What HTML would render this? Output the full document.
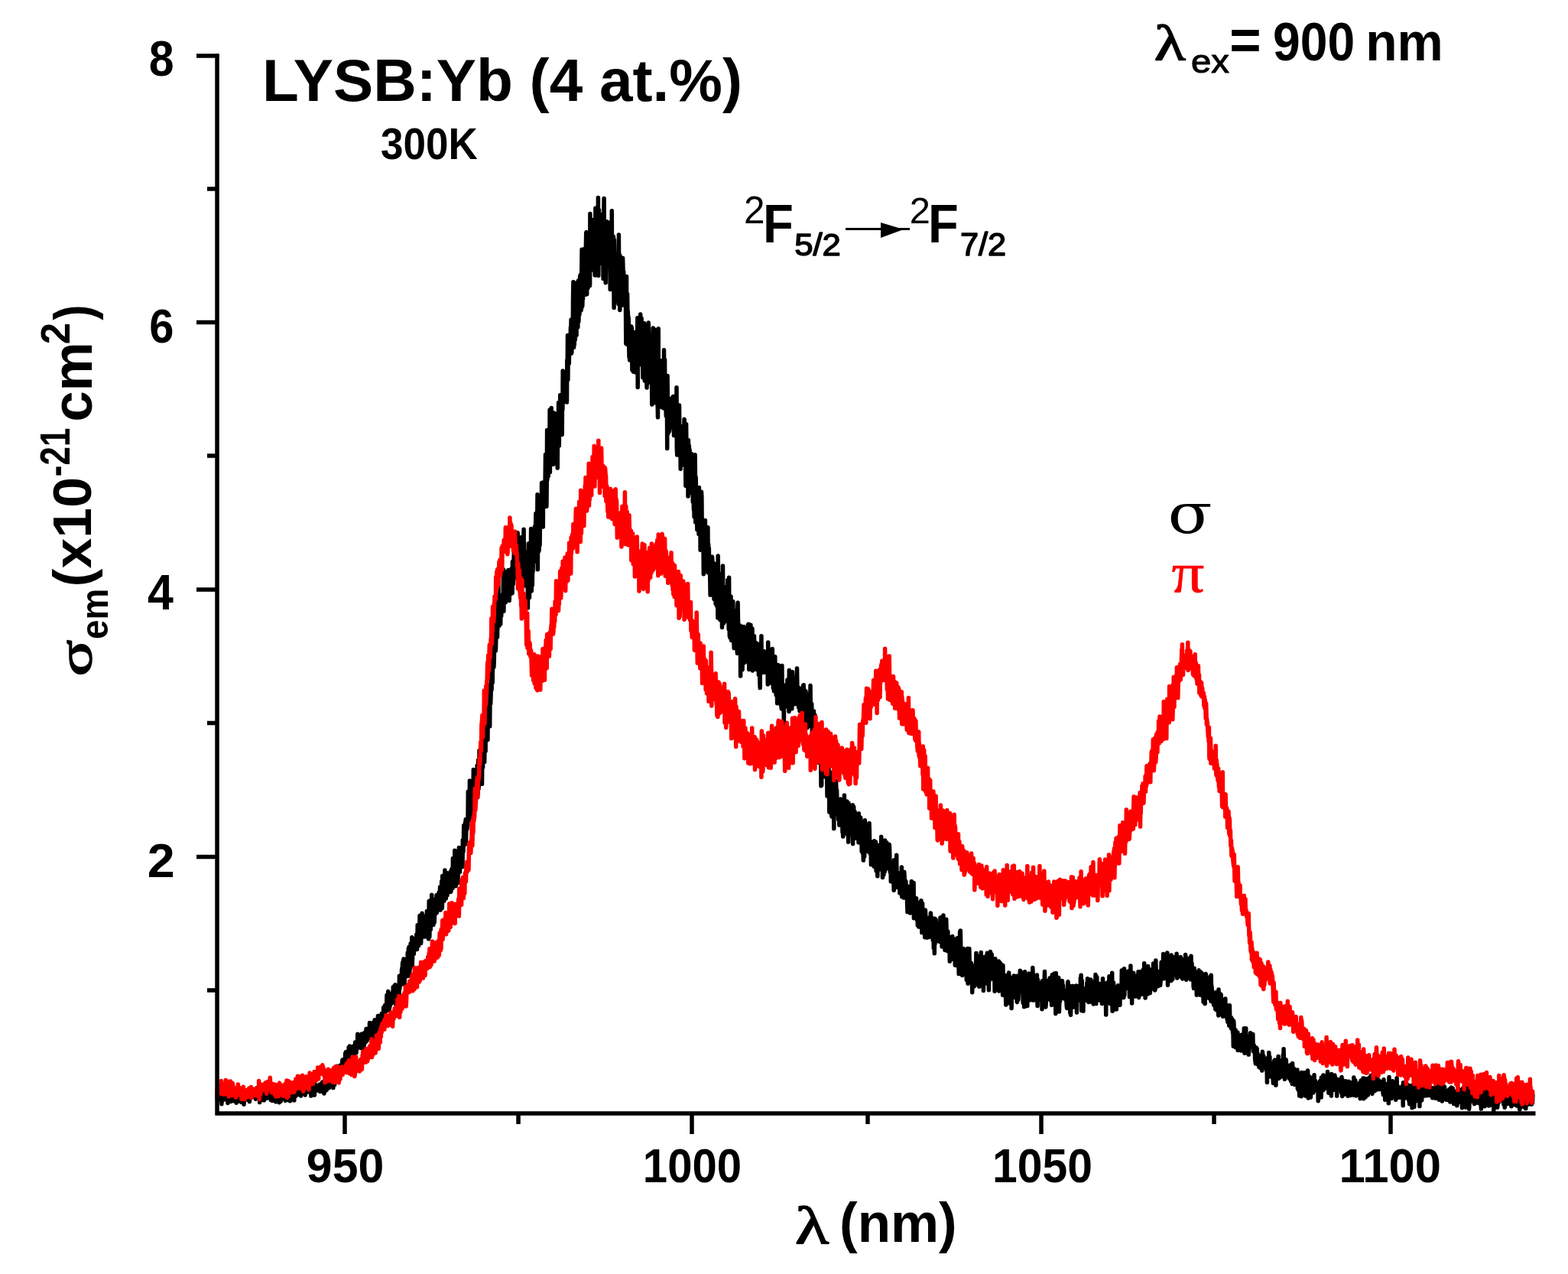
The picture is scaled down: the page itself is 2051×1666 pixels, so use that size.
<!DOCTYPE html>
<html><head><meta charset="utf-8"><title>LYSB:Yb emission cross-section</title>
<style>
html,body{margin:0;padding:0;background:#fff;}
svg{display:block;}
text{font-family:"Liberation Sans", Arial, sans-serif;font-weight:bold;fill:#000;}
.sym{font-family:"Liberation Serif", "DejaVu Serif", serif;font-weight:normal;}
</style></head>
<body>
<svg width="2051" height="1666" viewBox="0 0 2051 1666">
<rect width="2051" height="1666" fill="#fff"/>
<g>
<g fill="none" stroke-linejoin="round">
<polyline points="284.0,1438.3 284.4,1439.0 284.7,1432.8 285.1,1429.1 285.4,1427.7 285.8,1432.8 286.1,1428.0 286.5,1426.2 286.8,1433.6 287.2,1433.3 287.5,1435.2 287.9,1428.6 288.2,1432.8 288.6,1432.5 288.9,1426.0 289.3,1435.3 289.6,1434.3 290.0,1443.7 290.3,1433.8 290.7,1432.3 291.0,1438.5 291.4,1433.9 291.7,1437.1 292.1,1431.3 292.4,1434.0 292.8,1437.7 293.1,1436.2 293.5,1433.7 293.8,1428.2 294.2,1435.2 294.5,1433.5 294.9,1436.4 295.2,1434.2 295.6,1438.2 295.9,1433.0 296.3,1434.2 296.6,1436.3 297.0,1428.4 297.3,1431.5 297.7,1431.1 298.0,1442.4 298.4,1433.0 298.7,1436.4 299.1,1436.3 299.4,1432.2 299.8,1426.4 300.1,1437.9 300.5,1431.7 300.8,1436.9 301.2,1427.8 301.5,1431.8 301.9,1439.6 302.2,1440.5 302.6,1428.1 302.9,1428.0 303.3,1433.9 303.6,1437.5 304.0,1435.0 304.3,1435.7 304.7,1429.9 305.0,1437.2 305.4,1439.7 305.7,1432.7 306.1,1428.2 306.4,1431.3 306.8,1438.3 307.1,1427.0 307.5,1434.6 307.8,1430.5 308.2,1434.5 308.5,1434.1 308.9,1435.3 309.2,1442.2 309.6,1437.3 309.9,1441.6 310.3,1434.9 310.6,1433.3 311.0,1437.2 311.3,1423.6 311.7,1435.3 312.0,1436.2 312.4,1429.8 312.7,1437.6 313.1,1432.9 313.4,1424.2 313.8,1434.5 314.1,1431.0 314.5,1433.1 314.8,1434.8 315.2,1441.2 315.5,1436.0 315.9,1435.4 316.2,1437.3 316.6,1427.2 316.9,1441.2 317.3,1430.5 317.6,1437.5 318.0,1430.3 318.3,1431.0 318.7,1433.7 319.0,1444.2 319.4,1438.7 319.7,1432.7 320.1,1434.2 320.4,1430.0 320.8,1434.9 321.1,1432.2 321.5,1438.0 321.8,1428.2 322.2,1432.7 322.5,1430.1 322.9,1430.5 323.2,1436.9 323.6,1434.0 323.9,1435.9 324.3,1438.4 324.6,1438.1 325.0,1426.2 325.3,1434.8 325.7,1424.0 326.0,1431.6 326.4,1440.6 326.7,1430.6 327.1,1429.6 327.4,1431.8 327.8,1430.9 328.1,1430.8 328.5,1426.9 328.8,1435.2 329.2,1434.1 329.5,1428.8 329.9,1431.0 330.2,1432.6 330.6,1434.3 330.9,1431.3 331.3,1432.7 331.6,1428.3 332.0,1424.5 332.3,1427.2 332.7,1434.2 333.0,1434.0 333.4,1430.2 333.7,1426.9 334.1,1430.9 334.4,1437.2 334.8,1435.8 335.1,1426.3 335.5,1429.3 335.8,1422.7 336.2,1424.2 336.5,1430.4 336.9,1429.6 337.2,1434.0 337.6,1435.4 337.9,1433.4 338.3,1435.7 338.6,1426.9 339.0,1424.2 339.3,1431.8 339.7,1441.6 340.0,1431.2 340.4,1424.1 340.7,1430.5 341.1,1436.0 341.4,1424.4 341.8,1432.9 342.1,1426.2 342.5,1435.0 342.8,1432.6 343.2,1430.3 343.5,1438.2 343.9,1426.8 344.2,1425.4 344.6,1437.3 344.9,1424.4 345.3,1438.8 345.6,1428.2 346.0,1423.5 346.3,1428.2 346.7,1428.8 347.0,1429.0 347.4,1427.1 347.7,1433.0 348.1,1417.0 348.4,1425.2 348.8,1426.5 349.1,1436.2 349.5,1418.2 349.8,1425.9 350.2,1422.2 350.5,1424.7 350.9,1431.0 351.2,1430.2 351.6,1435.2 351.9,1425.8 352.3,1430.1 352.6,1434.6 353.0,1433.5 353.3,1427.9 353.7,1435.0 354.0,1425.5 354.4,1438.6 354.7,1431.0 355.1,1430.0 355.4,1432.0 355.8,1435.0 356.1,1439.4 356.5,1430.7 356.8,1429.8 357.2,1434.6 357.5,1427.9 357.9,1424.2 358.2,1436.4 358.6,1430.8 358.9,1438.2 359.3,1428.2 359.6,1421.0 360.0,1434.8 360.3,1434.2 360.7,1440.9 361.0,1435.7 361.4,1434.6 361.7,1435.9 362.1,1431.2 362.4,1433.3 362.8,1426.4 363.1,1435.2 363.5,1428.8 363.8,1430.4 364.2,1435.8 364.5,1436.7 364.9,1427.5 365.2,1441.7 365.6,1429.3 365.9,1436.0 366.3,1436.5 366.6,1432.9 367.0,1432.6 367.3,1440.2 367.7,1435.8 368.0,1433.6 368.4,1422.7 368.7,1427.8 369.1,1436.8 369.4,1432.1 369.8,1426.5 370.1,1427.9 370.5,1429.5 370.8,1434.3 371.2,1432.8 371.5,1435.8 371.9,1427.1 372.2,1435.7 372.6,1428.6 372.9,1429.6 373.3,1439.3 373.6,1431.4 374.0,1430.3 374.3,1430.0 374.7,1429.2 375.0,1438.4 375.4,1437.6 375.7,1434.4 376.1,1431.9 376.4,1436.0 376.8,1430.6 377.1,1433.2 377.5,1432.9 377.8,1431.4 378.2,1438.9 378.5,1439.4 378.9,1437.3 379.2,1421.8 379.6,1439.8 379.9,1434.4 380.3,1428.7 380.6,1430.5 381.0,1435.9 381.3,1435.9 381.7,1434.1 382.0,1430.5 382.4,1429.8 382.7,1433.4 383.1,1428.7 383.4,1424.6 383.8,1425.8 384.1,1427.9 384.5,1429.9 384.8,1439.0 385.2,1421.3 385.5,1430.0 385.9,1427.0 386.2,1428.7 386.6,1433.6 386.9,1432.8 387.3,1425.9 387.6,1423.8 388.0,1419.7 388.3,1425.7 388.7,1431.8 389.0,1424.3 389.4,1428.8 389.7,1428.6 390.1,1426.9 390.4,1430.2 390.8,1424.3 391.1,1420.8 391.5,1419.1 391.8,1429.2 392.2,1422.9 392.5,1423.1 392.9,1428.6 393.2,1420.7 393.6,1433.0 393.9,1427.6 394.3,1421.8 394.6,1421.2 395.0,1429.5 395.3,1418.5 395.7,1421.1 396.0,1424.1 396.4,1425.0 396.7,1424.1 397.1,1425.8 397.4,1422.1 397.8,1423.3 398.1,1429.9 398.5,1426.9 398.8,1421.5 399.2,1431.9 399.5,1413.9 399.9,1423.9 400.2,1426.7 400.6,1428.2 400.9,1424.0 401.3,1421.6 401.6,1426.3 402.0,1422.6 402.3,1425.8 402.7,1410.9 403.0,1425.4 403.4,1419.7 403.7,1428.1 404.1,1427.1 404.4,1427.0 404.8,1421.5 405.1,1425.6 405.5,1421.8 405.8,1424.5 406.2,1422.8 406.5,1419.3 406.9,1433.1 407.2,1427.0 407.6,1413.5 407.9,1427.9 408.3,1416.7 408.6,1422.4 409.0,1420.7 409.3,1420.9 409.7,1424.7 410.0,1421.9 410.4,1416.4 410.7,1423.5 411.1,1425.3 411.4,1432.1 411.8,1421.5 412.1,1417.7 412.5,1421.6 412.8,1426.7 413.2,1419.2 413.5,1420.0 413.9,1426.2 414.2,1423.4 414.6,1424.6 414.9,1420.4 415.3,1419.5 415.6,1421.9 416.0,1422.7 416.3,1421.9 416.7,1425.6 417.0,1426.2 417.4,1426.2 417.7,1425.8 418.1,1419.2 418.4,1418.0 418.8,1427.4 419.1,1423.6 419.5,1424.1 419.8,1417.8 420.2,1422.4 420.5,1420.0 420.9,1418.7 421.2,1419.6 421.6,1415.1 421.9,1422.6 422.3,1427.7 422.6,1418.2 423.0,1421.9 423.3,1415.8 423.7,1424.2 424.0,1429.9 424.4,1414.4 424.7,1419.1 425.1,1427.0 425.4,1421.5 425.8,1420.0 426.1,1409.2 426.5,1418.2 426.8,1423.3 427.2,1425.6 427.5,1421.4 427.9,1415.1 428.2,1414.4 428.6,1408.5 428.9,1412.0 429.3,1422.6 429.6,1416.2 430.0,1409.9 430.3,1422.7 430.7,1407.5 431.0,1421.6 431.4,1413.4 431.7,1416.2 432.1,1417.5 432.4,1415.0 432.8,1419.6 433.1,1413.0 433.5,1410.9 433.8,1408.9 434.2,1404.6 434.5,1407.9 434.9,1415.8 435.2,1414.6 435.6,1417.0 435.9,1422.6 436.3,1412.8 436.6,1411.4 437.0,1402.0 437.3,1406.9 437.7,1418.6 438.0,1409.9 438.4,1406.2 438.7,1408.0 439.1,1396.7 439.4,1401.5 439.8,1398.8 440.1,1394.2 440.5,1408.0 440.8,1408.4 441.2,1402.1 441.5,1404.1 441.9,1396.8 442.2,1403.4 442.6,1404.3 442.9,1407.6 443.3,1407.1 443.6,1401.1 444.0,1397.5 444.3,1393.4 444.7,1393.8 445.0,1399.3 445.4,1398.5 445.7,1395.1 446.1,1402.7 446.4,1397.0 446.8,1393.3 447.1,1391.6 447.5,1392.3 447.8,1386.6 448.2,1385.8 448.5,1391.9 448.9,1386.6 449.2,1387.5 449.6,1394.4 449.9,1386.7 450.3,1393.9 450.6,1387.0 451.0,1394.4 451.3,1388.9 451.7,1377.3 452.0,1392.3 452.4,1384.7 452.7,1375.4 453.1,1385.8 453.4,1385.8 453.8,1378.0 454.1,1381.3 454.5,1387.0 454.8,1391.3 455.2,1389.6 455.5,1389.8 455.9,1389.0 456.2,1369.7 456.6,1378.7 456.9,1383.3 457.3,1368.1 457.6,1385.9 458.0,1386.3 458.3,1377.1 458.7,1378.9 459.0,1375.6 459.4,1380.4 459.7,1380.0 460.1,1379.9 460.4,1373.7 460.8,1380.9 461.1,1376.3 461.5,1383.0 461.8,1378.9 462.2,1368.2 462.5,1367.9 462.9,1375.8 463.2,1372.1 463.6,1377.0 463.9,1378.4 464.3,1373.3 464.6,1363.0 465.0,1365.2 465.3,1374.8 465.7,1364.9 466.0,1376.8 466.4,1369.3 466.7,1372.3 467.1,1363.5 467.4,1367.6 467.8,1352.3 468.1,1365.8 468.5,1369.9 468.8,1360.6 469.2,1360.3 469.5,1364.5 469.9,1364.6 470.2,1359.0 470.6,1367.7 470.9,1353.5 471.3,1369.9 471.6,1354.4 472.0,1357.7 472.3,1370.6 472.7,1356.2 473.0,1351.9 473.4,1362.3 473.7,1355.9 474.1,1354.4 474.4,1356.8 474.8,1356.3 475.1,1354.6 475.5,1354.0 475.8,1370.4 476.2,1355.8 476.5,1365.9 476.9,1350.6 477.2,1362.8 477.6,1351.1 477.9,1355.9 478.3,1362.7 478.6,1355.0 479.0,1345.5 479.3,1354.4 479.7,1356.7 480.0,1361.2 480.4,1350.6 480.7,1354.8 481.1,1356.8 481.4,1345.1 481.8,1354.9 482.1,1349.7 482.5,1357.7 482.8,1353.7 483.2,1352.9 483.5,1337.5 483.9,1352.5 484.2,1350.4 484.6,1346.1 484.9,1348.7 485.3,1343.2 485.6,1352.5 486.0,1355.4 486.3,1354.6 486.7,1346.6 487.0,1361.3 487.4,1355.3 487.7,1342.5 488.1,1347.7 488.4,1337.0 488.8,1347.1 489.1,1352.4 489.5,1356.0 489.8,1343.8 490.2,1333.8 490.5,1344.8 490.9,1355.2 491.2,1346.2 491.6,1353.8 491.9,1350.3 492.3,1355.2 492.6,1348.0 493.0,1338.6 493.3,1346.1 493.7,1360.8 494.0,1338.4 494.4,1328.4 494.7,1356.6 495.1,1344.0 495.4,1336.1 495.8,1335.8 496.1,1328.5 496.5,1344.0 496.8,1339.0 497.2,1332.4 497.5,1333.1 497.9,1332.1 498.2,1342.3 498.6,1332.2 498.9,1342.9 499.3,1325.5 499.6,1326.3 500.0,1326.3 500.3,1325.0 500.7,1327.5 501.0,1335.0 501.4,1335.6 501.7,1317.4 502.1,1334.3 502.4,1324.5 502.8,1335.0 503.1,1320.7 503.5,1314.6 503.8,1326.2 504.2,1324.1 504.5,1314.9 504.9,1317.7 505.2,1317.6 505.6,1318.1 505.9,1301.5 506.3,1304.5 506.6,1313.5 507.0,1314.2 507.3,1307.2 507.7,1296.5 508.0,1320.1 508.4,1306.9 508.7,1300.8 509.1,1321.6 509.4,1317.7 509.8,1316.8 510.1,1315.0 510.5,1312.6 510.8,1300.0 511.2,1307.9 511.5,1310.3 511.9,1312.4 512.2,1310.9 512.6,1298.7 512.9,1301.7 513.3,1303.7 513.6,1304.6 514.0,1298.9 514.3,1290.8 514.7,1295.6 515.0,1308.0 515.4,1305.1 515.7,1309.8 516.1,1289.1 516.4,1301.1 516.8,1311.8 517.1,1287.8 517.5,1294.9 517.8,1289.8 518.2,1313.8 518.5,1303.6 518.9,1298.3 519.2,1304.2 519.6,1302.0 519.9,1310.2 520.3,1311.3 520.6,1307.6 521.0,1301.2 521.3,1303.3 521.7,1302.2 522.0,1303.7 522.4,1276.3 522.7,1293.6 523.1,1289.7 523.4,1288.9 523.8,1283.8 524.1,1283.8 524.5,1287.1 524.8,1283.0 525.2,1280.9 525.5,1268.8 525.9,1265.7 526.2,1268.9 526.6,1259.0 526.9,1269.2 527.3,1265.4 527.6,1256.1 528.0,1254.0 528.3,1266.1 528.7,1264.2 529.0,1287.8 529.4,1275.3 529.7,1259.8 530.1,1261.4 530.4,1255.9 530.8,1257.1 531.1,1260.1 531.5,1261.9 531.8,1255.9 532.2,1268.1 532.5,1265.6 532.9,1276.6 533.2,1246.1 533.6,1263.3 533.9,1252.8 534.3,1240.7 534.6,1251.7 535.0,1238.6 535.3,1252.5 535.7,1275.8 536.0,1263.0 536.4,1266.9 536.7,1260.3 537.1,1234.1 537.4,1251.3 537.8,1247.9 538.1,1249.8 538.5,1235.3 538.8,1225.7 539.2,1263.0 539.5,1253.7 539.9,1244.6 540.2,1236.3 540.6,1241.8 540.9,1227.6 541.3,1247.5 541.6,1239.2 542.0,1235.4 542.3,1231.9 542.7,1234.5 543.0,1235.6 543.4,1229.7 543.7,1241.9 544.1,1233.9 544.4,1230.2 544.8,1222.1 545.1,1241.4 545.5,1241.4 545.8,1234.8 546.2,1209.7 546.5,1223.3 546.9,1235.5 547.2,1225.6 547.6,1236.8 547.9,1219.4 548.3,1230.7 548.6,1227.3 549.0,1197.6 549.3,1216.8 549.7,1217.7 550.0,1213.1 550.4,1209.7 550.7,1233.4 551.1,1215.8 551.4,1224.1 551.8,1202.3 552.1,1194.2 552.5,1209.4 552.8,1217.3 553.2,1205.4 553.5,1217.1 553.9,1219.1 554.2,1205.8 554.6,1209.0 554.9,1201.4 555.3,1218.9 555.6,1225.1 556.0,1211.6 556.3,1201.1 556.7,1198.7 557.0,1202.6 557.4,1214.1 557.7,1197.0 558.1,1219.4 558.4,1191.6 558.8,1203.6 559.1,1216.7 559.5,1221.1 559.8,1198.4 560.2,1210.3 560.5,1227.8 560.9,1213.5 561.2,1178.5 561.6,1203.6 561.9,1224.9 562.3,1188.0 562.6,1209.1 563.0,1177.6 563.3,1215.4 563.7,1189.8 564.0,1206.6 564.4,1207.3 564.7,1170.3 565.1,1182.1 565.4,1200.2 565.8,1180.4 566.1,1195.8 566.5,1185.6 566.8,1209.4 567.2,1189.5 567.5,1184.8 567.9,1201.0 568.2,1206.4 568.6,1190.8 568.9,1194.4 569.3,1195.7 569.6,1184.2 570.0,1175.8 570.3,1193.2 570.7,1182.7 571.0,1170.8 571.4,1193.7 571.7,1188.2 572.1,1184.1 572.4,1173.4 572.8,1178.1 573.1,1186.1 573.5,1183.8 573.8,1168.6 574.2,1166.8 574.5,1179.3 574.9,1176.6 575.2,1182.9 575.6,1159.9 575.9,1181.7 576.3,1190.0 576.6,1180.1 577.0,1170.1 577.3,1177.6 577.7,1152.5 578.0,1160.8 578.4,1187.4 578.7,1145.6 579.1,1149.9 579.4,1170.8 579.8,1153.4 580.1,1153.6 580.5,1147.1 580.8,1178.1 581.2,1152.2 581.5,1155.6 581.9,1138.1 582.2,1166.7 582.6,1157.7 582.9,1163.1 583.3,1175.0 583.6,1158.6 584.0,1143.1 584.3,1144.8 584.7,1156.9 585.0,1170.6 585.4,1141.7 585.7,1152.2 586.1,1153.1 586.4,1161.9 586.8,1143.9 587.1,1157.4 587.5,1162.5 587.8,1152.7 588.2,1151.7 588.5,1159.7 588.9,1158.9 589.2,1166.5 589.6,1139.2 589.9,1165.6 590.3,1148.4 590.6,1137.5 591.0,1144.0 591.3,1135.8 591.7,1147.5 592.0,1161.5 592.4,1122.4 592.7,1134.0 593.1,1156.0 593.4,1142.6 593.8,1154.6 594.1,1128.9 594.5,1143.0 594.8,1112.2 595.2,1132.0 595.5,1149.9 595.9,1154.7 596.2,1158.8 596.6,1138.0 596.9,1127.4 597.3,1132.4 597.6,1113.3 598.0,1151.4 598.3,1148.5 598.7,1122.7 599.0,1154.7 599.4,1115.7 599.7,1137.8 600.1,1120.6 600.4,1108.5 600.8,1133.4 601.1,1113.5 601.5,1140.3 601.8,1113.2 602.2,1123.8 602.5,1115.0 602.9,1120.8 603.2,1109.7 603.6,1125.8 603.9,1121.6 604.3,1113.3 604.6,1109.2 605.0,1133.4 605.3,1098.7 605.7,1100.2 606.0,1113.6 606.4,1101.8 606.7,1079.5 607.1,1096.2 607.4,1091.1 607.8,1081.4 608.1,1094.4 608.5,1075.6 608.8,1084.7 609.2,1071.5 609.5,1103.7 609.9,1078.3 610.2,1085.4 610.6,1081.3 610.9,1084.5 611.3,1071.4 611.6,1080.9 612.0,1070.7 612.3,1035.3 612.7,1068.8 613.0,1045.9 613.4,1072.8 613.7,1061.2 614.1,1051.3 614.4,1021.0 614.8,1023.9 615.1,1034.3 615.5,1042.6 615.8,1027.3 616.2,1069.5 616.5,1047.3 616.9,1037.9 617.2,1023.8 617.6,1030.2 617.9,1029.4 618.3,1025.7 618.6,1030.1 619.0,1041.5 619.3,1006.6 619.7,1032.8 620.0,1044.2 620.4,1010.3 620.7,1025.8 621.1,1022.7 621.4,1011.8 621.8,1039.9 622.1,1022.0 622.5,1041.6 622.8,1031.1 623.2,1021.2 623.5,1028.5 623.9,1018.9 624.2,1000.9 624.6,1042.8 624.9,1027.7 625.3,1037.2 625.6,993.9 626.0,1031.8 626.3,1026.7 626.7,1012.7 627.0,981.5 627.4,1010.7 627.7,997.9 628.1,1002.7 628.4,1004.2 628.8,988.6 629.1,997.6 629.5,997.7 629.8,1016.3 630.2,992.2 630.5,1025.2 630.9,972.7 631.2,985.7 631.6,1003.6 631.9,961.2 632.3,990.7 632.6,985.6 633.0,969.2 633.3,972.4 633.7,996.4 634.0,965.5 634.4,973.6 634.7,973.4 635.1,982.3 635.4,931.9 635.8,938.1 636.1,937.6 636.5,950.7 636.8,961.5 637.2,962.2 637.5,943.2 637.9,967.5 638.2,941.5 638.6,950.4 638.9,926.4 639.3,947.7 639.6,922.0 640.0,947.7 640.3,939.1 640.7,949.7 641.0,910.6 641.4,894.9 641.7,920.5 642.1,908.2 642.4,890.7 642.8,873.8 643.1,901.9 643.5,855.2 643.8,873.4 644.2,892.5 644.5,867.6 644.9,874.0 645.2,870.6 645.6,868.7 645.9,872.5 646.3,862.7 646.6,843.1 647.0,826.2 647.3,837.5 647.7,828.1 648.0,841.4 648.4,851.0 648.7,840.4 649.1,813.4 649.4,824.2 649.8,817.6 650.1,806.9 650.5,833.2 650.8,820.2 651.2,814.1 651.5,786.5 651.9,762.1 652.2,790.3 652.6,818.7 652.9,794.6 653.3,795.6 653.6,789.7 654.0,799.8 654.3,789.8 654.7,816.1 655.0,783.8 655.4,779.4 655.7,805.3 656.1,792.4 656.4,791.0 656.8,787.7 657.1,777.8 657.5,783.3 657.8,786.5 658.2,778.8 658.5,744.8 658.9,799.3 659.2,767.4 659.6,765.4 659.9,768.7 660.3,761.7 660.6,758.6 661.0,771.6 661.3,787.7 661.7,767.0 662.0,779.7 662.4,747.8 662.7,783.7 663.1,750.5 663.4,781.8 663.8,756.3 664.1,758.2 664.5,746.3 664.8,745.5 665.2,763.3 665.5,749.6 665.9,762.3 666.2,785.4 666.6,749.4 666.9,757.6 667.3,760.4 667.6,750.1 668.0,759.4 668.3,763.1 668.7,776.4 669.0,743.7 669.4,751.8 669.7,751.7 670.1,775.5 670.4,734.4 670.8,754.4 671.1,764.2 671.5,759.8 671.8,735.2 672.2,728.1 672.5,711.7 672.9,734.3 673.2,738.0 673.6,713.8 673.9,755.4 674.3,741.5 674.6,732.7 675.0,725.9 675.3,743.1 675.7,727.6 676.0,740.9 676.4,721.1 676.7,748.4 677.1,696.8 677.4,705.8 677.8,758.3 678.1,743.3 678.5,755.0 678.8,709.5 679.2,738.7 679.5,744.3 679.9,743.2 680.2,722.8 680.6,754.7 680.9,735.1 681.3,702.8 681.6,775.2 682.0,730.9 682.3,753.0 682.7,715.9 683.0,711.7 683.4,747.2 683.7,746.5 684.1,716.6 684.4,736.3 684.8,706.1 685.1,692.3 685.5,754.2 685.8,710.8 686.2,748.4 686.5,755.5 686.9,742.6 687.2,766.0 687.6,744.0 687.9,743.4 688.3,738.4 688.6,747.5 689.0,746.9 689.3,722.0 689.7,740.5 690.0,734.7 690.4,795.0 690.7,768.3 691.1,728.6 691.4,757.2 691.8,710.6 692.1,747.2 692.5,781.5 692.8,745.0 693.2,768.1 693.5,733.1 693.9,748.6 694.2,745.5 694.6,691.6 694.9,718.7 695.3,772.7 695.6,715.3 696.0,755.8 696.3,765.1 696.7,727.3 697.0,747.7 697.4,733.1 697.7,711.8 698.1,735.0 698.4,730.3 698.8,699.2 699.1,708.9 699.5,688.5 699.8,708.1 700.2,712.8 700.5,691.6 700.9,671.4 701.2,723.3 701.6,734.3 701.9,686.9 702.3,706.1 702.6,689.0 703.0,646.7 703.3,744.7 703.7,704.6 704.0,667.3 704.4,721.4 704.7,707.4 705.1,719.6 705.4,702.7 705.8,696.0 706.1,712.7 706.5,674.0 706.8,682.5 707.2,651.9 707.5,648.2 707.9,674.5 708.2,672.5 708.6,631.4 708.9,670.6 709.3,681.8 709.6,631.0 710.0,648.1 710.3,689.1 710.7,631.4 711.0,658.9 711.4,660.5 711.7,644.7 712.1,641.0 712.4,647.1 712.8,638.2 713.1,632.4 713.5,594.6 713.8,628.6 714.2,603.5 714.5,649.7 714.9,662.3 715.2,635.6 715.6,562.5 715.9,627.3 716.3,606.5 716.6,579.0 717.0,574.8 717.3,622.5 717.7,584.1 718.0,594.9 718.4,596.6 718.7,614.1 719.1,536.0 719.4,617.5 719.8,571.8 720.1,579.1 720.5,599.9 720.8,593.0 721.2,533.4 721.5,595.2 721.9,577.3 722.2,557.0 722.6,564.9 722.9,542.4 723.3,593.1 723.6,607.2 724.0,560.2 724.3,562.5 724.7,539.9 725.0,555.2 725.4,547.3 725.7,568.9 726.1,605.4 726.4,589.3 726.8,586.6 727.1,542.8 727.5,581.3 727.8,546.1 728.2,541.3 728.5,575.8 728.9,556.4 729.2,612.1 729.6,560.6 729.9,548.6 730.3,570.2 730.6,526.5 731.0,565.2 731.3,582.9 731.7,543.7 732.0,533.6 732.4,568.1 732.7,516.8 733.1,548.0 733.4,526.4 733.8,542.9 734.1,517.1 734.5,546.2 734.8,543.4 735.2,568.2 735.5,519.4 735.9,535.6 736.2,484.9 736.6,504.8 736.9,526.4 737.3,488.3 737.6,514.6 738.0,495.2 738.3,523.3 738.7,523.3 739.0,496.6 739.4,519.0 739.7,489.2 740.1,501.4 740.4,507.8 740.8,505.9 741.1,503.9 741.5,525.9 741.8,470.7 742.2,478.9 742.5,438.6 742.9,496.5 743.2,449.0 743.6,458.0 743.9,457.1 744.3,475.3 744.6,456.8 745.0,454.0 745.3,459.6 745.7,447.8 746.0,452.3 746.4,428.2 746.7,435.4 747.1,417.9 747.4,462.2 747.8,460.7 748.1,452.9 748.5,442.9 748.8,419.2 749.2,442.9 749.5,392.8 749.9,368.7 750.2,395.9 750.6,454.3 750.9,423.4 751.3,450.6 751.6,396.7 752.0,433.4 752.3,444.4 752.7,428.7 753.0,410.7 753.4,426.7 753.7,389.7 754.1,438.3 754.4,369.7 754.8,376.6 755.1,392.4 755.5,372.4 755.8,427.9 756.2,401.2 756.5,367.0 756.9,420.1 757.2,410.7 757.6,368.9 757.9,411.4 758.3,401.6 758.6,362.0 759.0,359.8 759.3,378.9 759.7,397.3 760.0,406.1 760.4,403.7 760.7,357.1 761.1,326.3 761.4,327.7 761.8,400.4 762.1,389.1 762.5,391.1 762.8,362.9 763.2,364.1 763.5,372.4 763.9,371.0 764.2,361.1 764.6,335.6 764.9,325.1 765.3,358.9 765.6,350.4 766.0,385.3 766.3,326.8 766.7,304.4 767.0,303.5 767.4,346.6 767.7,384.7 768.1,336.9 768.4,327.4 768.8,350.9 769.1,376.3 769.5,364.6 769.8,358.5 770.2,358.4 770.5,328.9 770.9,336.3 771.2,342.5 771.6,373.4 771.9,279.6 772.3,316.8 772.6,337.0 773.0,321.9 773.3,323.6 773.7,319.5 774.0,302.7 774.4,335.3 774.7,352.6 775.1,313.6 775.4,331.0 775.8,345.5 776.1,304.0 776.5,316.0 776.8,287.2 777.2,352.6 777.5,354.9 777.9,309.8 778.2,360.1 778.6,334.0 778.9,272.3 779.3,325.9 779.6,320.6 780.0,326.6 780.3,330.9 780.7,304.9 781.0,341.6 781.4,322.9 781.7,359.5 782.1,313.4 782.4,258.5 782.8,360.4 783.1,329.3 783.5,274.4 783.8,302.9 784.2,298.8 784.5,338.7 784.9,302.9 785.2,344.2 785.6,306.0 785.9,339.9 786.3,303.8 786.6,290.6 787.0,331.8 787.3,312.9 787.7,330.4 788.0,280.6 788.4,294.9 788.7,310.9 789.1,364.4 789.4,328.4 789.8,280.6 790.1,259.6 790.5,362.3 790.8,327.4 791.2,290.7 791.5,342.7 791.9,339.8 792.2,369.7 792.6,324.9 792.9,309.1 793.3,339.6 793.6,289.7 794.0,310.7 794.3,298.7 794.7,309.4 795.0,293.7 795.4,290.8 795.7,299.4 796.1,334.8 796.4,327.3 796.8,325.7 797.1,339.1 797.5,346.3 797.8,340.9 798.2,378.4 798.5,338.1 798.9,341.1 799.2,321.9 799.6,359.0 799.9,367.7 800.3,275.7 800.6,355.3 801.0,311.9 801.3,346.2 801.7,340.8 802.0,310.5 802.4,309.1 802.7,335.3 803.1,402.5 803.4,313.8 803.8,333.8 804.1,337.2 804.5,338.3 804.8,371.5 805.2,394.0 805.5,345.3 805.9,356.7 806.2,339.9 806.6,385.3 806.9,347.5 807.3,365.6 807.6,345.5 808.0,377.3 808.3,349.7 808.7,331.9 809.0,397.8 809.4,306.9 809.7,357.8 810.1,345.9 810.4,333.2 810.8,405.4 811.1,364.3 811.5,346.9 811.8,336.1 812.2,366.1 812.5,358.5 812.9,353.4 813.2,344.5 813.6,399.2 813.9,369.5 814.3,361.6 814.6,337.6 815.0,351.0 815.3,389.4 815.7,355.2 816.0,391.2 816.4,374.5 816.7,388.7 817.1,389.4 817.4,372.1 817.8,378.1 818.1,384.8 818.5,404.4 818.8,449.2 819.2,413.4 819.5,361.6 819.9,450.3 820.2,395.5 820.6,384.6 820.9,408.1 821.3,406.9 821.6,417.9 822.0,414.2 822.3,417.5 822.7,452.9 823.0,467.0 823.4,430.5 823.7,470.9 824.1,458.0 824.4,467.8 824.8,448.0 825.1,449.8 825.5,467.9 825.8,427.1 826.2,455.9 826.5,429.3 826.9,484.1 827.2,467.8 827.6,477.3 827.9,453.7 828.3,442.6 828.6,486.3 829.0,450.9 829.3,456.3 829.7,462.5 830.0,473.3 830.4,462.9 830.7,434.7 831.1,434.3 831.4,486.9 831.8,452.8 832.1,454.5 832.5,437.9 832.8,484.4 833.2,472.4 833.5,446.3 833.9,415.8 834.2,506.4 834.6,445.4 834.9,429.7 835.3,446.9 835.6,430.0 836.0,459.2 836.3,444.9 836.7,428.4 837.0,476.7 837.4,436.9 837.7,410.9 838.1,468.3 838.4,445.2 838.8,431.3 839.1,416.2 839.5,441.6 839.8,444.3 840.2,447.5 840.5,447.2 840.9,493.7 841.2,488.5 841.6,469.0 841.9,475.8 842.3,449.0 842.6,422.7 843.0,475.4 843.3,497.9 843.7,443.1 844.0,443.4 844.4,443.3 844.7,426.8 845.1,476.8 845.4,433.3 845.8,499.1 846.1,506.9 846.5,464.7 846.8,461.2 847.2,439.3 847.5,486.4 847.9,464.3 848.2,421.9 848.6,436.7 848.9,474.4 849.3,448.3 849.6,473.5 850.0,468.2 850.3,500.2 850.7,458.7 851.0,489.8 851.4,490.9 851.7,496.7 852.1,451.7 852.4,468.4 852.8,529.1 853.1,455.5 853.5,444.4 853.8,463.8 854.2,428.9 854.5,437.6 854.9,448.9 855.2,452.6 855.6,486.9 855.9,430.8 856.3,456.3 856.6,469.8 857.0,456.6 857.3,485.7 857.7,527.0 858.0,440.6 858.4,447.9 858.7,459.0 859.1,459.8 859.4,461.5 859.8,488.6 860.1,525.1 860.5,545.7 860.8,480.2 861.2,429.8 861.5,526.6 861.9,487.5 862.2,477.9 862.6,519.2 862.9,489.0 863.3,487.4 863.6,471.5 864.0,519.7 864.3,518.8 864.7,475.5 865.0,484.3 865.4,532.4 865.7,482.4 866.1,491.4 866.4,483.4 866.8,498.3 867.1,528.0 867.5,508.4 867.8,533.7 868.2,524.6 868.5,457.8 868.9,510.9 869.2,511.8 869.6,470.6 869.9,534.8 870.3,514.4 870.6,503.9 871.0,531.4 871.3,543.9 871.7,538.8 872.0,507.9 872.4,521.5 872.7,586.4 873.1,491.5 873.4,527.7 873.8,527.8 874.1,566.5 874.5,544.9 874.8,536.0 875.2,523.8 875.5,563.8 875.9,534.9 876.2,531.5 876.6,539.2 876.9,553.2 877.3,537.6 877.6,544.0 878.0,558.5 878.3,521.0 878.7,534.1 879.0,542.8 879.4,559.1 879.7,556.9 880.1,531.5 880.4,518.5 880.8,536.0 881.1,533.7 881.5,569.5 881.8,564.0 882.2,550.5 882.5,522.7 882.9,517.9 883.2,554.6 883.6,567.6 883.9,562.6 884.3,547.8 884.6,569.2 885.0,506.8 885.3,585.3 885.7,595.0 886.0,562.8 886.4,565.3 886.7,555.1 887.1,583.3 887.4,539.5 887.8,548.9 888.1,574.1 888.5,530.1 888.8,578.4 889.2,578.6 889.5,568.0 889.9,557.1 890.2,613.3 890.6,558.2 890.9,576.2 891.3,593.2 891.6,574.1 892.0,601.1 892.3,576.5 892.7,583.7 893.0,578.3 893.4,595.6 893.7,564.8 894.1,603.3 894.4,607.7 894.8,558.3 895.1,548.3 895.5,553.4 895.8,567.3 896.2,604.4 896.5,590.3 896.9,635.3 897.2,628.9 897.6,554.8 897.9,583.4 898.3,586.6 898.6,633.5 899.0,614.7 899.3,619.6 899.7,579.3 900.0,649.1 900.4,575.5 900.7,604.2 901.1,582.0 901.4,585.2 901.8,614.1 902.1,588.3 902.5,627.5 902.8,625.0 903.2,615.6 903.5,630.9 903.9,643.9 904.2,644.6 904.6,593.6 904.9,637.3 905.3,644.5 905.6,616.2 906.0,617.5 906.3,656.3 906.7,645.1 907.0,634.3 907.4,666.1 907.7,655.9 908.1,676.0 908.4,628.4 908.8,661.7 909.1,594.8 909.5,627.7 909.8,682.9 910.2,624.2 910.5,644.9 910.9,642.4 911.2,663.2 911.6,680.3 911.9,692.7 912.3,654.7 912.6,667.7 913.0,681.9 913.3,690.2 913.7,659.6 914.0,698.5 914.4,637.4 914.7,678.0 915.1,642.7 915.4,665.3 915.8,659.9 916.1,719.2 916.5,718.7 916.8,700.4 917.2,688.5 917.5,643.2 917.9,650.7 918.2,694.3 918.6,708.1 918.9,705.1 919.3,679.5 919.6,680.2 920.0,711.0 920.3,750.7 920.7,718.6 921.0,703.6 921.4,703.8 921.7,717.6 922.1,716.5 922.4,680.4 922.8,746.8 923.1,725.0 923.5,728.9 923.8,708.9 924.2,744.3 924.5,744.0 924.9,708.4 925.2,747.8 925.6,712.3 925.9,689.8 926.3,749.0 926.6,711.7 927.0,722.9 927.3,716.6 927.7,736.7 928.0,732.4 928.4,744.6 928.7,752.4 929.1,778.1 929.4,754.5 929.8,756.8 930.1,757.6 930.5,765.6 930.8,768.6 931.2,757.0 931.5,728.0 931.9,733.5 932.2,760.7 932.6,749.4 932.9,748.7 933.3,747.6 933.6,744.8 934.0,783.4 934.3,778.1 934.7,737.2 935.0,768.4 935.4,765.4 935.7,757.5 936.1,789.5 936.4,775.9 936.8,772.1 937.1,754.5 937.5,792.3 937.8,779.3 938.2,781.2 938.5,762.9 938.9,808.0 939.2,727.0 939.6,752.6 939.9,748.4 940.3,756.5 940.6,762.1 941.0,772.9 941.3,776.7 941.7,787.5 942.0,810.8 942.4,795.5 942.7,787.2 943.1,782.1 943.4,792.8 943.8,801.6 944.1,771.8 944.5,820.6 944.8,786.5 945.2,803.8 945.5,739.9 945.9,791.6 946.2,780.6 946.6,814.9 946.9,808.5 947.3,795.4 947.6,801.7 948.0,784.0 948.3,773.0 948.7,812.5 949.0,768.1 949.4,781.4 949.7,769.5 950.1,774.1 950.4,784.6 950.8,808.6 951.1,774.7 951.5,807.3 951.8,758.6 952.2,778.7 952.5,779.2 952.9,809.2 953.2,822.6 953.6,755.2 953.9,801.2 954.3,831.4 954.6,802.5 955.0,834.0 955.3,825.9 955.7,810.6 956.0,780.0 956.4,795.0 956.7,837.4 957.1,793.0 957.4,790.4 957.8,803.3 958.1,836.4 958.5,815.9 958.8,786.6 959.2,804.4 959.5,829.7 959.9,839.6 960.2,847.6 960.6,829.9 960.9,830.1 961.3,804.6 961.6,813.2 962.0,799.5 962.3,823.1 962.7,834.3 963.0,828.8 963.4,811.7 963.7,840.6 964.1,848.0 964.4,854.3 964.8,792.3 965.1,787.9 965.5,812.8 965.8,843.0 966.2,852.5 966.5,847.4 966.9,835.1 967.2,839.4 967.6,830.8 967.9,823.4 968.3,818.1 968.6,884.0 969.0,832.5 969.3,847.6 969.7,847.8 970.0,854.5 970.4,837.8 970.7,856.0 971.1,875.8 971.4,828.4 971.8,829.9 972.1,822.8 972.5,834.8 972.8,819.5 973.2,848.0 973.5,854.5 973.9,864.8 974.2,866.5 974.6,837.0 974.9,847.6 975.3,830.3 975.6,846.2 976.0,847.1 976.3,854.7 976.7,845.0 977.0,827.2 977.4,864.4 977.7,844.4 978.1,822.4 978.4,816.9 978.8,859.8 979.1,816.3 979.5,860.2 979.8,875.4 980.2,858.3 980.5,863.5 980.9,859.4 981.2,839.1 981.6,853.8 981.9,817.2 982.3,861.4 982.6,862.0 983.0,853.6 983.3,870.4 983.7,848.6 984.0,821.9 984.4,877.0 984.7,854.1 985.1,841.9 985.4,843.9 985.8,846.8 986.1,857.1 986.5,831.7 986.8,856.0 987.2,848.2 987.5,866.0 987.9,849.4 988.2,866.3 988.6,840.5 988.9,862.4 989.3,851.5 989.6,875.6 990.0,864.1 990.3,875.7 990.7,850.3 991.0,848.6 991.4,859.0 991.7,842.2 992.1,855.7 992.4,882.5 992.8,842.9 993.1,852.1 993.5,863.6 993.8,890.7 994.2,899.6 994.5,854.2 994.9,856.2 995.2,869.1 995.6,853.9 995.9,831.8 996.3,876.0 996.6,872.8 997.0,871.8 997.3,876.7 997.7,871.0 998.0,857.7 998.4,879.5 998.7,868.7 999.1,872.6 999.4,851.8 999.8,872.2 1000.1,870.3 1000.5,857.2 1000.8,859.2 1001.2,865.3 1001.5,873.1 1001.9,862.8 1002.2,855.4 1002.6,875.4 1002.9,854.3 1003.3,880.4 1003.6,861.2 1004.0,872.6 1004.3,895.0 1004.7,839.9 1005.0,855.0 1005.4,869.0 1005.7,875.7 1006.1,864.1 1006.4,863.4 1006.8,869.2 1007.1,863.2 1007.5,881.9 1007.8,869.3 1008.2,878.5 1008.5,882.3 1008.9,893.2 1009.2,872.2 1009.6,876.0 1009.9,890.3 1010.3,848.5 1010.6,885.2 1011.0,869.9 1011.3,899.4 1011.7,880.2 1012.0,871.7 1012.4,903.8 1012.7,878.7 1013.1,874.2 1013.4,896.8 1013.8,858.8 1014.1,888.3 1014.5,903.3 1014.8,872.5 1015.2,908.9 1015.5,889.5 1015.9,886.4 1016.2,869.2 1016.6,919.7 1016.9,919.4 1017.3,893.2 1017.6,905.4 1018.0,869.8 1018.3,902.3 1018.7,908.0 1019.0,890.7 1019.4,893.5 1019.7,901.3 1020.1,892.4 1020.4,879.4 1020.8,919.0 1021.1,921.8 1021.5,918.0 1021.8,921.1 1022.2,926.9 1022.5,906.2 1022.9,870.4 1023.2,913.3 1023.6,905.0 1023.9,896.3 1024.3,922.6 1024.6,898.6 1025.0,895.7 1025.3,952.2 1025.7,908.0 1026.0,916.7 1026.4,923.2 1026.7,923.2 1027.1,912.1 1027.4,921.6 1027.8,912.0 1028.1,906.3 1028.5,909.1 1028.8,922.7 1029.2,923.7 1029.5,919.6 1029.9,889.1 1030.2,909.2 1030.6,920.4 1030.9,906.3 1031.3,919.8 1031.6,913.9 1032.0,930.4 1032.3,876.4 1032.7,914.3 1033.0,928.0 1033.4,921.8 1033.7,903.4 1034.1,907.8 1034.4,905.7 1034.8,917.5 1035.1,922.2 1035.5,901.8 1035.8,926.8 1036.2,917.6 1036.5,878.8 1036.9,905.0 1037.2,909.1 1037.6,900.9 1037.9,912.8 1038.3,910.8 1038.6,910.3 1039.0,907.7 1039.3,916.4 1039.7,903.3 1040.0,920.8 1040.4,885.7 1040.7,913.8 1041.1,905.7 1041.4,907.4 1041.8,917.6 1042.1,903.9 1042.5,873.9 1042.8,891.9 1043.2,910.9 1043.5,910.0 1043.9,907.1 1044.2,904.8 1044.6,925.0 1044.9,915.0 1045.3,899.5 1045.6,902.4 1046.0,929.6 1046.3,917.2 1046.7,921.2 1047.0,916.2 1047.4,919.3 1047.7,908.3 1048.1,902.0 1048.4,902.6 1048.8,904.6 1049.1,944.2 1049.5,928.0 1049.8,920.1 1050.2,918.1 1050.5,896.5 1050.9,932.1 1051.2,895.8 1051.6,937.0 1051.9,915.1 1052.3,902.4 1052.6,945.1 1053.0,909.6 1053.3,920.7 1053.7,922.8 1054.0,903.9 1054.4,932.7 1054.7,907.3 1055.1,924.5 1055.4,911.2 1055.8,951.6 1056.1,929.6 1056.5,950.8 1056.8,922.3 1057.2,933.9 1057.5,938.9 1057.9,932.6 1058.2,928.2 1058.6,949.1 1058.9,938.8 1059.3,934.8 1059.6,946.3 1060.0,896.4 1060.3,921.1 1060.7,944.7 1061.0,933.8 1061.4,936.6 1061.7,920.6 1062.1,938.2 1062.4,964.9 1062.8,939.2 1063.1,933.4 1063.5,945.2 1063.8,966.1 1064.2,942.9 1064.5,930.1 1064.9,958.6 1065.2,951.6 1065.6,960.2 1065.9,934.9 1066.3,945.0 1066.6,958.0 1067.0,968.8 1067.3,990.5 1067.7,986.5 1068.0,984.7 1068.4,983.5 1068.7,986.2 1069.1,981.9 1069.4,983.2 1069.8,970.0 1070.1,970.0 1070.5,997.3 1070.8,963.3 1071.2,973.1 1071.5,979.6 1071.9,987.0 1072.2,975.8 1072.6,979.8 1072.9,976.0 1073.3,977.5 1073.6,983.6 1074.0,1027.8 1074.3,974.2 1074.7,1026.7 1075.0,975.1 1075.4,996.2 1075.7,993.6 1076.1,1004.4 1076.4,992.1 1076.8,982.0 1077.1,990.4 1077.5,994.5 1077.8,978.9 1078.2,999.7 1078.5,1003.2 1078.9,981.5 1079.2,984.9 1079.6,1015.9 1079.9,992.1 1080.3,997.1 1080.6,999.0 1081.0,999.3 1081.3,1016.7 1081.7,1013.2 1082.0,1040.9 1082.4,1007.6 1082.7,1019.6 1083.1,1006.3 1083.4,1031.3 1083.8,998.2 1084.1,1009.6 1084.5,1020.0 1084.8,1062.0 1085.2,1057.6 1085.5,1056.1 1085.9,1029.8 1086.2,1009.9 1086.6,1041.1 1086.9,1050.2 1087.3,1027.4 1087.6,1066.1 1088.0,1067.9 1088.3,1018.3 1088.7,1038.0 1089.0,1041.8 1089.4,1042.3 1089.7,1044.2 1090.1,1047.3 1090.4,1043.5 1090.8,1083.6 1091.1,1041.4 1091.5,1031.3 1091.8,1065.2 1092.2,1063.1 1092.5,1033.7 1092.9,1037.6 1093.2,1038.2 1093.6,1020.9 1093.9,1032.9 1094.3,1058.0 1094.6,1033.6 1095.0,1049.0 1095.3,1049.0 1095.7,1045.1 1096.0,1060.3 1096.4,1056.6 1096.7,1071.8 1097.1,1059.7 1097.4,1047.0 1097.8,1079.0 1098.1,1060.4 1098.5,1063.4 1098.8,1061.1 1099.2,1052.9 1099.5,1045.0 1099.9,1075.4 1100.2,1048.5 1100.6,1054.9 1100.9,1071.7 1101.3,1073.7 1101.6,1060.7 1102.0,1088.3 1102.3,1058.2 1102.7,1093.9 1103.0,1081.0 1103.4,1064.9 1103.7,1059.5 1104.1,1078.5 1104.4,1040.0 1104.8,1073.5 1105.1,1073.4 1105.5,1086.2 1105.8,1084.0 1106.2,1069.2 1106.5,1071.9 1106.9,1052.6 1107.2,1073.6 1107.6,1055.9 1107.9,1048.1 1108.3,1091.1 1108.6,1091.8 1109.0,1066.3 1109.3,1072.3 1109.7,1101.1 1110.0,1050.3 1110.4,1089.9 1110.7,1065.2 1111.1,1078.5 1111.4,1069.1 1111.8,1091.5 1112.1,1087.4 1112.5,1069.0 1112.8,1087.8 1113.2,1084.8 1113.5,1091.4 1113.9,1058.2 1114.2,1084.7 1114.6,1073.3 1114.9,1077.0 1115.3,1052.8 1115.6,1103.4 1116.0,1073.8 1116.3,1081.1 1116.7,1055.2 1117.0,1072.9 1117.4,1078.4 1117.7,1077.9 1118.1,1061.6 1118.4,1082.1 1118.8,1072.6 1119.1,1091.0 1119.5,1064.2 1119.8,1096.2 1120.2,1067.1 1120.5,1066.6 1120.9,1088.8 1121.2,1091.4 1121.6,1089.7 1121.9,1077.0 1122.3,1081.5 1122.6,1073.8 1123.0,1101.8 1123.3,1063.7 1123.7,1072.1 1124.0,1073.2 1124.4,1096.6 1124.7,1070.4 1125.1,1101.8 1125.4,1068.9 1125.8,1069.5 1126.1,1097.7 1126.5,1099.5 1126.8,1089.8 1127.2,1113.4 1127.5,1090.4 1127.9,1090.0 1128.2,1095.2 1128.6,1116.3 1128.9,1096.8 1129.3,1125.0 1129.6,1118.9 1130.0,1115.8 1130.3,1114.1 1130.7,1120.1 1131.0,1109.9 1131.4,1072.8 1131.7,1107.3 1132.1,1103.8 1132.4,1090.4 1132.8,1081.5 1133.1,1108.6 1133.5,1092.6 1133.8,1107.5 1134.2,1097.0 1134.5,1112.7 1134.9,1095.8 1135.2,1112.2 1135.6,1108.9 1135.9,1103.7 1136.3,1106.7 1136.6,1114.2 1137.0,1076.5 1137.3,1086.0 1137.7,1113.0 1138.0,1112.5 1138.4,1115.7 1138.7,1117.4 1139.1,1100.5 1139.4,1130.8 1139.8,1124.0 1140.1,1119.0 1140.5,1111.6 1140.8,1105.9 1141.2,1107.8 1141.5,1121.0 1141.9,1117.8 1142.2,1127.6 1142.6,1120.3 1142.9,1111.8 1143.3,1133.2 1143.6,1099.8 1144.0,1101.1 1144.3,1124.1 1144.7,1113.2 1145.0,1101.3 1145.4,1101.0 1145.7,1120.7 1146.1,1138.8 1146.4,1139.5 1146.8,1119.7 1147.1,1117.7 1147.5,1110.4 1147.8,1145.7 1148.2,1120.0 1148.5,1116.3 1148.9,1131.1 1149.2,1136.1 1149.6,1121.7 1149.9,1137.2 1150.3,1105.0 1150.6,1127.1 1151.0,1129.1 1151.3,1126.7 1151.7,1129.9 1152.0,1123.7 1152.4,1128.9 1152.7,1094.3 1153.1,1112.0 1153.4,1132.5 1153.8,1107.2 1154.1,1110.1 1154.5,1147.5 1154.8,1122.5 1155.2,1125.1 1155.5,1126.5 1155.9,1144.0 1156.2,1118.3 1156.6,1111.1 1156.9,1125.2 1157.3,1139.8 1157.6,1098.9 1158.0,1120.1 1158.3,1116.7 1158.7,1123.6 1159.0,1130.3 1159.4,1125.9 1159.7,1101.7 1160.1,1118.9 1160.4,1120.3 1160.8,1121.4 1161.1,1135.8 1161.5,1118.7 1161.8,1115.4 1162.2,1122.1 1162.5,1125.3 1162.9,1134.6 1163.2,1104.2 1163.6,1109.6 1163.9,1126.6 1164.3,1140.3 1164.6,1128.3 1165.0,1132.8 1165.3,1152.8 1165.7,1132.6 1166.0,1135.6 1166.4,1132.0 1166.7,1145.7 1167.1,1140.4 1167.4,1131.3 1167.8,1144.4 1168.1,1141.7 1168.5,1130.5 1168.8,1146.8 1169.2,1164.2 1169.5,1124.8 1169.9,1125.8 1170.2,1138.6 1170.6,1138.2 1170.9,1144.5 1171.3,1141.7 1171.6,1144.9 1172.0,1157.9 1172.3,1160.5 1172.7,1118.3 1173.0,1152.5 1173.4,1146.6 1173.7,1153.8 1174.1,1148.3 1174.4,1152.9 1174.8,1146.2 1175.1,1141.5 1175.5,1148.1 1175.8,1160.9 1176.2,1151.6 1176.5,1150.7 1176.9,1167.9 1177.2,1163.5 1177.6,1141.8 1177.9,1143.4 1178.3,1151.8 1178.6,1160.6 1179.0,1168.0 1179.3,1133.9 1179.7,1172.8 1180.0,1157.1 1180.4,1159.6 1180.7,1167.8 1181.1,1161.3 1181.4,1160.7 1181.8,1171.2 1182.1,1174.1 1182.5,1145.7 1182.8,1140.2 1183.2,1147.4 1183.5,1164.5 1183.9,1158.4 1184.2,1159.6 1184.6,1156.3 1184.9,1152.4 1185.3,1170.2 1185.6,1163.5 1186.0,1168.2 1186.3,1171.7 1186.7,1184.0 1187.0,1192.6 1187.4,1159.0 1187.7,1183.1 1188.1,1169.7 1188.4,1173.4 1188.8,1182.5 1189.1,1161.4 1189.5,1167.7 1189.8,1182.0 1190.2,1177.9 1190.5,1194.0 1190.9,1179.8 1191.2,1174.4 1191.6,1172.2 1191.9,1181.9 1192.3,1152.4 1192.6,1192.2 1193.0,1181.0 1193.3,1169.9 1193.7,1179.7 1194.0,1186.1 1194.4,1165.3 1194.7,1192.1 1195.1,1154.5 1195.4,1200.7 1195.8,1179.8 1196.1,1187.3 1196.5,1181.7 1196.8,1178.3 1197.2,1198.6 1197.5,1175.4 1197.9,1187.2 1198.2,1195.7 1198.6,1174.7 1198.9,1198.3 1199.3,1180.3 1199.6,1203.2 1200.0,1188.8 1200.3,1210.0 1200.7,1193.9 1201.0,1183.0 1201.4,1208.4 1201.7,1212.0 1202.1,1209.6 1202.4,1180.4 1202.8,1186.2 1203.1,1211.9 1203.5,1207.1 1203.8,1198.1 1204.2,1200.4 1204.5,1205.7 1204.9,1177.7 1205.2,1190.3 1205.6,1190.9 1205.9,1219.6 1206.3,1202.5 1206.6,1181.4 1207.0,1205.6 1207.3,1203.4 1207.7,1199.1 1208.0,1190.3 1208.4,1197.1 1208.7,1212.3 1209.0,1203.4 1209.4,1218.5 1209.7,1225.7 1210.1,1205.3 1210.4,1190.1 1210.8,1197.8 1211.1,1211.0 1211.5,1219.6 1211.8,1208.3 1212.2,1210.2 1212.5,1213.7 1212.9,1226.2 1213.2,1220.2 1213.6,1207.1 1213.9,1204.5 1214.3,1211.6 1214.6,1204.8 1215.0,1200.3 1215.3,1225.4 1215.7,1215.3 1216.0,1199.8 1216.4,1218.4 1216.7,1200.6 1217.1,1201.8 1217.4,1194.0 1217.8,1199.6 1218.1,1208.4 1218.5,1217.6 1218.8,1213.6 1219.2,1218.3 1219.5,1215.4 1219.9,1209.2 1220.2,1229.1 1220.6,1201.2 1220.9,1202.3 1221.3,1239.7 1221.6,1217.5 1222.0,1217.3 1222.3,1246.7 1222.7,1201.3 1223.0,1234.2 1223.4,1214.0 1223.7,1212.1 1224.1,1202.4 1224.4,1213.7 1224.8,1223.4 1225.1,1214.2 1225.5,1208.5 1225.8,1219.1 1226.2,1229.7 1226.5,1214.9 1226.9,1209.1 1227.2,1209.4 1227.6,1218.9 1227.9,1206.9 1228.3,1231.2 1228.6,1207.3 1229.0,1227.1 1229.3,1211.9 1229.7,1222.9 1230.0,1200.0 1230.4,1211.4 1230.7,1201.9 1231.1,1204.4 1231.4,1213.3 1231.8,1199.6 1232.1,1238.0 1232.5,1235.3 1232.8,1226.6 1233.2,1216.5 1233.5,1210.0 1233.9,1197.0 1234.2,1228.4 1234.6,1205.0 1234.9,1219.3 1235.3,1213.4 1235.6,1221.4 1236.0,1242.4 1236.3,1221.9 1236.7,1221.3 1237.0,1235.4 1237.4,1218.8 1237.7,1202.3 1238.1,1217.2 1238.4,1224.2 1238.8,1218.5 1239.1,1240.6 1239.5,1243.8 1239.8,1217.9 1240.2,1231.4 1240.5,1234.2 1240.9,1227.3 1241.2,1225.3 1241.6,1239.0 1241.9,1229.7 1242.3,1257.1 1242.6,1235.6 1243.0,1236.8 1243.3,1239.7 1243.7,1240.8 1244.0,1233.8 1244.4,1246.6 1244.7,1250.2 1245.1,1243.6 1245.4,1245.9 1245.8,1224.6 1246.1,1236.1 1246.5,1242.5 1246.8,1237.7 1247.2,1254.7 1247.5,1246.3 1247.9,1241.7 1248.2,1234.1 1248.6,1237.6 1248.9,1239.2 1249.3,1262.3 1249.6,1228.3 1250.0,1253.9 1250.3,1238.4 1250.7,1262.4 1251.0,1254.3 1251.4,1233.1 1251.7,1247.6 1252.1,1226.8 1252.4,1252.2 1252.8,1242.2 1253.1,1231.4 1253.5,1243.6 1253.8,1251.2 1254.2,1273.6 1254.5,1254.7 1254.9,1249.2 1255.2,1244.0 1255.6,1218.2 1255.9,1227.4 1256.3,1217.0 1256.6,1230.8 1257.0,1257.3 1257.3,1260.9 1257.7,1249.1 1258.0,1241.1 1258.4,1255.1 1258.7,1275.5 1259.1,1250.1 1259.4,1265.6 1259.8,1265.9 1260.1,1240.6 1260.5,1252.8 1260.8,1242.0 1261.2,1256.6 1261.5,1248.2 1261.9,1243.0 1262.2,1263.2 1262.6,1254.9 1262.9,1253.5 1263.3,1267.5 1263.6,1263.2 1264.0,1273.5 1264.3,1281.3 1264.7,1245.2 1265.0,1266.5 1265.4,1240.5 1265.7,1273.1 1266.1,1286.2 1266.4,1252.3 1266.8,1279.1 1267.1,1273.5 1267.5,1270.7 1267.8,1240.5 1268.2,1255.0 1268.5,1263.7 1268.9,1269.8 1269.2,1271.3 1269.6,1280.2 1269.9,1272.9 1270.3,1269.2 1270.6,1259.4 1271.0,1262.1 1271.3,1268.8 1271.7,1297.8 1272.0,1266.6 1272.4,1270.0 1272.7,1282.7 1273.1,1280.4 1273.4,1278.2 1273.8,1271.8 1274.1,1290.0 1274.5,1263.6 1274.8,1287.4 1275.2,1289.0 1275.5,1273.6 1275.9,1263.9 1276.2,1262.7 1276.6,1273.4 1276.9,1246.4 1277.3,1285.4 1277.6,1259.7 1278.0,1255.2 1278.3,1275.8 1278.7,1270.6 1279.0,1259.3 1279.4,1285.4 1279.7,1255.5 1280.1,1262.6 1280.4,1250.5 1280.8,1290.3 1281.1,1276.3 1281.5,1252.0 1281.8,1275.2 1282.2,1261.8 1282.5,1258.9 1282.9,1266.9 1283.2,1245.4 1283.6,1271.2 1283.9,1268.8 1284.3,1286.7 1284.6,1258.3 1285.0,1252.1 1285.3,1257.3 1285.7,1261.7 1286.0,1278.7 1286.4,1295.4 1286.7,1275.7 1287.1,1273.8 1287.4,1255.1 1287.8,1251.6 1288.1,1254.1 1288.5,1276.4 1288.8,1282.0 1289.2,1265.9 1289.5,1252.9 1289.9,1277.6 1290.2,1267.1 1290.6,1259.5 1290.9,1249.6 1291.3,1246.3 1291.6,1286.4 1292.0,1262.6 1292.3,1271.8 1292.7,1274.0 1293.0,1278.8 1293.4,1294.8 1293.7,1266.0 1294.1,1282.4 1294.4,1257.7 1294.8,1250.9 1295.1,1267.7 1295.5,1244.5 1295.8,1249.7 1296.2,1258.9 1296.5,1276.0 1296.9,1266.2 1297.2,1247.9 1297.6,1269.2 1297.9,1263.0 1298.3,1264.1 1298.6,1263.8 1299.0,1269.8 1299.3,1280.7 1299.7,1278.0 1300.0,1272.7 1300.4,1262.6 1300.7,1254.3 1301.1,1296.2 1301.4,1291.9 1301.8,1253.8 1302.1,1279.1 1302.5,1279.7 1302.8,1276.6 1303.2,1277.9 1303.5,1271.2 1303.9,1293.6 1304.2,1281.0 1304.6,1289.2 1304.9,1281.0 1305.3,1280.4 1305.6,1273.0 1306.0,1293.2 1306.3,1257.1 1306.7,1295.9 1307.0,1277.3 1307.4,1283.3 1307.7,1274.3 1308.1,1259.1 1308.4,1270.4 1308.8,1286.7 1309.1,1276.6 1309.5,1288.1 1309.8,1272.0 1310.2,1261.6 1310.5,1281.6 1310.9,1278.3 1311.2,1274.5 1311.6,1301.2 1311.9,1262.6 1312.3,1286.0 1312.6,1281.4 1313.0,1300.9 1313.3,1287.0 1313.7,1290.0 1314.0,1289.1 1314.4,1288.9 1314.7,1283.9 1315.1,1284.9 1315.4,1297.3 1315.8,1314.0 1316.1,1275.8 1316.5,1290.9 1316.8,1275.4 1317.2,1311.5 1317.5,1309.7 1317.9,1292.0 1318.2,1306.4 1318.6,1292.3 1318.9,1275.9 1319.3,1311.7 1319.6,1271.9 1320.0,1278.3 1320.3,1305.2 1320.7,1302.0 1321.0,1298.9 1321.4,1287.5 1321.7,1283.8 1322.1,1278.3 1322.4,1306.8 1322.8,1298.8 1323.1,1318.5 1323.5,1297.4 1323.8,1298.5 1324.2,1285.3 1324.5,1286.0 1324.9,1297.7 1325.2,1281.9 1325.6,1303.8 1325.9,1304.1 1326.3,1276.1 1326.6,1298.5 1327.0,1294.0 1327.3,1293.4 1327.7,1286.7 1328.0,1304.5 1328.4,1293.1 1328.7,1298.2 1329.1,1294.9 1329.4,1282.6 1329.8,1276.2 1330.1,1309.9 1330.5,1310.5 1330.8,1289.5 1331.2,1302.6 1331.5,1305.3 1331.9,1307.6 1332.2,1300.9 1332.6,1287.9 1332.9,1297.5 1333.3,1283.1 1333.6,1291.9 1334.0,1277.7 1334.3,1269.3 1334.7,1277.8 1335.0,1269.9 1335.4,1293.6 1335.7,1296.6 1336.1,1294.1 1336.4,1279.4 1336.8,1288.2 1337.1,1273.0 1337.5,1293.5 1337.8,1295.3 1338.2,1311.4 1338.5,1276.5 1338.9,1286.7 1339.2,1287.3 1339.6,1316.6 1339.9,1291.5 1340.3,1294.1 1340.6,1270.8 1341.0,1286.9 1341.3,1314.7 1341.7,1304.9 1342.0,1296.6 1342.4,1284.1 1342.7,1277.8 1343.1,1291.5 1343.4,1281.3 1343.8,1315.6 1344.1,1281.9 1344.5,1282.8 1344.8,1297.6 1345.2,1291.6 1345.5,1277.9 1345.9,1272.9 1346.2,1278.8 1346.6,1307.4 1346.9,1281.7 1347.3,1286.7 1347.6,1299.6 1348.0,1307.8 1348.3,1298.5 1348.7,1293.6 1349.0,1282.0 1349.4,1278.3 1349.7,1291.3 1350.1,1289.0 1350.4,1292.6 1350.8,1265.6 1351.1,1273.6 1351.5,1299.8 1351.8,1308.1 1352.2,1292.7 1352.5,1276.1 1352.9,1298.2 1353.2,1280.9 1353.6,1288.1 1353.9,1288.4 1354.3,1300.8 1354.6,1304.8 1355.0,1299.4 1355.3,1280.9 1355.7,1305.1 1356.0,1286.9 1356.4,1275.1 1356.7,1304.0 1357.1,1315.5 1357.4,1281.0 1357.8,1288.9 1358.1,1286.6 1358.5,1288.3 1358.8,1308.1 1359.2,1303.8 1359.5,1296.5 1359.9,1296.6 1360.2,1285.9 1360.6,1288.8 1360.9,1286.9 1361.3,1302.2 1361.6,1303.0 1362.0,1290.9 1362.3,1303.7 1362.7,1285.3 1363.0,1319.7 1363.4,1282.8 1363.7,1288.9 1364.1,1294.4 1364.4,1305.0 1364.8,1298.5 1365.1,1285.2 1365.5,1302.3 1365.8,1304.8 1366.2,1282.4 1366.5,1270.6 1366.9,1302.3 1367.2,1283.6 1367.6,1307.5 1367.9,1316.9 1368.3,1310.6 1368.6,1299.4 1369.0,1305.7 1369.3,1293.8 1369.7,1285.8 1370.0,1294.3 1370.4,1290.9 1370.7,1298.6 1371.1,1282.3 1371.4,1283.5 1371.8,1297.0 1372.1,1297.1 1372.5,1296.5 1372.8,1306.8 1373.2,1279.0 1373.5,1303.3 1373.9,1293.0 1374.2,1295.6 1374.6,1308.5 1374.9,1297.4 1375.3,1306.3 1375.6,1314.3 1376.0,1295.3 1376.3,1274.8 1376.7,1289.9 1377.0,1290.4 1377.4,1298.3 1377.7,1286.4 1378.1,1297.4 1378.4,1298.5 1378.8,1273.3 1379.1,1314.0 1379.5,1288.7 1379.8,1279.9 1380.2,1286.5 1380.5,1304.0 1380.9,1325.6 1381.2,1272.4 1381.6,1287.7 1381.9,1308.7 1382.3,1287.6 1382.6,1296.0 1383.0,1290.3 1383.3,1294.9 1383.7,1298.6 1384.0,1284.0 1384.4,1283.8 1384.7,1278.6 1385.1,1297.7 1385.4,1323.0 1385.8,1308.3 1386.1,1294.0 1386.5,1309.8 1386.8,1302.2 1387.2,1291.6 1387.5,1288.1 1387.9,1297.2 1388.2,1286.6 1388.6,1295.7 1388.9,1301.1 1389.3,1282.4 1389.6,1283.6 1390.0,1293.6 1390.3,1288.0 1390.7,1296.3 1391.0,1301.3 1391.4,1301.8 1391.7,1305.9 1392.1,1299.2 1392.4,1301.8 1392.8,1297.5 1393.1,1300.0 1393.5,1298.4 1393.8,1299.5 1394.2,1295.9 1394.5,1303.4 1394.9,1309.4 1395.2,1315.4 1395.6,1318.4 1395.9,1309.6 1396.3,1294.2 1396.6,1286.6 1397.0,1283.7 1397.3,1298.3 1397.7,1304.1 1398.0,1313.6 1398.4,1303.5 1398.7,1302.8 1399.1,1289.3 1399.4,1311.1 1399.8,1324.5 1400.1,1298.8 1400.5,1327.3 1400.8,1311.7 1401.2,1294.0 1401.5,1310.4 1401.9,1305.9 1402.2,1307.3 1402.6,1289.5 1402.9,1307.2 1403.3,1312.9 1403.6,1289.5 1404.0,1308.3 1404.3,1316.9 1404.7,1306.4 1405.0,1295.0 1405.4,1300.3 1405.7,1310.9 1406.1,1308.7 1406.4,1301.3 1406.8,1295.2 1407.1,1294.4 1407.5,1300.2 1407.8,1289.1 1408.2,1306.5 1408.5,1323.9 1408.9,1299.7 1409.2,1301.4 1409.6,1303.2 1409.9,1308.5 1410.3,1298.9 1410.6,1307.7 1411.0,1292.3 1411.3,1289.5 1411.7,1295.0 1412.0,1307.1 1412.4,1294.3 1412.7,1293.2 1413.1,1303.8 1413.4,1279.1 1413.8,1296.1 1414.1,1275.2 1414.5,1294.1 1414.8,1321.6 1415.2,1282.6 1415.5,1313.1 1415.9,1294.0 1416.2,1294.5 1416.6,1296.5 1416.9,1322.1 1417.3,1294.1 1417.6,1301.1 1418.0,1295.0 1418.3,1297.3 1418.7,1308.2 1419.0,1303.4 1419.4,1301.3 1419.7,1292.5 1420.1,1302.0 1420.4,1297.5 1420.8,1299.3 1421.1,1300.6 1421.5,1293.9 1421.8,1285.5 1422.2,1303.9 1422.5,1279.7 1422.9,1309.1 1423.2,1293.0 1423.6,1289.2 1423.9,1310.4 1424.3,1291.9 1424.6,1299.7 1425.0,1289.0 1425.3,1303.3 1425.7,1302.1 1426.0,1295.6 1426.4,1295.8 1426.7,1281.1 1427.1,1310.1 1427.4,1290.5 1427.8,1296.0 1428.1,1292.0 1428.5,1299.8 1428.8,1294.5 1429.2,1292.7 1429.5,1293.4 1429.9,1298.7 1430.2,1312.9 1430.6,1283.8 1430.9,1307.1 1431.3,1296.8 1431.6,1300.5 1432.0,1288.1 1432.3,1305.9 1432.7,1303.2 1433.0,1274.6 1433.4,1276.0 1433.7,1312.6 1434.1,1288.0 1434.4,1291.6 1434.8,1277.7 1435.1,1293.5 1435.5,1294.2 1435.8,1288.1 1436.2,1307.0 1436.5,1290.8 1436.9,1301.9 1437.2,1293.1 1437.6,1294.5 1437.9,1289.4 1438.3,1286.6 1438.6,1308.1 1439.0,1305.3 1439.3,1305.9 1439.7,1286.7 1440.0,1289.6 1440.4,1296.0 1440.7,1290.8 1441.1,1301.4 1441.4,1312.5 1441.8,1289.6 1442.1,1291.4 1442.5,1279.8 1442.8,1309.5 1443.2,1298.5 1443.5,1300.5 1443.9,1290.0 1444.2,1297.6 1444.6,1294.6 1444.9,1290.8 1445.3,1303.9 1445.6,1312.4 1446.0,1312.1 1446.3,1295.6 1446.7,1326.9 1447.0,1292.1 1447.4,1299.3 1447.7,1285.2 1448.1,1296.2 1448.4,1302.4 1448.8,1292.7 1449.1,1298.1 1449.5,1289.0 1449.8,1294.7 1450.2,1286.3 1450.5,1294.6 1450.9,1276.8 1451.2,1290.5 1451.6,1294.5 1451.9,1297.8 1452.3,1312.7 1452.6,1288.0 1453.0,1291.9 1453.3,1308.2 1453.7,1290.0 1454.0,1295.8 1454.4,1281.7 1454.7,1272.3 1455.1,1322.3 1455.4,1307.6 1455.8,1321.1 1456.1,1298.7 1456.5,1284.9 1456.8,1303.6 1457.2,1290.1 1457.5,1302.3 1457.9,1304.1 1458.2,1306.1 1458.6,1291.8 1458.9,1301.5 1459.3,1304.1 1459.6,1314.3 1460.0,1296.3 1460.3,1319.9 1460.7,1306.9 1461.0,1304.4 1461.4,1293.6 1461.7,1303.1 1462.1,1305.8 1462.4,1288.7 1462.8,1305.3 1463.1,1301.1 1463.5,1295.2 1463.8,1289.2 1464.2,1295.2 1464.5,1303.9 1464.9,1314.3 1465.2,1297.8 1465.6,1292.5 1465.9,1302.7 1466.3,1305.2 1466.6,1302.6 1467.0,1292.9 1467.3,1269.1 1467.7,1295.8 1468.0,1292.9 1468.4,1281.3 1468.7,1293.3 1469.1,1282.2 1469.4,1289.0 1469.8,1304.5 1470.1,1285.5 1470.5,1266.8 1470.8,1301.4 1471.2,1289.3 1471.5,1290.1 1471.9,1271.2 1472.2,1270.4 1472.6,1285.3 1472.9,1283.2 1473.3,1290.1 1473.6,1285.9 1474.0,1291.1 1474.3,1283.0 1474.7,1290.7 1475.0,1281.4 1475.4,1291.3 1475.7,1292.5 1476.1,1270.0 1476.4,1285.1 1476.8,1281.3 1477.1,1284.7 1477.5,1303.6 1477.8,1278.7 1478.2,1283.2 1478.5,1287.3 1478.9,1262.9 1479.2,1299.5 1479.6,1291.2 1479.9,1283.5 1480.3,1294.5 1480.6,1312.0 1481.0,1277.0 1481.3,1298.9 1481.7,1302.7 1482.0,1277.2 1482.4,1290.3 1482.7,1272.3 1483.1,1288.3 1483.4,1278.6 1483.8,1291.5 1484.1,1281.7 1484.5,1298.3 1484.8,1298.0 1485.2,1303.0 1485.5,1284.9 1485.9,1282.7 1486.2,1282.9 1486.6,1279.7 1486.9,1284.9 1487.3,1275.9 1487.6,1283.4 1488.0,1294.2 1488.3,1296.0 1488.7,1290.3 1489.0,1270.7 1489.4,1301.4 1489.7,1304.6 1490.1,1295.0 1490.4,1282.4 1490.8,1292.9 1491.1,1285.5 1491.5,1270.7 1491.8,1297.9 1492.2,1295.0 1492.5,1291.3 1492.9,1292.8 1493.2,1286.1 1493.6,1273.6 1493.9,1300.2 1494.3,1281.7 1494.6,1281.5 1495.0,1289.3 1495.3,1267.9 1495.7,1281.8 1496.0,1289.5 1496.4,1281.2 1496.7,1259.7 1497.1,1284.7 1497.4,1291.6 1497.8,1269.5 1498.1,1305.0 1498.5,1283.9 1498.8,1282.4 1499.2,1286.2 1499.5,1291.5 1499.9,1283.7 1500.2,1280.2 1500.6,1284.2 1500.9,1268.7 1501.3,1300.0 1501.6,1263.5 1502.0,1278.1 1502.3,1272.0 1502.7,1280.4 1503.0,1278.1 1503.4,1288.9 1503.7,1277.6 1504.1,1275.6 1504.4,1298.4 1504.8,1267.9 1505.1,1277.6 1505.5,1273.7 1505.8,1286.7 1506.2,1276.9 1506.5,1288.5 1506.9,1269.1 1507.2,1279.1 1507.6,1281.5 1507.9,1275.7 1508.3,1278.5 1508.6,1260.1 1509.0,1280.3 1509.3,1272.7 1509.7,1293.7 1510.0,1265.9 1510.4,1260.6 1510.7,1294.9 1511.1,1293.9 1511.4,1272.9 1511.8,1256.1 1512.1,1267.7 1512.5,1277.6 1512.8,1278.9 1513.2,1284.3 1513.5,1286.1 1513.9,1280.7 1514.2,1272.7 1514.6,1287.6 1514.9,1289.7 1515.3,1277.8 1515.6,1270.5 1516.0,1281.8 1516.3,1275.6 1516.7,1273.7 1517.0,1275.0 1517.4,1285.1 1517.7,1288.4 1518.1,1283.6 1518.4,1277.8 1518.8,1270.2 1519.1,1258.2 1519.5,1271.4 1519.8,1278.2 1520.2,1264.9 1520.5,1277.3 1520.9,1265.4 1521.2,1275.6 1521.6,1247.5 1521.9,1277.0 1522.3,1279.9 1522.6,1273.1 1523.0,1279.4 1523.3,1263.3 1523.7,1273.4 1524.0,1268.6 1524.4,1272.9 1524.7,1271.8 1525.1,1273.2 1525.4,1264.2 1525.8,1266.8 1526.1,1253.6 1526.5,1268.1 1526.8,1246.0 1527.2,1273.1 1527.5,1288.3 1527.9,1264.7 1528.2,1264.8 1528.6,1269.5 1528.9,1272.5 1529.3,1275.2 1529.6,1262.8 1530.0,1264.7 1530.3,1271.3 1530.7,1271.0 1531.0,1255.0 1531.4,1271.2 1531.7,1282.6 1532.1,1249.0 1532.4,1261.6 1532.8,1262.4 1533.1,1255.0 1533.5,1251.9 1533.8,1280.3 1534.2,1265.9 1534.5,1267.8 1534.9,1272.7 1535.2,1251.7 1535.6,1274.7 1535.9,1256.6 1536.3,1272.5 1536.6,1261.9 1537.0,1274.8 1537.3,1266.9 1537.7,1261.0 1538.0,1270.4 1538.4,1254.7 1538.7,1266.5 1539.1,1247.2 1539.4,1259.0 1539.8,1279.0 1540.1,1269.6 1540.5,1252.1 1540.8,1274.3 1541.2,1259.0 1541.5,1266.0 1541.9,1259.0 1542.2,1268.6 1542.6,1258.1 1542.9,1276.5 1543.3,1260.7 1543.6,1258.0 1544.0,1260.2 1544.3,1251.5 1544.7,1271.0 1545.0,1275.4 1545.4,1278.1 1545.7,1270.2 1546.1,1264.3 1546.4,1278.5 1546.8,1279.9 1547.1,1260.7 1547.5,1255.1 1547.8,1262.5 1548.2,1267.3 1548.5,1278.2 1548.9,1278.2 1549.2,1271.7 1549.6,1279.3 1549.9,1266.3 1550.3,1268.1 1550.6,1248.6 1551.0,1264.8 1551.3,1267.6 1551.7,1281.2 1552.0,1269.5 1552.4,1267.4 1552.7,1272.2 1553.1,1267.9 1553.4,1253.2 1553.8,1265.6 1554.1,1270.6 1554.5,1270.4 1554.8,1266.5 1555.2,1268.6 1555.5,1278.6 1555.9,1259.6 1556.2,1271.0 1556.6,1268.2 1556.9,1271.7 1557.3,1274.6 1557.6,1280.8 1558.0,1250.2 1558.3,1273.0 1558.7,1264.4 1559.0,1259.6 1559.4,1277.1 1559.7,1276.6 1560.1,1269.2 1560.4,1274.1 1560.8,1268.6 1561.1,1289.6 1561.5,1292.6 1561.8,1287.5 1562.2,1266.3 1562.5,1283.8 1562.9,1280.7 1563.2,1278.6 1563.6,1276.7 1563.9,1275.9 1564.3,1273.1 1564.6,1272.5 1565.0,1271.6 1565.3,1301.2 1565.7,1284.5 1566.0,1273.4 1566.4,1273.9 1566.7,1285.1 1567.1,1297.0 1567.4,1296.2 1567.8,1272.0 1568.1,1268.8 1568.5,1275.4 1568.8,1284.2 1569.2,1276.7 1569.5,1276.6 1569.9,1301.1 1570.2,1270.7 1570.6,1289.0 1570.9,1281.7 1571.3,1278.1 1571.6,1301.5 1572.0,1272.5 1572.3,1287.1 1572.7,1283.4 1573.0,1279.0 1573.4,1281.8 1573.7,1286.9 1574.1,1310.2 1574.4,1291.4 1574.8,1284.8 1575.1,1274.8 1575.5,1290.0 1575.8,1295.6 1576.2,1312.6 1576.5,1274.7 1576.9,1276.3 1577.2,1273.4 1577.6,1276.1 1577.9,1301.4 1578.3,1289.9 1578.6,1284.7 1579.0,1292.9 1579.3,1291.2 1579.7,1291.1 1580.0,1303.3 1580.4,1301.0 1580.7,1290.2 1581.1,1305.2 1581.4,1303.5 1581.8,1292.3 1582.1,1290.8 1582.5,1291.9 1582.8,1287.2 1583.2,1276.9 1583.5,1306.8 1583.9,1309.2 1584.2,1275.2 1584.6,1294.8 1584.9,1289.2 1585.3,1294.7 1585.6,1302.2 1586.0,1309.0 1586.3,1304.5 1586.7,1307.3 1587.0,1311.9 1587.4,1305.2 1587.7,1314.1 1588.1,1312.7 1588.4,1299.4 1588.8,1313.3 1589.1,1303.8 1589.5,1317.7 1589.8,1319.9 1590.2,1297.7 1590.5,1316.5 1590.9,1303.4 1591.2,1308.3 1591.6,1309.6 1591.9,1319.5 1592.3,1321.8 1592.6,1316.2 1593.0,1298.9 1593.3,1322.1 1593.7,1327.9 1594.0,1293.9 1594.4,1312.2 1594.7,1312.3 1595.1,1319.8 1595.4,1315.0 1595.8,1326.7 1596.1,1314.0 1596.5,1309.6 1596.8,1300.1 1597.2,1300.9 1597.5,1315.5 1597.9,1323.2 1598.2,1308.4 1598.6,1323.3 1598.9,1313.9 1599.3,1325.3 1599.6,1329.3 1600.0,1321.7 1600.3,1309.2 1600.7,1326.9 1601.0,1319.3 1601.4,1318.0 1601.7,1320.9 1602.1,1323.7 1602.4,1328.0 1602.8,1305.9 1603.1,1328.5 1603.5,1319.8 1603.8,1329.5 1604.2,1317.3 1604.5,1326.4 1604.9,1328.9 1605.2,1333.2 1605.6,1319.8 1605.9,1336.5 1606.3,1320.3 1606.6,1315.1 1607.0,1319.6 1607.3,1316.3 1607.7,1341.3 1608.0,1338.7 1608.4,1314.8 1608.7,1330.1 1609.1,1335.4 1609.4,1336.1 1609.8,1330.6 1610.1,1330.3 1610.5,1344.9 1610.8,1337.7 1611.2,1331.8 1611.5,1343.0 1611.9,1336.0 1612.2,1340.5 1612.6,1350.6 1612.9,1343.1 1613.3,1368.3 1613.6,1334.8 1614.0,1339.8 1614.3,1363.2 1614.7,1352.5 1615.0,1350.3 1615.4,1361.4 1615.7,1352.5 1616.1,1346.8 1616.4,1369.7 1616.8,1358.5 1617.1,1360.4 1617.5,1361.4 1617.8,1360.6 1618.2,1354.8 1618.5,1354.6 1618.9,1350.1 1619.2,1373.4 1619.6,1367.5 1619.9,1366.1 1620.3,1354.9 1620.6,1355.4 1621.0,1363.1 1621.3,1368.8 1621.7,1364.0 1622.0,1364.2 1622.4,1356.8 1622.7,1370.7 1623.1,1365.9 1623.4,1374.0 1623.8,1366.9 1624.1,1353.2 1624.5,1355.9 1624.8,1359.3 1625.2,1369.9 1625.5,1360.2 1625.9,1359.1 1626.2,1371.3 1626.6,1367.0 1626.9,1365.2 1627.3,1344.8 1627.6,1358.5 1628.0,1377.3 1628.3,1366.2 1628.7,1371.6 1629.0,1376.7 1629.4,1367.9 1629.7,1344.7 1630.1,1364.7 1630.4,1360.1 1630.8,1354.6 1631.1,1370.9 1631.5,1356.3 1631.8,1373.5 1632.2,1366.8 1632.5,1358.9 1632.9,1356.1 1633.2,1379.1 1633.6,1362.0 1633.9,1367.0 1634.3,1364.0 1634.6,1357.3 1635.0,1361.8 1635.3,1363.2 1635.7,1350.7 1636.0,1359.0 1636.4,1357.8 1636.7,1368.4 1637.1,1367.1 1637.4,1355.8 1637.8,1361.1 1638.1,1367.3 1638.5,1359.8 1638.8,1352.6 1639.2,1374.8 1639.5,1368.7 1639.9,1367.0 1640.2,1366.9 1640.6,1374.8 1640.9,1369.5 1641.3,1374.4 1641.6,1384.4 1642.0,1388.0 1642.3,1391.1 1642.7,1370.1 1643.0,1379.1 1643.4,1369.9 1643.7,1372.7 1644.1,1371.1 1644.4,1380.4 1644.8,1381.1 1645.1,1377.8 1645.5,1386.2 1645.8,1392.3 1646.2,1384.4 1646.5,1381.9 1646.9,1395.3 1647.2,1387.2 1647.6,1391.1 1647.9,1380.7 1648.3,1394.3 1648.6,1396.6 1649.0,1381.4 1649.3,1381.3 1649.7,1387.0 1650.0,1395.4 1650.4,1396.8 1650.7,1400.1 1651.1,1383.5 1651.4,1375.2 1651.8,1384.0 1652.1,1392.1 1652.5,1395.3 1652.8,1380.8 1653.2,1391.6 1653.5,1389.3 1653.9,1396.1 1654.2,1385.3 1654.6,1391.3 1654.9,1390.2 1655.3,1395.2 1655.6,1393.3 1656.0,1396.6 1656.3,1395.3 1656.7,1400.5 1657.0,1386.2 1657.4,1415.4 1657.7,1405.6 1658.1,1383.4 1658.4,1399.9 1658.8,1390.9 1659.1,1388.6 1659.5,1404.9 1659.8,1376.5 1660.2,1389.0 1660.5,1399.6 1660.9,1382.2 1661.2,1402.9 1661.6,1392.2 1661.9,1396.0 1662.3,1408.0 1662.6,1397.0 1663.0,1404.6 1663.3,1407.5 1663.7,1392.1 1664.0,1393.5 1664.4,1407.7 1664.7,1402.0 1665.1,1409.2 1665.4,1416.3 1665.8,1390.2 1666.1,1396.9 1666.5,1401.3 1666.8,1387.3 1667.2,1390.2 1667.5,1386.1 1667.9,1395.8 1668.2,1398.9 1668.6,1411.6 1668.9,1419.1 1669.3,1397.3 1669.6,1397.5 1670.0,1401.1 1670.3,1402.0 1670.7,1398.6 1671.0,1410.7 1671.4,1408.6 1671.7,1394.9 1672.1,1381.5 1672.4,1398.9 1672.8,1409.8 1673.1,1410.1 1673.5,1393.5 1673.8,1392.1 1674.2,1396.6 1674.5,1390.6 1674.9,1387.6 1675.2,1389.6 1675.6,1408.3 1675.9,1404.8 1676.3,1395.3 1676.6,1399.2 1677.0,1387.6 1677.3,1386.4 1677.7,1396.0 1678.0,1393.7 1678.4,1379.3 1678.7,1398.8 1679.1,1371.7 1679.4,1384.3 1679.8,1399.2 1680.1,1401.7 1680.5,1411.3 1680.8,1389.6 1681.2,1391.1 1681.5,1396.2 1681.9,1394.1 1682.2,1385.7 1682.6,1392.3 1682.9,1392.5 1683.3,1403.4 1683.6,1394.6 1684.0,1397.9 1684.3,1397.3 1684.7,1395.8 1685.0,1407.1 1685.4,1395.7 1685.7,1403.8 1686.1,1410.2 1686.4,1399.9 1686.8,1410.3 1687.1,1398.7 1687.5,1405.4 1687.8,1392.8 1688.2,1411.8 1688.5,1413.7 1688.9,1405.1 1689.2,1393.7 1689.6,1404.0 1689.9,1407.2 1690.3,1417.3 1690.6,1390.6 1691.0,1410.9 1691.3,1410.3 1691.7,1398.7 1692.0,1415.7 1692.4,1397.3 1692.7,1415.2 1693.1,1418.4 1693.4,1404.0 1693.8,1403.0 1694.1,1404.0 1694.5,1407.9 1694.8,1415.2 1695.2,1416.6 1695.5,1408.6 1695.9,1416.1 1696.2,1403.9 1696.6,1411.3 1696.9,1399.0 1697.3,1423.1 1697.6,1402.9 1698.0,1406.0 1698.3,1425.4 1698.7,1420.2 1699.0,1405.1 1699.4,1420.1 1699.7,1432.9 1700.1,1415.8 1700.4,1406.7 1700.8,1409.5 1701.1,1427.2 1701.5,1410.4 1701.8,1408.4 1702.2,1433.7 1702.5,1402.4 1702.9,1409.0 1703.2,1402.6 1703.6,1410.2 1703.9,1412.0 1704.3,1419.3 1704.6,1405.0 1705.0,1421.3 1705.3,1411.7 1705.7,1427.3 1706.0,1412.5 1706.4,1417.0 1706.7,1402.8 1707.1,1403.7 1707.4,1421.5 1707.8,1433.1 1708.1,1405.4 1708.5,1416.0 1708.8,1416.7 1709.2,1418.8 1709.5,1423.6 1709.9,1423.5 1710.2,1424.7 1710.6,1400.1 1710.9,1407.7 1711.3,1435.9 1711.6,1429.0 1712.0,1407.2 1712.3,1416.1 1712.7,1423.3 1713.0,1414.0 1713.4,1416.5 1713.7,1408.4 1714.1,1412.1 1714.4,1435.0 1714.8,1421.0 1715.1,1419.5 1715.5,1424.8 1715.8,1414.5 1716.2,1422.8 1716.5,1419.7 1716.9,1425.3 1717.2,1413.0 1717.6,1419.0 1717.9,1429.0 1718.3,1424.4 1718.6,1413.8 1719.0,1405.8 1719.3,1424.8 1719.7,1423.4 1720.0,1416.2 1720.4,1413.2 1720.7,1420.1 1721.1,1422.5 1721.4,1425.4 1721.8,1424.2 1722.1,1423.7 1722.5,1415.8 1722.8,1423.5 1723.2,1420.4 1723.5,1417.7 1723.9,1422.1 1724.2,1439.7 1724.6,1416.7 1724.9,1419.0 1725.3,1421.5 1725.6,1419.6 1726.0,1419.3 1726.3,1424.4 1726.7,1413.5 1727.0,1424.7 1727.4,1427.7 1727.7,1415.8 1728.1,1435.0 1728.4,1409.0 1728.8,1423.2 1729.1,1420.7 1729.5,1421.9 1729.8,1413.8 1730.2,1409.0 1730.5,1421.7 1730.9,1406.0 1731.2,1425.6 1731.6,1424.6 1731.9,1419.8 1732.3,1424.0 1732.6,1420.8 1733.0,1420.3 1733.3,1418.3 1733.7,1413.4 1734.0,1416.8 1734.4,1417.9 1734.7,1413.6 1735.1,1417.5 1735.4,1408.9 1735.8,1420.6 1736.1,1416.9 1736.5,1401.6 1736.8,1415.0 1737.2,1409.6 1737.5,1416.1 1737.9,1429.2 1738.2,1410.7 1738.6,1418.6 1738.9,1409.9 1739.3,1414.5 1739.6,1422.7 1740.0,1420.4 1740.3,1417.1 1740.7,1424.5 1741.0,1425.5 1741.4,1432.9 1741.7,1404.4 1742.1,1406.8 1742.4,1409.0 1742.8,1412.5 1743.1,1424.9 1743.5,1418.9 1743.8,1414.0 1744.2,1416.3 1744.5,1411.3 1744.9,1425.3 1745.2,1420.7 1745.6,1418.2 1745.9,1406.0 1746.3,1414.4 1746.6,1408.5 1747.0,1415.0 1747.3,1423.9 1747.7,1413.2 1748.0,1424.2 1748.4,1412.6 1748.7,1433.1 1749.1,1418.5 1749.4,1415.9 1749.8,1425.5 1750.1,1426.2 1750.5,1412.9 1750.8,1411.8 1751.2,1411.8 1751.5,1424.6 1751.9,1415.7 1752.2,1416.8 1752.6,1422.8 1752.9,1414.4 1753.3,1423.4 1753.6,1423.7 1754.0,1415.8 1754.3,1414.2 1754.7,1429.1 1755.0,1408.6 1755.4,1422.3 1755.7,1433.4 1756.1,1417.2 1756.4,1412.6 1756.8,1425.5 1757.1,1421.0 1757.5,1414.6 1757.8,1424.7 1758.2,1420.0 1758.5,1431.2 1758.9,1426.4 1759.2,1414.8 1759.6,1426.3 1759.9,1424.2 1760.3,1419.9 1760.6,1413.7 1761.0,1426.8 1761.3,1423.1 1761.7,1415.4 1762.0,1420.5 1762.4,1423.6 1762.7,1428.5 1763.1,1433.3 1763.4,1431.4 1763.8,1418.4 1764.1,1429.2 1764.5,1414.2 1764.8,1421.0 1765.2,1425.7 1765.5,1420.0 1765.9,1417.8 1766.2,1422.2 1766.6,1432.4 1766.9,1426.2 1767.3,1416.0 1767.6,1432.1 1768.0,1420.0 1768.3,1422.1 1768.7,1423.5 1769.0,1422.8 1769.4,1415.5 1769.7,1418.7 1770.1,1420.4 1770.4,1427.8 1770.8,1409.0 1771.1,1427.9 1771.5,1432.3 1771.8,1413.6 1772.2,1421.9 1772.5,1418.4 1772.9,1412.8 1773.2,1431.6 1773.6,1425.3 1773.9,1433.0 1774.3,1432.2 1774.6,1430.3 1775.0,1421.7 1775.3,1427.5 1775.7,1425.4 1776.0,1421.2 1776.4,1426.8 1776.7,1418.5 1777.1,1421.3 1777.4,1425.9 1777.8,1428.5 1778.1,1424.4 1778.5,1416.1 1778.8,1423.8 1779.2,1436.6 1779.5,1422.2 1779.9,1426.9 1780.2,1412.9 1780.6,1423.8 1780.9,1424.1 1781.3,1416.6 1781.6,1421.3 1782.0,1419.8 1782.3,1425.6 1782.7,1421.8 1783.0,1410.0 1783.4,1424.9 1783.7,1436.8 1784.1,1410.1 1784.4,1412.4 1784.8,1416.2 1785.1,1412.9 1785.5,1412.4 1785.8,1421.0 1786.2,1434.8 1786.5,1426.4 1786.9,1417.9 1787.2,1421.1 1787.6,1424.6 1787.9,1423.2 1788.3,1417.0 1788.6,1410.6 1789.0,1411.1 1789.3,1431.9 1789.7,1423.5 1790.0,1420.6 1790.4,1424.1 1790.7,1412.8 1791.1,1415.2 1791.4,1418.7 1791.8,1408.8 1792.1,1411.6 1792.5,1420.0 1792.8,1415.3 1793.2,1406.6 1793.5,1412.6 1793.9,1420.7 1794.2,1416.4 1794.6,1427.8 1794.9,1430.4 1795.3,1413.0 1795.6,1423.4 1796.0,1418.0 1796.3,1413.6 1796.7,1424.0 1797.0,1425.8 1797.4,1406.5 1797.7,1407.6 1798.1,1426.8 1798.4,1424.7 1798.8,1425.4 1799.1,1425.3 1799.5,1414.3 1799.8,1413.2 1800.2,1413.2 1800.5,1423.4 1800.9,1425.0 1801.2,1406.9 1801.6,1408.3 1801.9,1422.9 1802.3,1412.7 1802.6,1422.7 1803.0,1413.1 1803.3,1413.4 1803.7,1412.6 1804.0,1422.5 1804.4,1424.6 1804.7,1416.0 1805.1,1418.2 1805.4,1418.3 1805.8,1423.3 1806.1,1421.1 1806.5,1422.4 1806.8,1417.6 1807.2,1421.6 1807.5,1421.5 1807.9,1421.3 1808.2,1424.2 1808.6,1414.1 1808.9,1427.3 1809.3,1431.6 1809.6,1424.0 1810.0,1411.7 1810.3,1431.6 1810.7,1422.3 1811.0,1424.7 1811.4,1424.8 1811.7,1438.2 1812.1,1417.3 1812.4,1425.0 1812.8,1422.3 1813.1,1430.0 1813.5,1430.6 1813.8,1431.9 1814.2,1427.7 1814.5,1428.3 1814.9,1428.6 1815.2,1429.7 1815.6,1429.5 1815.9,1423.2 1816.3,1442.8 1816.6,1429.6 1817.0,1408.5 1817.3,1427.9 1817.7,1428.7 1818.0,1419.4 1818.4,1426.8 1818.7,1427.1 1819.1,1422.6 1819.4,1429.5 1819.8,1417.2 1820.1,1436.5 1820.5,1415.1 1820.8,1416.0 1821.2,1428.8 1821.5,1413.8 1821.9,1433.6 1822.2,1432.5 1822.6,1432.5 1822.9,1416.6 1823.3,1430.4 1823.6,1420.7 1824.0,1433.1 1824.3,1433.4 1824.7,1416.8 1825.0,1422.6 1825.4,1417.6 1825.7,1438.3 1826.1,1435.6 1826.4,1419.5 1826.8,1426.8 1827.1,1409.7 1827.5,1432.9 1827.8,1431.0 1828.2,1420.9 1828.5,1430.2 1828.9,1424.3 1829.2,1421.1 1829.6,1426.5 1829.9,1428.8 1830.3,1435.3 1830.6,1430.1 1831.0,1425.6 1831.3,1432.2 1831.7,1430.5 1832.0,1428.2 1832.4,1431.2 1832.7,1434.9 1833.1,1428.8 1833.4,1435.4 1833.8,1427.8 1834.1,1425.2 1834.5,1420.0 1834.8,1419.7 1835.2,1445.8 1835.5,1415.8 1835.9,1429.0 1836.2,1430.2 1836.6,1423.3 1836.9,1421.6 1837.3,1436.2 1837.6,1423.6 1838.0,1429.2 1838.3,1428.0 1838.7,1424.5 1839.0,1429.9 1839.4,1430.3 1839.7,1431.6 1840.1,1435.7 1840.4,1427.2 1840.8,1433.0 1841.1,1418.4 1841.5,1431.8 1841.8,1424.4 1842.2,1430.7 1842.5,1422.6 1842.9,1439.5 1843.2,1426.1 1843.6,1443.7 1843.9,1420.3 1844.3,1426.5 1844.6,1435.5 1845.0,1443.5 1845.3,1431.0 1845.7,1427.8 1846.0,1428.2 1846.4,1419.4 1846.7,1419.8 1847.1,1448.8 1847.4,1421.9 1847.8,1428.7 1848.1,1435.9 1848.5,1435.3 1848.8,1431.7 1849.2,1431.3 1849.5,1441.3 1849.9,1447.5 1850.2,1432.7 1850.6,1424.2 1850.9,1421.5 1851.3,1430.5 1851.6,1440.4 1852.0,1435.3 1852.3,1430.7 1852.7,1435.6 1853.0,1433.9 1853.4,1433.2 1853.7,1435.9 1854.1,1435.6 1854.4,1432.3 1854.8,1425.9 1855.1,1433.5 1855.5,1423.7 1855.8,1433.7 1856.2,1428.6 1856.5,1422.3 1856.9,1446.6 1857.2,1427.6 1857.6,1437.0 1857.9,1425.4 1858.3,1430.4 1858.6,1437.4 1859.0,1421.8 1859.3,1430.2 1859.7,1438.9 1860.0,1425.8 1860.4,1432.9 1860.7,1427.7 1861.1,1425.7 1861.4,1424.9 1861.8,1429.4 1862.1,1428.8 1862.5,1425.6 1862.8,1431.5 1863.2,1427.4 1863.5,1429.9 1863.9,1433.0 1864.2,1428.8 1864.6,1426.6 1864.9,1420.1 1865.3,1424.9 1865.6,1412.8 1866.0,1418.4 1866.3,1427.2 1866.7,1428.9 1867.0,1432.8 1867.4,1426.6 1867.7,1414.9 1868.1,1429.2 1868.4,1430.1 1868.8,1419.8 1869.1,1428.7 1869.5,1417.1 1869.8,1418.5 1870.2,1427.5 1870.5,1430.5 1870.9,1432.6 1871.2,1430.9 1871.6,1425.7 1871.9,1430.6 1872.3,1431.4 1872.6,1422.9 1873.0,1428.6 1873.3,1434.1 1873.7,1435.8 1874.0,1422.7 1874.4,1430.4 1874.7,1426.1 1875.1,1432.8 1875.4,1435.5 1875.8,1426.2 1876.1,1430.7 1876.5,1430.9 1876.8,1432.7 1877.2,1433.7 1877.5,1432.1 1877.9,1430.8 1878.2,1436.3 1878.6,1413.7 1878.9,1416.5 1879.3,1424.4 1879.6,1427.9 1880.0,1429.0 1880.3,1433.7 1880.7,1427.8 1881.0,1425.7 1881.4,1428.4 1881.7,1426.6 1882.1,1433.7 1882.4,1438.2 1882.8,1435.7 1883.1,1437.0 1883.5,1437.0 1883.8,1431.7 1884.2,1420.9 1884.5,1424.6 1884.9,1428.7 1885.2,1436.8 1885.6,1436.2 1885.9,1435.7 1886.3,1440.1 1886.6,1430.2 1887.0,1432.6 1887.3,1435.2 1887.7,1432.5 1888.0,1430.0 1888.4,1422.4 1888.7,1433.5 1889.1,1437.6 1889.4,1421.1 1889.8,1433.2 1890.1,1437.2 1890.5,1437.5 1890.8,1437.2 1891.2,1431.0 1891.5,1436.9 1891.9,1438.2 1892.2,1438.0 1892.6,1430.2 1892.9,1434.9 1893.3,1434.5 1893.6,1430.7 1894.0,1428.3 1894.3,1437.4 1894.7,1426.1 1895.0,1438.8 1895.4,1424.4 1895.7,1432.3 1896.1,1432.9 1896.4,1430.3 1896.8,1440.9 1897.1,1431.4 1897.5,1433.3 1897.8,1428.8 1898.2,1422.1 1898.5,1435.0 1898.9,1429.7 1899.2,1440.7 1899.6,1438.6 1899.9,1427.3 1900.3,1423.1 1900.6,1431.5 1901.0,1437.5 1901.3,1430.6 1901.7,1443.6 1902.0,1431.3 1902.4,1430.0 1902.7,1435.7 1903.1,1432.9 1903.4,1440.0 1903.8,1431.7 1904.1,1427.2 1904.5,1436.2 1904.8,1434.7 1905.2,1436.3 1905.5,1433.0 1905.9,1445.8 1906.2,1425.9 1906.6,1427.0 1906.9,1428.3 1907.3,1441.9 1907.6,1424.7 1908.0,1432.1 1908.3,1424.2 1908.7,1439.1 1909.0,1432.7 1909.4,1425.9 1909.7,1440.9 1910.1,1432.6 1910.4,1429.3 1910.8,1437.4 1911.1,1435.5 1911.5,1437.0 1911.8,1439.1 1912.2,1427.7 1912.5,1448.8 1912.9,1447.0 1913.2,1435.4 1913.6,1422.9 1913.9,1443.0 1914.3,1431.9 1914.6,1442.8 1915.0,1434.5 1915.3,1429.9 1915.7,1431.9 1916.0,1421.8 1916.4,1429.1 1916.7,1444.5 1917.1,1448.2 1917.4,1441.6 1917.8,1429.5 1918.1,1436.6 1918.5,1438.1 1918.8,1434.6 1919.2,1419.4 1919.5,1433.7 1919.9,1431.6 1920.2,1438.6 1920.6,1426.0 1920.9,1437.5 1921.3,1433.7 1921.6,1450.3 1922.0,1444.6 1922.3,1429.2 1922.7,1428.2 1923.0,1433.7 1923.4,1435.3 1923.7,1440.7 1924.1,1429.1 1924.4,1435.9 1924.8,1433.6 1925.1,1434.5 1925.5,1438.3 1925.8,1424.4 1926.2,1435.1 1926.5,1431.6 1926.9,1433.7 1927.2,1438.8 1927.6,1419.3 1927.9,1427.8 1928.3,1426.6 1928.6,1443.6 1929.0,1443.3 1929.3,1436.4 1929.7,1429.5 1930.0,1437.8 1930.4,1427.6 1930.7,1423.7 1931.1,1440.1 1931.4,1431.5 1931.8,1427.2 1932.1,1433.9 1932.5,1442.0 1932.8,1437.0 1933.2,1433.8 1933.5,1420.2 1933.9,1436.4 1934.2,1442.4 1934.6,1435.8 1934.9,1430.6 1935.3,1433.5 1935.6,1441.2 1936.0,1429.6 1936.3,1423.7 1936.7,1432.6 1937.0,1443.2 1937.4,1450.1 1937.7,1431.3 1938.1,1438.0 1938.4,1429.3 1938.8,1432.9 1939.1,1428.3 1939.5,1429.3 1939.8,1434.7 1940.2,1445.8 1940.5,1434.9 1940.9,1433.9 1941.2,1435.0 1941.6,1430.0 1941.9,1446.8 1942.3,1446.6 1942.6,1442.7 1943.0,1433.2 1943.3,1436.7 1943.7,1424.8 1944.0,1437.9 1944.4,1442.9 1944.7,1438.2 1945.1,1433.5 1945.4,1429.8 1945.8,1433.7 1946.1,1444.4 1946.5,1433.1 1946.8,1435.3 1947.2,1445.9 1947.5,1428.6 1947.9,1422.6 1948.2,1433.4 1948.6,1435.2 1948.9,1435.4 1949.3,1445.2 1949.6,1433.2 1950.0,1437.4 1950.3,1437.7 1950.7,1436.8 1951.0,1430.6 1951.4,1443.1 1951.7,1443.7 1952.1,1425.9 1952.4,1433.0 1952.8,1431.5 1953.1,1432.9 1953.5,1427.9 1953.8,1453.2 1954.2,1439.1 1954.5,1436.2 1954.9,1447.4 1955.2,1436.3 1955.6,1436.7 1955.9,1447.7 1956.3,1431.6 1956.6,1429.7 1957.0,1440.4 1957.3,1432.9 1957.7,1440.0 1958.0,1429.3 1958.4,1424.6 1958.7,1448.2 1959.1,1444.0 1959.4,1440.4 1959.8,1437.8 1960.1,1434.6 1960.5,1441.3 1960.8,1430.6 1961.2,1431.4 1961.5,1434.7 1961.9,1436.8 1962.2,1432.9 1962.6,1430.4 1962.9,1436.9 1963.3,1432.3 1963.6,1435.0 1964.0,1435.2 1964.3,1436.0 1964.7,1430.4 1965.0,1430.3 1965.4,1439.5 1965.7,1440.4 1966.1,1425.1 1966.4,1440.3 1966.8,1444.3 1967.1,1435.6 1967.5,1437.3 1967.8,1430.2 1968.2,1448.3 1968.5,1427.4 1968.9,1444.5 1969.2,1435.5 1969.6,1439.6 1969.9,1438.0 1970.3,1437.3 1970.6,1444.1 1971.0,1432.0 1971.3,1441.1 1971.7,1436.0 1972.0,1432.9 1972.4,1440.1 1972.7,1436.5 1973.1,1432.9 1973.4,1432.0 1973.8,1442.4 1974.1,1432.3 1974.5,1428.5 1974.8,1433.3 1975.2,1443.6 1975.5,1438.8 1975.9,1427.3 1976.2,1430.6 1976.6,1429.1 1976.9,1446.7 1977.3,1426.3 1977.6,1440.5 1978.0,1443.7 1978.3,1435.7 1978.7,1439.2 1979.0,1434.1 1979.4,1436.8 1979.7,1435.8 1980.1,1428.2 1980.4,1444.3 1980.8,1437.6 1981.1,1444.6 1981.5,1437.3 1981.8,1431.5 1982.2,1442.2 1982.5,1430.8 1982.9,1430.8 1983.2,1438.9 1983.6,1441.4 1983.9,1446.1 1984.3,1437.7 1984.6,1432.2 1985.0,1439.2 1985.3,1437.2 1985.7,1431.5 1986.0,1439.6 1986.4,1445.6 1986.7,1432.1 1987.1,1442.4 1987.4,1447.3 1987.8,1451.1 1988.1,1432.4 1988.5,1427.4 1988.8,1436.2 1989.2,1439.4 1989.5,1434.1 1989.9,1441.3 1990.2,1436.2 1990.6,1433.6 1990.9,1440.0 1991.3,1433.5 1991.6,1426.9 1992.0,1436.9 1992.3,1440.6 1992.7,1447.4 1993.0,1436.0 1993.4,1435.1 1993.7,1447.4 1994.1,1434.6 1994.4,1430.3 1994.8,1445.7 1995.1,1432.9 1995.5,1434.0 1995.8,1449.6 1996.2,1429.8 1996.5,1444.7 1996.9,1430.4 1997.2,1437.0 1997.6,1438.8 1997.9,1443.6 1998.3,1431.5 1998.6,1435.7 1999.0,1437.5 1999.3,1444.2 1999.7,1430.0 2000.0,1440.2 2000.4,1437.8 2000.7,1422.9 2001.1,1428.7 2001.4,1436.2 2001.8,1440.2 2002.1,1439.1 2002.5,1431.0 2002.8,1441.7 2003.2,1438.7 2003.5,1444.0 2003.9,1436.7 2004.2,1427.4 2004.6,1441.9 2004.9,1430.5" fill="none" stroke="#000" stroke-width="5.5"/>
<polyline points="284.0,1436.5 284.4,1423.0 284.7,1427.7 285.1,1426.5 285.4,1429.5 285.8,1419.4 286.1,1423.8 286.5,1422.2 286.8,1420.7 287.2,1421.7 287.5,1423.1 287.9,1424.1 288.2,1421.3 288.6,1427.2 288.9,1422.8 289.3,1413.4 289.6,1430.5 290.0,1423.3 290.3,1421.7 290.7,1426.2 291.0,1425.9 291.4,1425.1 291.7,1420.9 292.1,1425.6 292.4,1417.7 292.8,1431.2 293.1,1418.8 293.5,1423.6 293.8,1424.6 294.2,1425.4 294.5,1423.2 294.9,1426.5 295.2,1412.5 295.6,1423.1 295.9,1422.8 296.3,1421.5 296.6,1430.4 297.0,1419.0 297.3,1423.0 297.7,1414.0 298.0,1424.5 298.4,1415.8 298.7,1415.9 299.1,1433.8 299.4,1426.2 299.8,1422.9 300.1,1423.7 300.5,1416.5 300.8,1418.5 301.2,1425.5 301.5,1414.0 301.9,1425.2 302.2,1416.1 302.6,1424.9 302.9,1419.4 303.3,1432.8 303.6,1429.6 304.0,1422.7 304.3,1416.5 304.7,1421.8 305.0,1425.4 305.4,1421.2 305.7,1427.3 306.1,1430.8 306.4,1426.2 306.8,1424.6 307.1,1430.4 307.5,1425.6 307.8,1431.1 308.2,1425.9 308.5,1435.1 308.9,1426.5 309.2,1423.0 309.6,1428.6 309.9,1425.4 310.3,1424.0 310.6,1427.7 311.0,1431.8 311.3,1418.1 311.7,1428.0 312.0,1427.4 312.4,1427.4 312.7,1431.8 313.1,1421.9 313.4,1431.0 313.8,1426.8 314.1,1428.3 314.5,1426.7 314.8,1426.2 315.2,1425.2 315.5,1429.5 315.9,1437.4 316.2,1432.5 316.6,1431.5 316.9,1430.1 317.3,1425.2 317.6,1430.2 318.0,1437.0 318.3,1421.3 318.7,1431.1 319.0,1431.9 319.4,1428.5 319.7,1430.8 320.1,1433.6 320.4,1437.5 320.8,1433.4 321.1,1435.1 321.5,1429.0 321.8,1431.4 322.2,1428.4 322.5,1429.0 322.9,1425.6 323.2,1431.0 323.6,1434.7 323.9,1427.2 324.3,1429.3 324.6,1431.1 325.0,1428.3 325.3,1432.7 325.7,1429.6 326.0,1423.0 326.4,1423.7 326.7,1432.0 327.1,1431.6 327.4,1433.9 327.8,1430.0 328.1,1429.9 328.5,1421.6 328.8,1435.6 329.2,1424.8 329.5,1434.1 329.9,1424.0 330.2,1426.1 330.6,1429.8 330.9,1426.9 331.3,1425.5 331.6,1432.8 332.0,1431.7 332.3,1430.2 332.7,1426.6 333.0,1424.2 333.4,1425.6 333.7,1425.3 334.1,1427.4 334.4,1431.0 334.8,1426.5 335.1,1423.4 335.5,1424.0 335.8,1432.8 336.2,1427.4 336.5,1427.6 336.9,1427.6 337.2,1429.0 337.6,1426.7 337.9,1431.4 338.3,1429.5 338.6,1413.5 339.0,1424.8 339.3,1437.4 339.7,1419.1 340.0,1425.6 340.4,1429.8 340.7,1424.6 341.1,1430.7 341.4,1418.3 341.8,1418.2 342.1,1423.0 342.5,1420.2 342.8,1418.4 343.2,1426.0 343.5,1424.4 343.9,1423.0 344.2,1420.8 344.6,1423.8 344.9,1421.8 345.3,1418.7 345.6,1424.4 346.0,1423.5 346.3,1422.0 346.7,1424.7 347.0,1416.0 347.4,1420.3 347.7,1418.4 348.1,1426.9 348.4,1422.8 348.8,1430.2 349.1,1427.5 349.5,1418.1 349.8,1414.5 350.2,1421.8 350.5,1418.0 350.9,1418.4 351.2,1413.9 351.6,1421.6 351.9,1419.4 352.3,1420.6 352.6,1420.5 353.0,1415.1 353.3,1409.2 353.7,1418.8 354.0,1417.4 354.4,1418.2 354.7,1425.6 355.1,1420.9 355.4,1428.8 355.8,1422.9 356.1,1425.6 356.5,1425.1 356.8,1426.8 357.2,1417.4 357.5,1428.8 357.9,1424.5 358.2,1419.7 358.6,1427.5 358.9,1426.6 359.3,1431.4 359.6,1429.1 360.0,1427.7 360.3,1418.2 360.7,1433.9 361.0,1432.9 361.4,1429.5 361.7,1428.0 362.1,1431.6 362.4,1421.7 362.8,1429.0 363.1,1425.8 363.5,1420.9 363.8,1427.4 364.2,1427.3 364.5,1433.6 364.9,1430.0 365.2,1417.9 365.6,1416.1 365.9,1425.0 366.3,1424.4 366.6,1420.9 367.0,1418.4 367.3,1424.3 367.7,1419.7 368.0,1421.9 368.4,1429.3 368.7,1426.3 369.1,1421.5 369.4,1419.7 369.8,1424.1 370.1,1433.2 370.5,1422.4 370.8,1433.0 371.2,1420.8 371.5,1423.5 371.9,1427.7 372.2,1420.5 372.6,1424.4 372.9,1417.5 373.3,1427.0 373.6,1429.3 374.0,1420.5 374.3,1424.4 374.7,1421.4 375.0,1412.9 375.4,1435.5 375.7,1426.0 376.1,1426.8 376.4,1424.6 376.8,1423.5 377.1,1433.8 377.5,1413.7 377.8,1420.8 378.2,1420.1 378.5,1421.0 378.9,1425.2 379.2,1418.3 379.6,1415.3 379.9,1416.1 380.3,1423.6 380.6,1425.8 381.0,1425.0 381.3,1428.7 381.7,1418.4 382.0,1425.6 382.4,1424.0 382.7,1419.8 383.1,1416.8 383.4,1424.5 383.8,1416.9 384.1,1418.6 384.5,1415.3 384.8,1428.2 385.2,1419.4 385.5,1417.2 385.9,1418.3 386.2,1418.2 386.6,1419.6 386.9,1410.9 387.3,1413.4 387.6,1421.3 388.0,1423.9 388.3,1413.7 388.7,1419.0 389.0,1415.6 389.4,1407.3 389.7,1416.6 390.1,1412.7 390.4,1422.1 390.8,1416.7 391.1,1417.4 391.5,1410.4 391.8,1418.1 392.2,1407.8 392.5,1418.2 392.9,1423.6 393.2,1411.0 393.6,1420.9 393.9,1423.4 394.3,1415.5 394.6,1421.8 395.0,1416.7 395.3,1413.7 395.7,1406.3 396.0,1410.7 396.4,1408.6 396.7,1427.2 397.1,1416.8 397.4,1414.6 397.8,1408.7 398.1,1423.5 398.5,1409.4 398.8,1422.1 399.2,1420.1 399.5,1415.0 399.9,1411.3 400.2,1414.2 400.6,1407.8 400.9,1417.2 401.3,1422.1 401.6,1418.1 402.0,1418.7 402.3,1410.1 402.7,1414.8 403.0,1408.2 403.4,1410.8 403.7,1416.4 404.1,1424.9 404.4,1412.9 404.8,1412.5 405.1,1403.0 405.5,1412.9 405.8,1407.4 406.2,1404.9 406.5,1404.3 406.9,1412.1 407.2,1409.3 407.6,1414.4 407.9,1409.8 408.3,1410.8 408.6,1417.8 409.0,1414.4 409.3,1414.1 409.7,1417.4 410.0,1411.1 410.4,1404.8 410.7,1405.5 411.1,1401.5 411.4,1410.5 411.8,1406.5 412.1,1410.7 412.5,1412.0 412.8,1403.6 413.2,1408.2 413.5,1413.3 413.9,1407.1 414.2,1411.0 414.6,1405.2 414.9,1401.2 415.3,1404.4 415.6,1396.0 416.0,1408.4 416.3,1402.1 416.7,1411.0 417.0,1398.0 417.4,1404.4 417.7,1405.1 418.1,1402.2 418.4,1404.7 418.8,1398.8 419.1,1397.0 419.5,1395.0 419.8,1398.9 420.2,1397.5 420.5,1402.9 420.9,1400.0 421.2,1398.7 421.6,1398.5 421.9,1392.8 422.3,1400.6 422.6,1404.6 423.0,1396.1 423.3,1401.5 423.7,1406.3 424.0,1399.6 424.4,1404.2 424.7,1401.3 425.1,1415.7 425.4,1410.6 425.8,1409.7 426.1,1400.5 426.5,1407.3 426.8,1403.4 427.2,1406.2 427.5,1401.6 427.9,1405.4 428.2,1400.9 428.6,1406.4 428.9,1413.8 429.3,1398.3 429.6,1398.7 430.0,1408.0 430.3,1409.5 430.7,1403.8 431.0,1408.7 431.4,1408.0 431.7,1408.7 432.1,1412.9 432.4,1402.8 432.8,1409.5 433.1,1407.3 433.5,1402.9 433.8,1409.0 434.2,1400.0 434.5,1399.2 434.9,1412.1 435.2,1401.2 435.6,1415.4 435.9,1412.2 436.3,1404.4 436.6,1402.7 437.0,1396.0 437.3,1406.9 437.7,1399.1 438.0,1415.4 438.4,1399.1 438.7,1408.0 439.1,1394.8 439.4,1406.1 439.8,1414.6 440.1,1405.6 440.5,1403.3 440.8,1404.6 441.2,1408.6 441.5,1410.8 441.9,1404.7 442.2,1395.0 442.6,1406.6 442.9,1409.6 443.3,1415.9 443.6,1404.7 444.0,1404.3 444.3,1400.3 444.7,1406.4 445.0,1411.2 445.4,1396.7 445.7,1401.8 446.1,1395.7 446.4,1397.1 446.8,1399.3 447.1,1402.3 447.5,1395.1 447.8,1397.5 448.2,1405.6 448.5,1400.8 448.9,1401.4 449.2,1399.4 449.6,1396.0 449.9,1398.7 450.3,1399.1 450.6,1396.5 451.0,1401.7 451.3,1396.5 451.7,1401.1 452.0,1396.6 452.4,1400.2 452.7,1393.0 453.1,1393.6 453.4,1390.4 453.8,1402.7 454.1,1399.1 454.5,1397.6 454.8,1399.7 455.2,1392.1 455.5,1397.0 455.9,1393.8 456.2,1386.6 456.6,1395.1 456.9,1391.9 457.3,1404.0 457.6,1392.5 458.0,1393.2 458.3,1401.7 458.7,1396.4 459.0,1389.3 459.4,1397.7 459.7,1392.4 460.1,1405.6 460.4,1390.5 460.8,1392.0 461.1,1382.1 461.5,1391.9 461.8,1405.5 462.2,1394.4 462.5,1389.6 462.9,1396.2 463.2,1392.8 463.6,1393.9 463.9,1407.6 464.3,1404.8 464.6,1402.3 465.0,1402.4 465.3,1387.9 465.7,1382.0 466.0,1396.7 466.4,1394.5 466.7,1392.4 467.1,1391.2 467.4,1395.7 467.8,1394.6 468.1,1392.7 468.5,1393.7 468.8,1389.6 469.2,1388.4 469.5,1398.1 469.9,1388.7 470.2,1401.0 470.6,1393.1 470.9,1389.4 471.3,1395.1 471.6,1385.6 472.0,1387.0 472.3,1385.7 472.7,1387.3 473.0,1390.9 473.4,1398.5 473.7,1389.3 474.1,1379.8 474.4,1380.8 474.8,1374.8 475.1,1389.1 475.5,1389.6 475.8,1386.1 476.2,1385.9 476.5,1386.5 476.9,1385.6 477.2,1386.5 477.6,1383.7 477.9,1376.3 478.3,1387.2 478.6,1389.2 479.0,1371.4 479.3,1379.3 479.7,1373.7 480.0,1383.0 480.4,1377.9 480.7,1387.7 481.1,1385.5 481.4,1375.8 481.8,1375.4 482.1,1374.4 482.5,1381.0 482.8,1371.6 483.2,1379.4 483.5,1368.1 483.9,1382.4 484.2,1378.6 484.6,1368.5 484.9,1370.4 485.3,1375.6 485.6,1376.1 486.0,1358.7 486.3,1374.9 486.7,1382.5 487.0,1370.3 487.4,1364.4 487.7,1379.7 488.1,1373.4 488.4,1372.8 488.8,1375.0 489.1,1363.4 489.5,1366.4 489.8,1363.2 490.2,1362.6 490.5,1366.7 490.9,1361.3 491.2,1376.9 491.6,1369.2 491.9,1370.3 492.3,1354.1 492.6,1362.1 493.0,1361.6 493.3,1362.7 493.7,1363.6 494.0,1355.0 494.4,1353.4 494.7,1364.2 495.1,1371.5 495.4,1369.5 495.8,1353.8 496.1,1349.8 496.5,1355.0 496.8,1355.9 497.2,1363.3 497.5,1349.7 497.9,1345.6 498.2,1356.1 498.6,1344.0 498.9,1342.2 499.3,1350.2 499.6,1344.7 500.0,1338.4 500.3,1342.5 500.7,1340.7 501.0,1341.0 501.4,1336.8 501.7,1344.4 502.1,1337.6 502.4,1335.7 502.8,1346.1 503.1,1332.9 503.5,1343.5 503.8,1342.0 504.2,1336.0 504.5,1339.0 504.9,1327.6 505.2,1338.5 505.6,1329.8 505.9,1330.6 506.3,1337.6 506.6,1330.7 507.0,1336.1 507.3,1337.6 507.7,1341.4 508.0,1336.8 508.4,1340.7 508.7,1328.6 509.1,1330.8 509.4,1337.1 509.8,1340.3 510.1,1335.2 510.5,1328.3 510.8,1324.4 511.2,1324.9 511.5,1338.3 511.9,1324.0 512.2,1328.6 512.6,1334.1 512.9,1332.4 513.3,1324.5 513.6,1342.2 514.0,1329.6 514.3,1329.9 514.7,1332.9 515.0,1324.8 515.4,1331.0 515.7,1324.9 516.1,1319.3 516.4,1318.3 516.8,1326.8 517.1,1324.4 517.5,1322.1 517.8,1319.5 518.2,1320.4 518.5,1326.9 518.9,1328.5 519.2,1318.7 519.6,1321.7 519.9,1306.7 520.3,1311.0 520.6,1313.5 521.0,1311.5 521.3,1322.0 521.7,1302.4 522.0,1319.5 522.4,1320.3 522.7,1330.3 523.1,1311.1 523.4,1317.1 523.8,1323.7 524.1,1319.4 524.5,1305.9 524.8,1309.4 525.2,1303.3 525.5,1311.2 525.9,1315.0 526.2,1319.1 526.6,1313.0 526.9,1314.8 527.3,1315.3 527.6,1301.6 528.0,1311.5 528.3,1313.1 528.7,1304.4 529.0,1298.4 529.4,1305.6 529.7,1305.1 530.1,1308.3 530.4,1290.2 530.8,1299.6 531.1,1316.0 531.5,1310.3 531.8,1299.5 532.2,1297.9 532.5,1297.5 532.9,1292.0 533.2,1295.0 533.6,1297.4 533.9,1288.6 534.3,1296.0 534.6,1297.9 535.0,1286.3 535.3,1291.6 535.7,1283.2 536.0,1294.0 536.4,1294.8 536.7,1288.9 537.1,1292.6 537.4,1295.5 537.8,1295.8 538.1,1280.6 538.5,1287.4 538.8,1278.6 539.2,1274.7 539.5,1295.2 539.9,1292.7 540.2,1295.8 540.6,1291.5 540.9,1281.6 541.3,1286.2 541.6,1280.1 542.0,1293.4 542.3,1265.5 542.7,1285.1 543.0,1277.4 543.4,1286.2 543.7,1289.1 544.1,1275.0 544.4,1289.1 544.8,1286.4 545.1,1266.1 545.5,1290.7 545.8,1267.7 546.2,1265.8 546.5,1282.3 546.9,1269.3 547.2,1275.7 547.6,1273.0 547.9,1265.1 548.3,1284.1 548.6,1282.6 549.0,1271.5 549.3,1282.1 549.7,1269.6 550.0,1270.9 550.4,1266.3 550.7,1258.2 551.1,1265.2 551.4,1260.1 551.8,1270.1 552.1,1267.7 552.5,1261.8 552.8,1275.5 553.2,1268.2 553.5,1278.9 553.9,1261.5 554.2,1261.1 554.6,1258.0 554.9,1265.1 555.3,1261.6 555.6,1262.8 556.0,1275.6 556.3,1267.8 556.7,1256.4 557.0,1264.0 557.4,1258.4 557.7,1257.6 558.1,1257.9 558.4,1259.7 558.8,1263.8 559.1,1266.4 559.5,1258.3 559.8,1251.2 560.2,1257.2 560.5,1255.3 560.9,1254.2 561.2,1246.3 561.6,1254.5 561.9,1240.7 562.3,1264.6 562.6,1259.8 563.0,1259.4 563.3,1245.3 563.7,1254.1 564.0,1261.9 564.4,1249.3 564.7,1241.8 565.1,1248.9 565.4,1230.9 565.8,1256.2 566.1,1251.5 566.5,1236.3 566.8,1252.5 567.2,1255.5 567.5,1250.8 567.9,1250.5 568.2,1257.0 568.6,1245.7 568.9,1254.7 569.3,1241.0 569.6,1236.4 570.0,1238.8 570.3,1232.2 570.7,1243.5 571.0,1233.8 571.4,1242.1 571.7,1241.1 572.1,1251.4 572.4,1252.0 572.8,1232.1 573.1,1234.6 573.5,1234.1 573.8,1229.7 574.2,1249.3 574.5,1243.8 574.9,1230.8 575.2,1220.2 575.6,1225.7 575.9,1230.5 576.3,1242.8 576.6,1217.9 577.0,1240.3 577.3,1215.1 577.7,1229.4 578.0,1215.8 578.4,1221.3 578.7,1203.7 579.1,1228.5 579.4,1222.8 579.8,1212.9 580.1,1202.7 580.5,1219.6 580.8,1219.2 581.2,1206.2 581.5,1222.1 581.9,1216.1 582.2,1206.5 582.6,1208.6 582.9,1193.5 583.3,1220.4 583.6,1221.8 584.0,1210.8 584.3,1200.7 584.7,1201.0 585.0,1207.4 585.4,1201.6 585.7,1211.1 586.1,1200.1 586.4,1215.1 586.8,1217.1 587.1,1200.7 587.5,1198.2 587.8,1181.8 588.2,1204.4 588.5,1206.9 588.9,1194.5 589.2,1212.2 589.6,1195.7 589.9,1190.5 590.3,1207.8 590.6,1203.9 591.0,1180.7 591.3,1192.3 591.7,1186.4 592.0,1195.4 592.4,1198.4 592.7,1192.0 593.1,1196.9 593.4,1203.1 593.8,1191.4 594.1,1182.2 594.5,1184.2 594.8,1200.1 595.2,1207.5 595.5,1189.7 595.9,1194.1 596.2,1182.6 596.6,1184.1 596.9,1197.6 597.3,1183.5 597.6,1189.2 598.0,1188.1 598.3,1196.5 598.7,1186.6 599.0,1182.6 599.4,1179.1 599.7,1175.6 600.1,1188.7 600.4,1197.9 600.8,1162.0 601.1,1184.9 601.5,1164.8 601.8,1167.0 602.2,1168.6 602.5,1166.0 602.9,1165.3 603.2,1161.9 603.6,1183.2 603.9,1151.3 604.3,1157.5 604.6,1155.1 605.0,1162.9 605.3,1147.6 605.7,1158.3 606.0,1158.3 606.4,1174.4 606.7,1160.7 607.1,1152.7 607.4,1153.0 607.8,1168.3 608.1,1148.3 608.5,1141.5 608.8,1140.9 609.2,1142.0 609.5,1152.7 609.9,1133.3 610.2,1135.3 610.6,1138.2 610.9,1126.9 611.3,1139.6 611.6,1127.1 612.0,1133.2 612.3,1130.8 612.7,1137.8 613.0,1137.7 613.4,1109.9 613.7,1102.9 614.1,1101.9 614.4,1115.4 614.8,1113.4 615.1,1105.7 615.5,1102.8 615.8,1115.6 616.2,1106.9 616.5,1097.8 616.9,1099.2 617.2,1075.8 617.6,1099.8 617.9,1106.0 618.3,1084.1 618.6,1075.4 619.0,1088.9 619.3,1068.6 619.7,1071.4 620.0,1073.5 620.4,1062.8 620.7,1068.4 621.1,1038.9 621.4,1030.7 621.8,1059.5 622.1,1054.3 622.5,1047.7 622.8,1037.9 623.2,1038.8 623.5,1039.3 623.9,1019.7 624.2,1030.3 624.6,1016.2 624.9,1041.9 625.3,1020.8 625.6,1016.4 626.0,1020.4 626.3,1016.2 626.7,1012.8 627.0,992.8 627.4,996.4 627.7,999.4 628.1,988.0 628.4,982.3 628.8,970.6 629.1,973.8 629.5,981.6 629.8,950.1 630.2,944.3 630.5,942.4 630.9,935.3 631.2,961.4 631.6,964.3 631.9,946.2 632.3,938.5 632.6,948.6 633.0,941.6 633.3,903.0 633.7,922.8 634.0,946.1 634.4,912.3 634.7,905.5 635.1,902.9 635.4,922.5 635.8,897.1 636.1,902.5 636.5,907.0 636.8,892.2 637.2,886.6 637.5,871.3 637.9,865.4 638.2,886.5 638.6,856.9 638.9,878.8 639.3,876.8 639.6,875.8 640.0,853.6 640.3,843.2 640.7,850.3 641.0,860.3 641.4,848.9 641.7,845.0 642.1,835.2 642.4,843.6 642.8,808.8 643.1,814.2 643.5,841.2 643.8,826.1 644.2,825.5 644.5,793.4 644.9,802.0 645.2,803.0 645.6,802.8 645.9,813.2 646.3,789.7 646.6,793.6 647.0,780.1 647.3,781.7 647.7,784.6 648.0,781.1 648.4,783.8 648.7,754.4 649.1,773.5 649.4,765.9 649.8,747.8 650.1,768.6 650.5,744.9 650.8,747.1 651.2,756.1 651.5,765.0 651.9,742.9 652.2,763.3 652.6,749.8 652.9,735.1 653.3,751.1 653.6,742.2 654.0,731.9 654.3,737.3 654.7,752.3 655.0,740.6 655.4,732.5 655.7,743.5 656.1,716.5 656.4,738.8 656.8,745.1 657.1,714.4 657.5,713.4 657.8,714.6 658.2,720.6 658.5,712.5 658.9,719.6 659.2,706.3 659.6,719.8 659.9,721.6 660.3,718.6 660.6,704.8 661.0,719.9 661.3,689.8 661.7,698.9 662.0,704.1 662.4,719.6 662.7,698.8 663.1,710.0 663.4,721.4 663.8,724.7 664.1,721.1 664.5,689.8 664.8,701.8 665.2,703.8 665.5,705.1 665.9,702.4 666.2,693.9 666.6,695.1 666.9,676.9 667.3,701.6 667.6,696.0 668.0,684.2 668.3,714.3 668.7,693.9 669.0,687.1 669.4,703.8 669.7,703.4 670.1,707.4 670.4,699.6 670.8,711.6 671.1,705.0 671.5,719.9 671.8,710.4 672.2,697.6 672.5,696.4 672.9,717.7 673.2,723.6 673.6,695.1 673.9,722.4 674.3,716.5 674.6,724.0 675.0,713.5 675.3,712.8 675.7,722.6 676.0,722.9 676.4,731.0 676.7,740.8 677.1,743.2 677.4,769.7 677.8,736.9 678.1,746.5 678.5,756.4 678.8,766.2 679.2,748.3 679.5,746.3 679.9,771.1 680.2,775.1 680.6,779.8 680.9,782.5 681.3,756.6 681.6,791.9 682.0,778.6 682.3,809.0 682.7,779.2 683.0,758.4 683.4,786.7 683.7,792.6 684.1,796.2 684.4,796.8 684.8,789.2 685.1,776.5 685.5,797.8 685.8,797.9 686.2,795.7 686.5,807.5 686.9,805.3 687.2,785.5 687.6,803.4 687.9,805.9 688.3,815.9 688.6,843.0 689.0,823.8 689.3,833.9 689.7,801.9 690.0,847.6 690.4,827.3 690.7,843.8 691.1,825.2 691.4,841.4 691.8,855.0 692.1,846.3 692.5,851.3 692.8,840.2 693.2,842.6 693.5,857.4 693.9,853.2 694.2,859.1 694.6,850.4 694.9,855.9 695.3,872.7 695.6,883.1 696.0,861.1 696.3,859.6 696.7,871.6 697.0,884.0 697.4,877.2 697.7,889.7 698.1,874.6 698.4,866.2 698.8,855.7 699.1,893.8 699.5,887.7 699.8,877.5 700.2,891.5 700.5,870.8 700.9,899.2 701.2,898.6 701.6,899.7 701.9,877.6 702.3,901.8 702.6,893.1 703.0,902.7 703.3,858.1 703.7,892.6 704.0,897.0 704.4,875.0 704.7,891.0 705.1,879.1 705.4,896.4 705.8,873.0 706.1,876.1 706.5,859.0 706.8,901.9 707.2,862.3 707.5,858.6 707.9,860.0 708.2,872.6 708.6,871.6 708.9,876.0 709.3,890.5 709.6,882.2 710.0,848.5 710.3,869.9 710.7,864.3 711.0,876.4 711.4,867.2 711.7,882.9 712.1,865.9 712.4,889.3 712.8,848.1 713.1,875.6 713.5,870.8 713.8,846.8 714.2,837.1 714.5,845.0 714.9,857.7 715.2,873.7 715.6,829.5 715.9,844.2 716.3,829.3 716.6,856.1 717.0,845.9 717.3,842.8 717.7,851.2 718.0,843.7 718.4,858.3 718.7,832.6 719.1,827.0 719.4,833.9 719.8,831.8 720.1,848.6 720.5,824.0 720.8,820.7 721.2,817.1 721.5,814.4 721.9,796.3 722.2,824.0 722.6,827.7 722.9,821.6 723.3,807.1 723.6,829.2 724.0,824.9 724.3,816.7 724.7,820.1 725.0,807.8 725.4,813.1 725.7,813.0 726.1,786.6 726.4,794.7 726.8,789.8 727.1,803.5 727.5,759.7 727.8,798.1 728.2,792.0 728.5,787.8 728.9,794.0 729.2,765.5 729.6,787.8 729.9,772.0 730.3,772.2 730.6,798.4 731.0,772.3 731.3,790.2 731.7,772.7 732.0,767.1 732.4,764.0 732.7,747.0 733.1,760.8 733.4,765.8 733.8,781.9 734.1,770.7 734.5,769.9 734.8,743.0 735.2,743.7 735.5,757.7 735.9,758.0 736.2,734.0 736.6,763.1 736.9,738.2 737.3,750.3 737.6,738.8 738.0,755.2 738.3,756.2 738.7,757.5 739.0,728.9 739.4,743.2 739.7,772.5 740.1,739.4 740.4,745.1 740.8,739.3 741.1,729.3 741.5,760.5 741.8,757.5 742.2,723.9 742.5,740.4 742.9,759.0 743.2,738.0 743.6,731.5 743.9,743.7 744.3,740.5 744.6,709.9 745.0,714.8 745.3,749.0 745.7,716.6 746.0,723.3 746.4,713.6 746.7,750.1 747.1,703.1 747.4,722.9 747.8,713.7 748.1,714.1 748.5,699.3 748.8,704.3 749.2,711.9 749.5,717.3 749.9,685.4 750.2,712.6 750.6,697.3 750.9,708.2 751.3,701.2 751.6,704.8 752.0,701.8 752.3,711.0 752.7,703.1 753.0,676.9 753.4,665.2 753.7,678.1 754.1,702.4 754.4,672.2 754.8,680.9 755.1,721.7 755.5,688.1 755.8,689.3 756.2,696.0 756.5,699.3 756.9,681.1 757.2,689.1 757.6,656.3 757.9,689.9 758.3,692.5 758.6,657.2 759.0,695.1 759.3,708.6 759.7,641.3 760.0,675.0 760.4,697.3 760.7,685.4 761.1,663.4 761.4,663.3 761.8,665.4 762.1,679.7 762.5,655.5 762.8,645.0 763.2,667.3 763.5,652.4 763.9,687.5 764.2,645.8 764.6,663.8 764.9,655.0 765.3,635.0 765.6,647.9 766.0,624.6 766.3,658.4 766.7,637.1 767.0,631.5 767.4,625.1 767.7,667.9 768.1,653.3 768.4,629.4 768.8,640.4 769.1,650.7 769.5,648.6 769.8,638.8 770.2,606.2 770.5,661.1 770.9,632.5 771.2,653.7 771.6,612.6 771.9,642.1 772.3,648.9 772.6,645.0 773.0,608.5 773.3,621.8 773.7,647.5 774.0,611.0 774.4,632.4 774.7,618.3 775.1,597.5 775.4,632.8 775.8,633.7 776.1,625.8 776.5,618.9 776.8,629.0 777.2,583.3 777.5,611.0 777.9,636.0 778.2,617.2 778.6,625.9 778.9,606.1 779.3,614.7 779.6,592.1 780.0,617.1 780.3,613.4 780.7,603.5 781.0,608.7 781.4,610.2 781.7,611.8 782.1,620.1 782.4,623.6 782.8,576.3 783.1,612.1 783.5,625.0 783.8,590.8 784.2,605.7 784.5,644.5 784.9,600.4 785.2,625.3 785.6,614.8 785.9,590.4 786.3,608.7 786.6,585.9 787.0,608.6 787.3,628.2 787.7,625.0 788.0,620.4 788.4,608.7 788.7,627.0 789.1,636.5 789.4,630.3 789.8,634.4 790.1,627.4 790.5,629.2 790.8,611.0 791.2,648.8 791.5,612.3 791.9,616.7 792.2,621.3 792.6,622.8 792.9,655.4 793.3,634.3 793.6,635.3 794.0,637.0 794.3,643.0 794.7,664.7 795.0,669.2 795.4,642.1 795.7,676.1 796.1,661.2 796.4,657.7 796.8,673.4 797.1,656.5 797.5,660.4 797.8,658.7 798.2,639.9 798.5,639.3 798.9,644.3 799.2,646.5 799.6,651.6 799.9,653.1 800.3,678.5 800.6,663.0 801.0,675.2 801.3,669.5 801.7,652.4 802.0,661.9 802.4,644.6 802.7,641.9 803.1,674.1 803.4,668.6 803.8,671.2 804.1,685.4 804.5,651.4 804.8,670.1 805.2,639.7 805.5,660.9 805.9,683.6 806.2,652.7 806.6,656.8 806.9,672.5 807.3,703.1 807.6,690.1 808.0,676.8 808.3,688.9 808.7,681.1 809.0,673.8 809.4,672.0 809.7,686.6 810.1,678.3 810.4,691.6 810.8,672.0 811.1,692.6 811.5,674.2 811.8,698.0 812.2,695.3 812.5,670.1 812.9,714.9 813.2,686.2 813.6,670.8 813.9,662.3 814.3,682.5 814.6,683.1 815.0,669.8 815.3,664.9 815.7,674.3 816.0,665.4 816.4,671.7 816.7,668.3 817.1,688.0 817.4,643.8 817.8,711.6 818.1,675.1 818.5,681.2 818.8,662.2 819.2,698.2 819.5,679.9 819.9,676.9 820.2,669.2 820.6,693.2 820.9,692.8 821.3,677.7 821.6,712.7 822.0,676.5 822.3,709.2 822.7,695.3 823.0,673.8 823.4,691.6 823.7,705.0 824.1,692.2 824.4,701.1 824.8,699.7 825.1,708.7 825.5,694.2 825.8,732.8 826.2,711.6 826.5,730.1 826.9,705.9 827.2,714.0 827.6,697.8 827.9,714.4 828.3,737.7 828.6,721.2 829.0,707.2 829.3,711.2 829.7,729.5 830.0,719.7 830.4,753.9 830.7,728.5 831.1,726.8 831.4,738.7 831.8,753.6 832.1,707.8 832.5,720.1 832.8,720.7 833.2,701.9 833.5,729.1 833.9,730.5 834.2,744.8 834.6,742.0 834.9,742.5 835.3,742.1 835.6,727.0 836.0,773.0 836.3,756.1 836.7,729.6 837.0,721.3 837.4,742.5 837.7,750.4 838.1,742.8 838.4,747.6 838.8,750.9 839.1,742.9 839.5,723.1 839.8,729.9 840.2,711.1 840.5,751.5 840.9,730.2 841.2,741.1 841.6,770.2 841.9,727.2 842.3,739.5 842.6,727.6 843.0,712.7 843.3,754.9 843.7,739.2 844.0,739.9 844.4,752.0 844.7,737.1 845.1,749.9 845.4,758.1 845.8,728.8 846.1,745.1 846.5,740.4 846.8,753.6 847.2,773.8 847.5,722.3 847.9,759.6 848.2,738.0 848.6,745.8 848.9,741.2 849.3,733.2 849.6,716.5 850.0,734.5 850.3,721.0 850.7,755.3 851.0,740.0 851.4,724.5 851.7,727.1 852.1,748.7 852.4,710.9 852.8,734.2 853.1,733.2 853.5,717.3 853.8,745.8 854.2,724.0 854.5,745.1 854.9,732.0 855.2,719.5 855.6,726.7 855.9,742.8 856.3,714.2 856.6,716.0 857.0,726.7 857.3,736.5 857.7,737.4 858.0,714.2 858.4,711.0 858.7,727.2 859.1,725.4 859.4,733.0 859.8,706.3 860.1,721.6 860.5,712.7 860.8,752.7 861.2,698.9 861.5,715.8 861.9,721.7 862.2,703.8 862.6,723.0 862.9,718.5 863.3,706.9 863.6,722.8 864.0,749.3 864.3,732.2 864.7,750.1 865.0,749.1 865.4,732.5 865.7,726.2 866.1,698.3 866.4,700.7 866.8,734.0 867.1,731.9 867.5,733.5 867.8,718.4 868.2,727.3 868.5,716.3 868.9,745.4 869.2,734.7 869.6,704.4 869.9,726.1 870.3,753.3 870.6,720.5 871.0,720.2 871.3,722.9 871.7,729.6 872.0,739.8 872.4,736.5 872.7,742.0 873.1,731.7 873.4,750.4 873.8,762.2 874.1,729.2 874.5,746.9 874.8,748.0 875.2,746.6 875.5,744.2 875.9,752.3 876.2,742.9 876.6,737.3 876.9,736.0 877.3,758.8 877.6,740.9 878.0,722.8 878.3,742.9 878.7,742.9 879.0,763.7 879.4,766.4 879.7,736.4 880.1,771.1 880.4,758.7 880.8,777.0 881.1,747.7 881.5,765.5 881.8,767.4 882.2,780.4 882.5,739.5 882.9,758.6 883.2,761.5 883.6,757.5 883.9,748.4 884.3,758.3 884.6,763.9 885.0,791.7 885.3,765.0 885.7,780.4 886.0,758.3 886.4,769.8 886.7,766.8 887.1,769.2 887.4,747.6 887.8,769.4 888.1,808.2 888.5,770.9 888.8,752.7 889.2,806.0 889.5,779.9 889.9,779.1 890.2,752.4 890.6,771.2 890.9,772.8 891.3,774.6 891.6,763.0 892.0,788.0 892.3,760.0 892.7,796.7 893.0,780.6 893.4,775.3 893.7,759.9 894.1,788.4 894.4,789.5 894.8,763.5 895.1,810.2 895.5,783.2 895.8,765.2 896.2,806.0 896.5,773.8 896.9,776.9 897.2,770.0 897.6,777.8 897.9,788.3 898.3,777.3 898.6,797.8 899.0,779.8 899.3,793.9 899.7,763.5 900.0,789.2 900.4,796.8 900.7,807.8 901.1,794.2 901.4,801.9 901.8,806.1 902.1,789.2 902.5,810.7 902.8,808.0 903.2,796.6 903.5,787.4 903.9,824.5 904.2,823.2 904.6,811.8 904.9,826.3 905.3,833.3 905.6,811.8 906.0,823.7 906.3,825.2 906.7,825.7 907.0,818.5 907.4,815.1 907.7,834.5 908.1,828.1 908.4,850.3 908.8,834.9 909.1,831.1 909.5,813.4 909.8,831.2 910.2,838.6 910.5,834.1 910.9,827.3 911.2,801.0 911.6,827.8 911.9,844.3 912.3,867.1 912.6,829.1 913.0,854.6 913.3,830.1 913.7,863.9 914.0,848.6 914.4,853.5 914.7,860.3 915.1,847.3 915.4,848.7 915.8,874.0 916.1,841.0 916.5,848.6 916.8,873.9 917.2,873.9 917.5,852.6 917.9,854.0 918.2,867.4 918.6,893.4 918.9,888.5 919.3,863.7 919.6,860.9 920.0,868.2 920.3,845.1 920.7,875.0 921.0,866.0 921.4,887.6 921.7,861.8 922.1,878.7 922.4,866.1 922.8,867.9 923.1,901.7 923.5,864.3 923.8,876.5 924.2,884.3 924.5,906.7 924.9,884.6 925.2,874.8 925.6,885.6 925.9,907.5 926.3,891.3 926.6,893.5 927.0,917.1 927.3,873.1 927.7,902.9 928.0,875.2 928.4,905.8 928.7,896.2 929.1,898.5 929.4,894.0 929.8,894.6 930.1,853.3 930.5,874.7 930.8,923.0 931.2,894.8 931.5,892.2 931.9,903.3 932.2,908.9 932.6,898.9 932.9,911.6 933.3,906.4 933.6,889.7 934.0,901.2 934.3,914.0 934.7,887.3 935.0,901.6 935.4,890.7 935.7,898.3 936.1,880.7 936.4,905.0 936.8,895.0 937.1,920.3 937.5,900.6 937.8,935.2 938.2,922.9 938.5,897.0 938.9,937.5 939.2,910.5 939.6,915.1 939.9,892.0 940.3,909.4 940.6,902.0 941.0,893.7 941.3,897.0 941.7,932.4 942.0,906.1 942.4,914.1 942.7,903.8 943.1,909.4 943.4,908.7 943.8,915.1 944.1,918.0 944.5,930.3 944.8,917.9 945.2,917.4 945.5,908.1 945.9,928.9 946.2,927.3 946.6,917.5 946.9,897.1 947.3,921.7 947.6,894.3 948.0,945.2 948.3,925.6 948.7,943.7 949.0,923.4 949.4,939.1 949.7,951.4 950.1,940.1 950.4,914.4 950.8,907.9 951.1,922.2 951.5,933.3 951.8,914.6 952.2,904.6 952.5,923.1 952.9,930.1 953.2,906.5 953.6,930.9 953.9,944.0 954.3,917.5 954.6,936.2 955.0,933.1 955.3,938.7 955.7,939.3 956.0,922.2 956.4,943.8 956.7,965.6 957.1,942.4 957.4,917.6 957.8,933.6 958.1,964.8 958.5,936.1 958.8,941.4 959.2,921.7 959.5,918.4 959.9,939.3 960.2,946.1 960.6,932.2 960.9,947.3 961.3,937.2 961.6,913.7 962.0,939.3 962.3,952.3 962.7,976.4 963.0,924.1 963.4,950.0 963.7,950.8 964.1,952.4 964.4,949.1 964.8,969.2 965.1,965.0 965.5,939.7 965.8,938.1 966.2,950.7 966.5,930.6 966.9,953.8 967.2,963.5 967.6,945.5 967.9,949.9 968.3,944.9 968.6,957.2 969.0,962.8 969.3,942.5 969.7,970.4 970.0,944.4 970.4,959.8 970.7,963.3 971.1,946.4 971.4,956.1 971.8,946.4 972.1,976.2 972.5,960.7 972.8,942.6 973.2,974.7 973.5,959.5 973.9,991.7 974.2,964.3 974.6,976.1 974.9,951.9 975.3,964.9 975.6,966.8 976.0,982.1 976.3,988.7 976.7,972.0 977.0,968.9 977.4,958.6 977.7,962.2 978.1,970.1 978.4,987.2 978.8,998.0 979.1,969.8 979.5,964.2 979.8,960.5 980.2,986.1 980.5,994.4 980.9,984.5 981.2,998.7 981.6,976.8 981.9,970.9 982.3,979.8 982.6,960.5 983.0,974.5 983.3,969.9 983.7,952.1 984.0,979.4 984.4,987.2 984.7,998.1 985.1,977.9 985.4,996.3 985.8,969.6 986.1,998.1 986.5,971.7 986.8,980.2 987.2,963.8 987.5,1006.5 987.9,977.5 988.2,999.0 988.6,982.1 988.9,987.1 989.3,993.7 989.6,967.3 990.0,989.5 990.3,978.7 990.7,970.0 991.0,998.6 991.4,981.5 991.7,1001.9 992.1,985.6 992.4,978.9 992.8,975.9 993.1,984.3 993.5,975.4 993.8,997.3 994.2,976.1 994.5,1003.3 994.9,979.1 995.2,983.2 995.6,975.4 995.9,1016.2 996.3,955.9 996.6,995.7 997.0,999.8 997.3,1000.3 997.7,1009.3 998.0,1005.3 998.4,961.7 998.7,986.5 999.1,971.2 999.4,981.7 999.8,981.4 1000.1,998.9 1000.5,995.6 1000.8,983.7 1001.2,972.4 1001.5,988.0 1001.9,983.8 1002.2,976.7 1002.6,994.7 1002.9,1000.4 1003.3,970.4 1003.6,999.3 1004.0,965.9 1004.3,974.2 1004.7,958.5 1005.0,985.0 1005.4,1003.7 1005.7,962.7 1006.1,970.2 1006.4,964.5 1006.8,979.8 1007.1,993.0 1007.5,958.0 1007.8,988.2 1008.2,1004.1 1008.5,973.1 1008.9,976.4 1009.2,984.4 1009.6,949.2 1009.9,963.2 1010.3,982.4 1010.6,975.0 1011.0,984.9 1011.3,961.0 1011.7,972.1 1012.0,963.4 1012.4,958.1 1012.7,983.0 1013.1,997.1 1013.4,961.0 1013.8,978.8 1014.1,982.0 1014.5,991.8 1014.8,963.8 1015.2,952.1 1015.5,979.5 1015.9,962.2 1016.2,955.4 1016.6,968.2 1016.9,972.1 1017.3,974.7 1017.6,969.4 1018.0,943.8 1018.3,942.3 1018.7,978.2 1019.0,990.4 1019.4,978.7 1019.7,957.0 1020.1,984.6 1020.4,958.4 1020.8,989.4 1021.1,975.7 1021.5,983.1 1021.8,959.9 1022.2,979.6 1022.5,943.3 1022.9,988.4 1023.2,954.0 1023.6,970.1 1023.9,983.3 1024.3,983.9 1024.6,973.2 1025.0,950.3 1025.3,989.8 1025.7,967.0 1026.0,952.8 1026.4,992.4 1026.7,1008.2 1027.1,967.6 1027.4,988.1 1027.8,986.3 1028.1,978.6 1028.5,981.9 1028.8,977.5 1029.2,945.3 1029.5,962.9 1029.9,966.6 1030.2,961.5 1030.6,974.5 1030.9,972.6 1031.3,982.9 1031.6,1004.1 1032.0,963.8 1032.3,984.5 1032.7,998.5 1033.0,973.9 1033.4,952.1 1033.7,973.8 1034.1,991.4 1034.4,983.1 1034.8,955.0 1035.1,979.0 1035.5,973.0 1035.8,968.5 1036.2,986.2 1036.5,939.2 1036.9,993.5 1037.2,997.7 1037.6,966.3 1037.9,957.6 1038.3,950.2 1038.6,974.7 1039.0,960.6 1039.3,940.0 1039.7,938.6 1040.0,973.5 1040.4,978.1 1040.7,946.2 1041.1,983.5 1041.4,955.6 1041.8,963.8 1042.1,947.3 1042.5,974.5 1042.8,956.6 1043.2,958.0 1043.5,962.6 1043.9,947.1 1044.2,975.3 1044.6,960.0 1044.9,946.0 1045.3,937.7 1045.6,955.7 1046.0,954.1 1046.3,949.2 1046.7,934.9 1047.0,967.7 1047.4,950.7 1047.7,962.1 1048.1,955.9 1048.4,946.4 1048.8,940.2 1049.1,932.3 1049.5,963.4 1049.8,949.0 1050.2,971.6 1050.5,973.6 1050.9,961.8 1051.2,956.5 1051.6,970.5 1051.9,980.4 1052.3,956.7 1052.6,968.1 1053.0,981.5 1053.3,947.1 1053.7,970.3 1054.0,959.9 1054.4,970.6 1054.7,976.6 1055.1,962.7 1055.4,971.3 1055.8,989.1 1056.1,977.3 1056.5,975.6 1056.8,970.5 1057.2,971.0 1057.5,985.1 1057.9,968.5 1058.2,966.6 1058.6,965.4 1058.9,969.4 1059.3,976.9 1059.6,975.0 1060.0,973.5 1060.3,1007.2 1060.7,962.0 1061.0,978.3 1061.4,985.2 1061.7,975.8 1062.1,977.2 1062.4,957.9 1062.8,976.8 1063.1,985.7 1063.5,963.5 1063.8,980.5 1064.2,986.6 1064.5,975.6 1064.9,976.6 1065.2,954.0 1065.6,990.0 1065.9,1005.2 1066.3,991.1 1066.6,996.6 1067.0,937.7 1067.3,963.3 1067.7,966.2 1068.0,973.6 1068.4,964.9 1068.7,947.1 1069.1,968.8 1069.4,949.8 1069.8,966.9 1070.1,983.6 1070.5,996.3 1070.8,979.0 1071.2,981.6 1071.5,946.4 1071.9,954.9 1072.2,979.8 1072.6,979.8 1072.9,974.3 1073.3,963.3 1073.6,967.2 1074.0,979.7 1074.3,998.7 1074.7,974.1 1075.0,944.5 1075.4,1006.5 1075.7,986.0 1076.1,969.8 1076.4,997.2 1076.8,988.4 1077.1,972.2 1077.5,971.7 1077.8,991.3 1078.2,981.3 1078.5,999.8 1078.9,973.4 1079.2,972.1 1079.6,964.7 1079.9,979.9 1080.3,1011.4 1080.6,954.1 1081.0,990.3 1081.3,969.9 1081.7,972.9 1082.0,1012.8 1082.4,959.6 1082.7,980.4 1083.1,956.6 1083.4,978.6 1083.8,995.2 1084.1,988.7 1084.5,1002.5 1084.8,999.1 1085.2,982.4 1085.5,990.0 1085.9,995.8 1086.2,984.1 1086.6,959.4 1086.9,983.2 1087.3,993.7 1087.6,992.3 1088.0,964.3 1088.3,977.7 1088.7,998.8 1089.0,978.9 1089.4,1002.4 1089.7,974.5 1090.1,965.0 1090.4,973.6 1090.8,1020.6 1091.1,979.7 1091.5,981.4 1091.8,996.6 1092.2,983.0 1092.5,963.1 1092.9,982.7 1093.2,1004.8 1093.6,968.6 1093.9,972.6 1094.3,988.1 1094.6,993.6 1095.0,981.9 1095.3,1015.3 1095.7,986.7 1096.0,974.0 1096.4,993.5 1096.7,994.4 1097.1,991.8 1097.4,988.6 1097.8,1019.9 1098.1,1012.8 1098.5,999.3 1098.8,990.4 1099.2,1003.1 1099.5,1004.1 1099.9,997.3 1100.2,981.2 1100.6,1008.7 1100.9,1001.4 1101.3,978.0 1101.6,1004.1 1102.0,1008.3 1102.3,1003.9 1102.7,991.0 1103.0,992.5 1103.4,986.8 1103.7,990.5 1104.1,1011.8 1104.4,1004.4 1104.8,982.0 1105.1,1002.8 1105.5,1013.0 1105.8,1017.3 1106.2,1004.1 1106.5,986.1 1106.9,993.2 1107.2,988.9 1107.6,988.8 1107.9,980.3 1108.3,999.0 1108.6,1000.8 1109.0,990.0 1109.3,1023.5 1109.7,992.7 1110.0,1009.6 1110.4,1025.7 1110.7,995.9 1111.1,1024.4 1111.4,1005.0 1111.8,1024.8 1112.1,1010.4 1112.5,986.5 1112.8,989.9 1113.2,979.4 1113.5,991.7 1113.9,990.7 1114.2,1003.4 1114.6,971.5 1114.9,974.5 1115.3,994.3 1115.6,990.9 1116.0,1011.3 1116.3,995.5 1116.7,990.0 1117.0,1006.3 1117.4,977.9 1117.7,1004.5 1118.1,1013.8 1118.4,1012.7 1118.8,990.4 1119.1,1024.6 1119.5,1006.7 1119.8,1007.5 1120.2,1014.2 1120.5,1017.1 1120.9,983.8 1121.2,994.5 1121.6,990.1 1121.9,990.6 1122.3,995.0 1122.6,995.5 1123.0,983.3 1123.3,993.5 1123.7,998.0 1124.0,982.4 1124.4,955.8 1124.7,947.2 1125.1,966.7 1125.4,967.3 1125.8,966.1 1126.1,967.0 1126.5,962.8 1126.8,979.4 1127.2,959.4 1127.5,951.3 1127.9,949.1 1128.2,962.1 1128.6,942.5 1128.9,945.9 1129.3,945.8 1129.6,934.2 1130.0,921.5 1130.3,924.0 1130.7,924.0 1131.0,922.6 1131.4,928.7 1131.7,937.9 1132.1,924.6 1132.4,912.7 1132.8,945.3 1133.1,927.9 1133.5,900.3 1133.8,925.8 1134.2,908.3 1134.5,920.9 1134.9,919.2 1135.2,929.3 1135.6,901.0 1135.9,925.6 1136.3,936.1 1136.6,903.4 1137.0,930.9 1137.3,927.4 1137.7,923.8 1138.0,939.8 1138.4,909.0 1138.7,912.0 1139.1,922.2 1139.4,924.7 1139.8,916.7 1140.1,920.0 1140.5,911.6 1140.8,919.2 1141.2,907.1 1141.5,916.0 1141.9,903.4 1142.2,905.3 1142.6,889.4 1142.9,900.6 1143.3,908.4 1143.6,899.0 1144.0,908.4 1144.3,921.3 1144.7,903.4 1145.0,894.7 1145.4,898.9 1145.7,877.2 1146.1,912.9 1146.4,919.4 1146.8,883.9 1147.1,932.6 1147.5,884.8 1147.8,907.3 1148.2,896.6 1148.5,915.3 1148.9,906.9 1149.2,906.5 1149.6,909.6 1149.9,893.4 1150.3,897.4 1150.6,875.8 1151.0,911.7 1151.3,886.1 1151.7,893.5 1152.0,886.0 1152.4,873.1 1152.7,869.0 1153.1,873.8 1153.4,875.7 1153.8,864.2 1154.1,878.7 1154.5,883.4 1154.8,880.6 1155.2,866.8 1155.5,873.1 1155.9,889.4 1156.2,884.1 1156.6,869.3 1156.9,868.9 1157.3,885.5 1157.6,848.2 1158.0,884.3 1158.3,863.0 1158.7,870.5 1159.0,874.4 1159.4,890.6 1159.7,858.4 1160.1,888.4 1160.4,901.6 1160.8,869.5 1161.1,890.0 1161.5,914.0 1161.8,881.8 1162.2,897.1 1162.5,881.3 1162.9,889.0 1163.2,857.9 1163.6,886.5 1163.9,915.2 1164.3,913.9 1164.6,883.9 1165.0,898.2 1165.3,888.1 1165.7,893.0 1166.0,884.4 1166.4,914.9 1166.7,890.6 1167.1,917.7 1167.4,894.3 1167.8,920.3 1168.1,897.0 1168.5,884.6 1168.8,893.0 1169.2,904.9 1169.5,915.6 1169.9,913.6 1170.2,891.4 1170.6,926.3 1170.9,910.9 1171.3,911.1 1171.6,900.3 1172.0,923.0 1172.3,908.7 1172.7,892.9 1173.0,911.5 1173.4,917.6 1173.7,910.1 1174.1,908.7 1174.4,918.8 1174.8,898.5 1175.1,927.7 1175.5,909.6 1175.8,900.7 1176.2,923.5 1176.5,939.2 1176.9,935.9 1177.2,905.4 1177.6,911.5 1177.9,932.4 1178.3,928.2 1178.6,931.3 1179.0,934.6 1179.3,904.8 1179.7,946.7 1180.0,912.1 1180.4,931.6 1180.7,917.4 1181.1,935.4 1181.4,946.9 1181.8,938.1 1182.1,922.0 1182.5,931.6 1182.8,931.4 1183.2,929.2 1183.5,943.8 1183.9,922.1 1184.2,940.6 1184.6,920.8 1184.9,943.5 1185.3,944.9 1185.6,938.0 1186.0,950.6 1186.3,954.6 1186.7,937.1 1187.0,940.8 1187.4,921.4 1187.7,926.2 1188.1,952.8 1188.4,912.5 1188.8,958.6 1189.1,949.8 1189.5,931.8 1189.8,942.8 1190.2,931.3 1190.5,957.2 1190.9,932.9 1191.2,959.2 1191.6,941.8 1191.9,929.1 1192.3,954.9 1192.6,951.5 1193.0,951.1 1193.3,959.6 1193.7,939.9 1194.0,928.7 1194.4,947.6 1194.7,954.9 1195.1,955.6 1195.4,942.9 1195.8,960.3 1196.1,939.7 1196.5,959.4 1196.8,966.5 1197.2,964.0 1197.5,968.4 1197.9,942.7 1198.2,960.2 1198.6,961.3 1198.9,962.6 1199.3,962.2 1199.6,970.6 1200.0,978.5 1200.3,982.2 1200.7,971.2 1201.0,971.2 1201.4,979.9 1201.7,957.1 1202.1,987.9 1202.4,971.5 1202.8,990.6 1203.1,986.6 1203.5,987.3 1203.8,1001.7 1204.2,999.9 1204.5,994.5 1204.9,976.5 1205.2,978.1 1205.6,984.9 1205.9,988.3 1206.3,985.1 1206.6,983.5 1207.0,1012.7 1207.3,976.1 1207.7,1032.0 1208.0,1001.9 1208.4,1003.7 1208.7,980.9 1209.0,1009.4 1209.4,1014.6 1209.7,1022.5 1210.1,988.8 1210.4,1005.2 1210.8,1035.2 1211.1,1019.3 1211.5,1035.9 1211.8,1030.4 1212.2,1038.8 1212.5,1018.0 1212.9,1035.9 1213.2,1029.4 1213.6,1004.2 1213.9,1035.9 1214.3,1024.8 1214.6,1038.6 1215.0,1036.2 1215.3,1018.7 1215.7,1056.9 1216.0,1040.1 1216.4,1046.4 1216.7,1020.5 1217.1,1048.2 1217.4,1051.9 1217.8,1057.8 1218.1,1037.0 1218.5,1069.9 1218.8,1038.8 1219.2,1063.9 1219.5,1064.4 1219.9,1067.5 1220.2,1046.8 1220.6,1065.9 1220.9,1035.1 1221.3,1070.6 1221.6,1063.1 1222.0,1070.7 1222.3,1067.6 1222.7,1044.0 1223.0,1082.5 1223.4,1068.8 1223.7,1080.4 1224.1,1040.9 1224.4,1081.6 1224.8,1063.5 1225.1,1058.7 1225.5,1078.5 1225.8,1076.2 1226.2,1098.6 1226.5,1098.9 1226.9,1071.4 1227.2,1081.5 1227.6,1081.8 1227.9,1077.1 1228.3,1064.9 1228.6,1069.3 1229.0,1061.5 1229.3,1069.3 1229.7,1085.3 1230.0,1095.3 1230.4,1053.0 1230.7,1064.6 1231.1,1075.4 1231.4,1087.6 1231.8,1086.9 1232.1,1103.0 1232.5,1088.0 1232.8,1075.2 1233.2,1097.1 1233.5,1060.1 1233.9,1080.8 1234.2,1088.4 1234.6,1092.9 1234.9,1080.7 1235.3,1096.8 1235.6,1084.2 1236.0,1072.0 1236.3,1085.0 1236.7,1095.0 1237.0,1090.0 1237.4,1096.7 1237.7,1092.4 1238.1,1097.4 1238.4,1095.8 1238.8,1059.4 1239.1,1079.0 1239.5,1092.2 1239.8,1070.6 1240.2,1088.7 1240.5,1074.1 1240.9,1091.8 1241.2,1070.4 1241.6,1097.2 1241.9,1064.7 1242.3,1073.5 1242.6,1063.5 1243.0,1113.0 1243.3,1088.1 1243.7,1072.0 1244.0,1087.0 1244.4,1087.0 1244.7,1096.2 1245.1,1075.9 1245.4,1083.5 1245.8,1099.1 1246.1,1089.9 1246.5,1110.0 1246.8,1121.9 1247.2,1108.2 1247.5,1103.7 1247.9,1098.2 1248.2,1065.2 1248.6,1094.8 1248.9,1078.9 1249.3,1080.5 1249.6,1082.9 1250.0,1108.4 1250.3,1090.3 1250.7,1117.8 1251.0,1100.6 1251.4,1096.8 1251.7,1111.2 1252.1,1096.4 1252.4,1097.7 1252.8,1104.2 1253.1,1122.3 1253.5,1090.7 1253.8,1123.8 1254.2,1116.5 1254.5,1117.4 1254.9,1100.7 1255.2,1115.9 1255.6,1129.7 1255.9,1120.9 1256.3,1124.7 1256.6,1126.0 1257.0,1121.9 1257.3,1120.3 1257.7,1127.2 1258.0,1137.4 1258.4,1133.4 1258.7,1106.6 1259.1,1111.1 1259.4,1123.7 1259.8,1130.4 1260.1,1111.8 1260.5,1128.0 1260.8,1113.3 1261.2,1144.0 1261.5,1143.9 1261.9,1129.2 1262.2,1140.5 1262.6,1119.9 1262.9,1114.2 1263.3,1123.6 1263.6,1129.4 1264.0,1122.2 1264.3,1128.3 1264.7,1114.7 1265.0,1123.8 1265.4,1136.7 1265.7,1131.7 1266.1,1118.6 1266.4,1130.4 1266.8,1136.6 1267.1,1124.7 1267.5,1130.4 1267.8,1129.2 1268.2,1139.1 1268.5,1132.8 1268.9,1140.4 1269.2,1130.4 1269.6,1136.2 1269.9,1124.4 1270.3,1124.8 1270.6,1115.9 1271.0,1135.5 1271.3,1141.2 1271.7,1143.0 1272.0,1132.8 1272.4,1136.4 1272.7,1135.8 1273.1,1122.3 1273.4,1136.3 1273.8,1136.5 1274.1,1140.5 1274.5,1129.0 1274.8,1163.8 1275.2,1145.4 1275.5,1134.2 1275.9,1149.7 1276.2,1139.5 1276.6,1144.3 1276.9,1132.9 1277.3,1150.7 1277.6,1138.7 1278.0,1139.3 1278.3,1144.9 1278.7,1137.9 1279.0,1155.0 1279.4,1139.2 1279.7,1153.1 1280.1,1140.6 1280.4,1130.4 1280.8,1148.1 1281.1,1146.8 1281.5,1149.3 1281.8,1140.0 1282.2,1132.4 1282.5,1157.0 1282.9,1160.3 1283.2,1145.1 1283.6,1147.1 1283.9,1131.9 1284.3,1151.5 1284.6,1135.7 1285.0,1150.8 1285.3,1161.8 1285.7,1143.7 1286.0,1143.9 1286.4,1138.1 1286.7,1142.1 1287.1,1139.5 1287.4,1157.9 1287.8,1142.1 1288.1,1157.3 1288.5,1159.3 1288.8,1148.8 1289.2,1148.9 1289.5,1150.2 1289.9,1144.8 1290.2,1169.9 1290.6,1133.6 1290.9,1150.3 1291.3,1165.5 1291.6,1142.2 1292.0,1172.2 1292.3,1144.4 1292.7,1155.7 1293.0,1166.6 1293.4,1167.4 1293.7,1154.2 1294.1,1166.7 1294.4,1142.0 1294.8,1163.3 1295.1,1143.1 1295.5,1154.1 1295.8,1145.0 1296.2,1152.2 1296.5,1158.0 1296.9,1166.5 1297.2,1167.8 1297.6,1169.1 1297.9,1165.7 1298.3,1152.3 1298.6,1175.8 1299.0,1158.0 1299.3,1154.4 1299.7,1140.8 1300.0,1148.0 1300.4,1153.4 1300.7,1156.5 1301.1,1139.0 1301.4,1156.5 1301.8,1150.2 1302.1,1155.9 1302.5,1154.6 1302.8,1156.6 1303.2,1161.9 1303.5,1166.5 1303.9,1147.3 1304.2,1159.3 1304.6,1156.9 1304.9,1184.2 1305.3,1164.0 1305.6,1162.8 1306.0,1159.0 1306.3,1149.7 1306.7,1173.3 1307.0,1143.5 1307.4,1144.4 1307.7,1159.8 1308.1,1147.1 1308.4,1173.2 1308.8,1176.1 1309.1,1158.2 1309.5,1143.9 1309.8,1178.4 1310.2,1178.5 1310.5,1160.5 1310.9,1167.2 1311.2,1157.0 1311.6,1155.7 1311.9,1154.9 1312.3,1137.7 1312.6,1174.4 1313.0,1164.1 1313.3,1161.5 1313.7,1161.1 1314.0,1162.6 1314.4,1161.5 1314.7,1184.0 1315.1,1146.3 1315.4,1147.9 1315.8,1161.5 1316.1,1140.6 1316.5,1165.4 1316.8,1153.7 1317.2,1131.6 1317.5,1150.1 1317.9,1145.4 1318.2,1177.3 1318.6,1145.2 1318.9,1162.1 1319.3,1149.0 1319.6,1156.5 1320.0,1142.7 1320.3,1166.5 1320.7,1160.7 1321.0,1140.7 1321.4,1165.6 1321.7,1156.9 1322.1,1142.6 1322.4,1139.2 1322.8,1151.6 1323.1,1155.8 1323.5,1143.8 1323.8,1150.8 1324.2,1162.2 1324.5,1133.1 1324.9,1169.7 1325.2,1160.3 1325.6,1141.8 1325.9,1156.5 1326.3,1132.0 1326.6,1159.0 1327.0,1175.3 1327.3,1168.0 1327.7,1163.9 1328.0,1148.1 1328.4,1173.5 1328.7,1151.0 1329.1,1148.7 1329.4,1141.9 1329.8,1151.4 1330.1,1140.6 1330.5,1156.8 1330.8,1147.1 1331.2,1147.4 1331.5,1159.2 1331.9,1172.5 1332.2,1155.6 1332.6,1149.2 1332.9,1150.6 1333.3,1162.7 1333.6,1139.6 1334.0,1157.4 1334.3,1141.7 1334.7,1151.0 1335.0,1171.7 1335.4,1156.2 1335.7,1170.5 1336.1,1162.2 1336.4,1145.2 1336.8,1170.8 1337.1,1142.1 1337.5,1147.2 1337.8,1160.6 1338.2,1156.2 1338.5,1170.6 1338.9,1176.4 1339.2,1169.4 1339.6,1159.1 1339.9,1163.5 1340.3,1166.0 1340.6,1167.3 1341.0,1152.2 1341.3,1173.2 1341.7,1156.1 1342.0,1166.9 1342.4,1147.5 1342.7,1162.7 1343.1,1150.1 1343.4,1160.1 1343.8,1132.6 1344.1,1152.4 1344.5,1150.8 1344.8,1175.1 1345.2,1146.2 1345.5,1169.4 1345.9,1146.7 1346.2,1174.6 1346.6,1180.0 1346.9,1161.9 1347.3,1163.0 1347.6,1159.7 1348.0,1156.8 1348.3,1147.9 1348.7,1173.7 1349.0,1179.1 1349.4,1173.9 1349.7,1141.0 1350.1,1157.2 1350.4,1166.7 1350.8,1163.5 1351.1,1164.6 1351.5,1134.2 1351.8,1162.2 1352.2,1153.5 1352.5,1172.4 1352.9,1175.3 1353.2,1176.3 1353.6,1156.9 1353.9,1169.5 1354.3,1169.0 1354.6,1146.6 1355.0,1146.6 1355.3,1154.2 1355.7,1173.4 1356.0,1174.9 1356.4,1148.1 1356.7,1155.0 1357.1,1156.3 1357.4,1172.4 1357.8,1171.8 1358.1,1168.3 1358.5,1147.5 1358.8,1163.6 1359.2,1146.2 1359.5,1162.0 1359.9,1132.6 1360.2,1150.1 1360.6,1169.6 1360.9,1174.4 1361.3,1160.7 1361.6,1142.6 1362.0,1166.3 1362.3,1170.4 1362.7,1159.0 1363.0,1149.0 1363.4,1155.3 1363.7,1183.0 1364.1,1157.3 1364.4,1168.8 1364.8,1158.8 1365.1,1168.3 1365.5,1166.4 1365.8,1139.1 1366.2,1165.7 1366.5,1154.5 1366.9,1191.1 1367.2,1184.8 1367.6,1184.5 1367.9,1155.7 1368.3,1170.5 1368.6,1167.2 1369.0,1166.9 1369.3,1184.1 1369.7,1167.0 1370.0,1169.0 1370.4,1183.5 1370.7,1165.9 1371.1,1171.3 1371.4,1152.9 1371.8,1175.7 1372.1,1183.7 1372.5,1172.0 1372.8,1174.7 1373.2,1180.8 1373.5,1178.9 1373.9,1183.1 1374.2,1158.1 1374.6,1169.2 1374.9,1186.3 1375.3,1169.3 1375.6,1173.4 1376.0,1171.5 1376.3,1186.1 1376.7,1175.3 1377.0,1193.2 1377.4,1170.8 1377.7,1173.7 1378.1,1190.1 1378.4,1185.4 1378.8,1152.9 1379.1,1176.6 1379.5,1171.1 1379.8,1159.3 1380.2,1172.8 1380.5,1188.1 1380.9,1154.7 1381.2,1175.9 1381.6,1170.9 1381.9,1200.3 1382.3,1199.9 1382.6,1161.2 1383.0,1165.3 1383.3,1175.2 1383.7,1152.3 1384.0,1175.8 1384.4,1168.4 1384.7,1167.6 1385.1,1173.2 1385.4,1196.1 1385.8,1164.0 1386.1,1166.9 1386.5,1150.3 1386.8,1158.9 1387.2,1171.6 1387.5,1164.0 1387.9,1165.6 1388.2,1161.8 1388.6,1158.1 1388.9,1156.3 1389.3,1173.6 1389.6,1167.7 1390.0,1151.7 1390.3,1175.2 1390.7,1175.6 1391.0,1166.0 1391.4,1163.9 1391.7,1183.2 1392.1,1152.4 1392.4,1170.7 1392.8,1177.5 1393.1,1151.8 1393.5,1157.0 1393.8,1170.9 1394.2,1161.1 1394.5,1152.5 1394.9,1159.9 1395.2,1155.5 1395.6,1165.4 1395.9,1158.3 1396.3,1170.4 1396.6,1155.9 1397.0,1163.1 1397.3,1167.9 1397.7,1173.0 1398.0,1153.7 1398.4,1159.6 1398.7,1158.7 1399.1,1178.7 1399.4,1171.2 1399.8,1158.8 1400.1,1165.5 1400.5,1167.1 1400.8,1163.4 1401.2,1181.0 1401.5,1146.8 1401.9,1187.5 1402.2,1182.0 1402.6,1175.4 1402.9,1162.0 1403.3,1147.3 1403.6,1174.0 1404.0,1184.6 1404.3,1173.3 1404.7,1181.2 1405.0,1167.0 1405.4,1177.4 1405.7,1169.2 1406.1,1162.2 1406.4,1152.5 1406.8,1160.1 1407.1,1172.3 1407.5,1173.2 1407.8,1170.7 1408.2,1167.5 1408.5,1173.5 1408.9,1171.0 1409.2,1170.4 1409.6,1161.4 1409.9,1168.4 1410.3,1164.1 1410.6,1156.5 1411.0,1167.9 1411.3,1151.6 1411.7,1162.0 1412.0,1147.9 1412.4,1154.9 1412.7,1178.1 1413.1,1185.7 1413.4,1169.8 1413.8,1159.9 1414.1,1139.8 1414.5,1160.4 1414.8,1169.3 1415.2,1163.0 1415.5,1156.7 1415.9,1170.5 1416.2,1156.3 1416.6,1165.8 1416.9,1159.5 1417.3,1157.8 1417.6,1181.8 1418.0,1178.0 1418.3,1170.2 1418.7,1150.8 1419.0,1170.5 1419.4,1165.1 1419.7,1168.7 1420.1,1173.8 1420.4,1148.7 1420.8,1164.2 1421.1,1163.6 1421.5,1166.1 1421.8,1164.8 1422.2,1157.3 1422.5,1173.0 1422.9,1149.8 1423.2,1183.8 1423.6,1170.6 1423.9,1165.2 1424.3,1145.3 1424.6,1144.7 1425.0,1143.2 1425.3,1160.6 1425.7,1163.3 1426.0,1165.3 1426.4,1159.3 1426.7,1155.7 1427.1,1133.7 1427.4,1150.9 1427.8,1163.4 1428.1,1153.6 1428.5,1169.1 1428.8,1156.3 1429.2,1170.2 1429.5,1170.9 1429.9,1127.5 1430.2,1149.4 1430.6,1170.7 1430.9,1170.4 1431.3,1154.2 1431.6,1158.0 1432.0,1165.3 1432.3,1170.8 1432.7,1169.8 1433.0,1145.3 1433.4,1148.0 1433.7,1144.4 1434.1,1150.3 1434.4,1163.9 1434.8,1159.0 1435.1,1156.1 1435.5,1154.1 1435.8,1177.4 1436.2,1160.4 1436.5,1148.0 1436.9,1158.4 1437.2,1150.5 1437.6,1149.3 1437.9,1147.5 1438.3,1123.8 1438.6,1137.6 1439.0,1150.6 1439.3,1135.5 1439.7,1141.0 1440.0,1134.6 1440.4,1129.0 1440.7,1152.9 1441.1,1149.3 1441.4,1135.1 1441.8,1153.9 1442.1,1171.6 1442.5,1156.0 1442.8,1151.1 1443.2,1136.4 1443.5,1158.1 1443.9,1159.5 1444.2,1133.7 1444.6,1147.3 1444.9,1163.7 1445.3,1151.6 1445.6,1123.9 1446.0,1153.9 1446.3,1152.8 1446.7,1152.4 1447.0,1147.2 1447.4,1157.6 1447.7,1152.9 1448.1,1171.3 1448.4,1147.2 1448.8,1148.9 1449.1,1144.4 1449.5,1131.7 1449.8,1141.8 1450.2,1140.7 1450.5,1117.8 1450.9,1164.8 1451.2,1141.2 1451.6,1146.4 1451.9,1140.2 1452.3,1135.1 1452.6,1140.6 1453.0,1150.3 1453.3,1141.4 1453.7,1126.4 1454.0,1139.0 1454.4,1137.5 1454.7,1121.1 1455.1,1130.6 1455.4,1130.9 1455.8,1122.6 1456.1,1127.1 1456.5,1117.6 1456.8,1113.1 1457.2,1116.1 1457.5,1109.5 1457.9,1147.8 1458.2,1130.7 1458.6,1117.1 1458.9,1101.7 1459.3,1125.5 1459.6,1126.4 1460.0,1096.3 1460.3,1108.8 1460.7,1126.5 1461.0,1116.4 1461.4,1128.7 1461.7,1102.9 1462.1,1104.6 1462.4,1101.7 1462.8,1095.7 1463.1,1094.4 1463.5,1106.5 1463.8,1129.0 1464.2,1103.6 1464.5,1107.8 1464.9,1079.6 1465.2,1106.7 1465.6,1099.3 1465.9,1093.1 1466.3,1081.9 1466.6,1113.6 1467.0,1110.3 1467.3,1094.0 1467.7,1089.1 1468.0,1098.0 1468.4,1086.0 1468.7,1075.4 1469.1,1084.6 1469.4,1112.1 1469.8,1077.1 1470.1,1093.5 1470.5,1090.7 1470.8,1076.6 1471.2,1104.5 1471.5,1116.1 1471.9,1097.3 1472.2,1091.6 1472.6,1101.4 1472.9,1098.7 1473.3,1058.8 1473.6,1094.6 1474.0,1088.4 1474.3,1089.6 1474.7,1094.2 1475.0,1084.8 1475.4,1087.5 1475.7,1073.3 1476.1,1073.1 1476.4,1080.4 1476.8,1077.2 1477.1,1097.6 1477.5,1093.6 1477.8,1078.9 1478.2,1087.1 1478.5,1074.1 1478.9,1061.0 1479.2,1077.2 1479.6,1073.7 1479.9,1081.8 1480.3,1074.6 1480.6,1072.8 1481.0,1074.2 1481.3,1084.5 1481.7,1074.4 1482.0,1072.0 1482.4,1083.7 1482.7,1055.0 1483.1,1041.7 1483.4,1063.5 1483.8,1075.3 1484.1,1050.6 1484.5,1054.1 1484.8,1078.5 1485.2,1058.9 1485.5,1072.3 1485.9,1063.4 1486.2,1063.0 1486.6,1067.3 1486.9,1043.0 1487.3,1066.8 1487.6,1050.3 1488.0,1054.7 1488.3,1044.3 1488.7,1056.3 1489.0,1069.1 1489.4,1072.2 1489.7,1068.8 1490.1,1054.3 1490.4,1051.3 1490.8,1048.9 1491.1,1036.5 1491.5,1081.0 1491.8,1062.9 1492.2,1063.8 1492.5,1049.6 1492.9,1049.0 1493.2,1049.1 1493.6,1048.6 1493.9,1027.7 1494.3,1044.8 1494.6,1046.4 1495.0,1024.7 1495.3,1050.5 1495.7,1031.4 1496.0,1049.6 1496.4,1032.1 1496.7,1026.8 1497.1,1026.3 1497.4,1027.3 1497.8,1032.7 1498.1,1015.3 1498.5,1035.1 1498.8,1017.1 1499.2,1013.0 1499.5,1028.0 1499.9,1001.7 1500.2,1025.0 1500.6,1016.0 1500.9,1016.9 1501.3,1009.8 1501.6,1006.9 1502.0,1016.3 1502.3,1017.6 1502.7,1000.4 1503.0,1008.6 1503.4,1014.1 1503.7,1000.1 1504.1,1011.6 1504.4,998.3 1504.8,1022.7 1505.1,1002.5 1505.5,997.2 1505.8,1000.2 1506.2,983.3 1506.5,983.2 1506.9,981.6 1507.2,1003.8 1507.6,1001.8 1507.9,991.5 1508.3,967.1 1508.6,967.2 1509.0,983.2 1509.3,1007.7 1509.7,1000.1 1510.0,994.5 1510.4,966.3 1510.7,979.1 1511.1,964.6 1511.4,978.3 1511.8,996.7 1512.1,991.6 1512.5,960.4 1512.8,972.6 1513.2,975.4 1513.5,960.3 1513.9,983.6 1514.2,957.6 1514.6,969.5 1514.9,973.2 1515.3,963.6 1515.6,942.7 1516.0,959.9 1516.3,971.9 1516.7,950.4 1517.0,937.1 1517.4,956.7 1517.7,955.9 1518.1,944.9 1518.4,956.5 1518.8,960.0 1519.1,969.1 1519.5,942.7 1519.8,947.7 1520.2,947.2 1520.5,947.0 1520.9,958.2 1521.2,943.3 1521.6,936.0 1521.9,966.5 1522.3,917.4 1522.6,929.1 1523.0,948.4 1523.3,925.6 1523.7,959.0 1524.0,937.8 1524.4,953.6 1524.7,945.1 1525.1,925.4 1525.4,939.6 1525.8,965.7 1526.1,932.1 1526.5,931.4 1526.8,914.2 1527.2,945.4 1527.5,932.6 1527.9,923.3 1528.2,931.9 1528.6,931.4 1528.9,926.8 1529.3,944.8 1529.6,897.5 1530.0,923.5 1530.3,925.9 1530.7,918.0 1531.0,923.7 1531.4,933.3 1531.7,915.5 1532.1,924.9 1532.4,933.4 1532.8,902.3 1533.1,913.8 1533.5,920.7 1533.8,940.8 1534.2,928.3 1534.5,894.8 1534.9,921.7 1535.2,885.4 1535.6,909.1 1535.9,924.5 1536.3,898.2 1536.6,907.1 1537.0,898.4 1537.3,887.2 1537.7,898.4 1538.0,910.5 1538.4,883.8 1538.7,902.6 1539.1,894.4 1539.4,872.8 1539.8,888.0 1540.1,898.8 1540.5,891.1 1540.8,912.6 1541.2,892.2 1541.5,882.0 1541.9,872.6 1542.2,889.9 1542.6,890.6 1542.9,887.5 1543.3,871.5 1543.6,868.2 1544.0,868.7 1544.3,888.7 1544.7,877.8 1545.0,870.3 1545.4,868.2 1545.7,850.0 1546.1,869.6 1546.4,842.8 1546.8,871.0 1547.1,878.0 1547.5,882.6 1547.8,868.0 1548.2,864.8 1548.5,857.5 1548.9,867.7 1549.2,868.4 1549.6,873.6 1549.9,870.9 1550.3,871.7 1550.6,865.5 1551.0,864.5 1551.3,872.6 1551.7,857.6 1552.0,855.9 1552.4,873.6 1552.7,850.7 1553.1,868.5 1553.4,860.4 1553.8,840.2 1554.1,876.5 1554.5,848.4 1554.8,875.1 1555.2,857.7 1555.5,863.9 1555.9,869.8 1556.2,864.5 1556.6,854.7 1556.9,851.6 1557.3,868.4 1557.6,864.0 1558.0,860.9 1558.3,862.5 1558.7,867.6 1559.0,867.2 1559.4,858.5 1559.7,873.9 1560.1,871.0 1560.4,881.6 1560.8,872.4 1561.1,860.3 1561.5,866.0 1561.8,883.5 1562.2,866.0 1562.5,866.9 1562.9,867.2 1563.2,855.8 1563.6,885.0 1563.9,879.1 1564.3,866.8 1564.6,883.1 1565.0,888.1 1565.3,888.9 1565.7,888.5 1566.0,894.2 1566.4,883.1 1566.7,889.8 1567.1,881.5 1567.4,870.7 1567.8,889.3 1568.1,895.4 1568.5,882.5 1568.8,906.2 1569.2,903.8 1569.5,903.4 1569.9,900.9 1570.2,891.2 1570.6,896.4 1570.9,909.4 1571.3,900.9 1571.6,893.0 1572.0,910.9 1572.3,906.4 1572.7,899.7 1573.0,909.1 1573.4,909.0 1573.7,905.9 1574.1,906.8 1574.4,906.2 1574.8,922.8 1575.1,923.3 1575.5,910.7 1575.8,926.2 1576.2,915.0 1576.5,917.5 1576.9,926.9 1577.2,939.3 1577.6,919.7 1577.9,927.8 1578.3,947.2 1578.6,939.6 1579.0,945.3 1579.3,944.2 1579.7,953.8 1580.0,956.5 1580.4,963.8 1580.7,955.3 1581.1,969.3 1581.4,951.2 1581.8,989.8 1582.1,992.8 1582.5,986.6 1582.8,978.4 1583.2,969.8 1583.5,965.3 1583.9,998.1 1584.2,988.5 1584.6,981.3 1584.9,997.5 1585.3,992.2 1585.6,997.8 1586.0,996.0 1586.3,985.5 1586.7,986.9 1587.0,995.6 1587.4,988.9 1587.7,999.6 1588.1,989.0 1588.4,1004.9 1588.8,983.6 1589.1,996.2 1589.5,998.3 1589.8,999.4 1590.2,975.2 1590.5,1005.0 1590.9,1013.4 1591.2,993.8 1591.6,1002.7 1591.9,998.9 1592.3,1015.9 1592.6,1011.3 1593.0,1020.3 1593.3,1008.2 1593.7,1005.0 1594.0,1015.7 1594.4,1028.6 1594.7,1018.8 1595.1,1034.4 1595.4,1028.4 1595.8,1016.3 1596.1,1019.8 1596.5,1023.9 1596.8,1027.7 1597.2,1030.1 1597.5,1034.0 1597.9,1020.6 1598.2,1036.7 1598.6,1054.4 1598.9,1041.6 1599.3,1009.7 1599.6,1055.7 1600.0,1045.6 1600.3,1055.3 1600.7,1050.1 1601.0,1037.9 1601.4,1047.3 1601.7,1041.6 1602.1,1049.7 1602.4,1047.5 1602.8,1068.3 1603.1,1038.7 1603.5,1057.6 1603.8,1068.7 1604.2,1061.0 1604.5,1056.1 1604.9,1058.4 1605.2,1062.4 1605.6,1082.4 1605.9,1065.8 1606.3,1081.8 1606.6,1066.5 1607.0,1061.1 1607.3,1070.7 1607.7,1090.3 1608.0,1069.3 1608.4,1072.1 1608.7,1092.9 1609.1,1089.3 1609.4,1085.8 1609.8,1104.8 1610.1,1106.7 1610.5,1099.1 1610.8,1118.3 1611.2,1119.8 1611.5,1108.8 1611.9,1111.8 1612.2,1113.0 1612.6,1119.3 1612.9,1125.3 1613.3,1129.2 1613.6,1131.9 1614.0,1133.8 1614.3,1117.4 1614.7,1136.4 1615.0,1152.0 1615.4,1144.8 1615.7,1136.0 1616.1,1153.0 1616.4,1139.6 1616.8,1147.6 1617.1,1147.2 1617.5,1162.5 1617.8,1172.4 1618.2,1158.7 1618.5,1172.0 1618.9,1152.0 1619.2,1133.8 1619.6,1153.0 1619.9,1153.2 1620.3,1160.8 1620.6,1159.4 1621.0,1158.5 1621.3,1172.1 1621.7,1168.0 1622.0,1157.8 1622.4,1172.3 1622.7,1174.5 1623.1,1175.7 1623.4,1182.4 1623.8,1174.5 1624.1,1176.4 1624.5,1190.6 1624.8,1177.0 1625.2,1179.8 1625.5,1195.3 1625.9,1189.1 1626.2,1185.2 1626.6,1193.2 1626.9,1191.4 1627.3,1171.3 1627.6,1181.2 1628.0,1188.3 1628.3,1192.9 1628.7,1187.6 1629.0,1175.7 1629.4,1195.3 1629.7,1194.5 1630.1,1190.2 1630.4,1196.1 1630.8,1199.2 1631.1,1199.3 1631.5,1197.7 1631.8,1205.5 1632.2,1209.8 1632.5,1206.4 1632.9,1207.8 1633.2,1194.5 1633.6,1211.2 1633.9,1223.4 1634.3,1222.2 1634.6,1233.0 1635.0,1218.9 1635.3,1221.8 1635.7,1236.6 1636.0,1243.6 1636.4,1237.5 1636.7,1245.6 1637.1,1232.2 1637.4,1254.7 1637.8,1239.9 1638.1,1251.0 1638.5,1257.1 1638.8,1254.5 1639.2,1244.2 1639.5,1247.8 1639.9,1257.2 1640.2,1264.6 1640.6,1255.4 1640.9,1254.2 1641.3,1250.1 1641.6,1252.2 1642.0,1257.4 1642.3,1272.0 1642.7,1268.1 1643.0,1269.4 1643.4,1258.6 1643.7,1267.4 1644.1,1246.3 1644.4,1274.0 1644.8,1270.6 1645.1,1256.2 1645.5,1271.0 1645.8,1253.2 1646.2,1260.7 1646.5,1267.9 1646.9,1265.2 1647.2,1276.5 1647.6,1277.1 1647.9,1275.6 1648.3,1254.7 1648.6,1268.6 1649.0,1287.9 1649.3,1272.6 1649.7,1262.7 1650.0,1259.4 1650.4,1264.8 1650.7,1282.9 1651.1,1275.1 1651.4,1290.1 1651.8,1273.9 1652.1,1279.8 1652.5,1263.7 1652.8,1293.5 1653.2,1271.7 1653.5,1282.7 1653.9,1288.2 1654.2,1280.6 1654.6,1283.9 1654.9,1265.7 1655.3,1277.7 1655.6,1275.8 1656.0,1278.1 1656.3,1279.1 1656.7,1274.5 1657.0,1269.9 1657.4,1279.8 1657.7,1277.6 1658.1,1266.8 1658.4,1273.4 1658.8,1258.0 1659.1,1278.7 1659.5,1266.2 1659.8,1277.9 1660.2,1274.7 1660.5,1264.5 1660.9,1262.6 1661.2,1286.0 1661.6,1281.4 1661.9,1267.9 1662.3,1278.0 1662.6,1282.0 1663.0,1284.0 1663.3,1271.6 1663.7,1278.3 1664.0,1280.5 1664.4,1276.2 1664.7,1286.5 1665.1,1290.9 1665.4,1302.3 1665.8,1310.2 1666.1,1284.8 1666.5,1296.0 1666.8,1297.2 1667.2,1297.1 1667.5,1302.8 1667.9,1313.8 1668.2,1297.5 1668.6,1306.8 1668.9,1297.1 1669.3,1318.4 1669.6,1320.3 1670.0,1316.6 1670.3,1310.6 1670.7,1318.1 1671.0,1315.1 1671.4,1320.2 1671.7,1332.8 1672.1,1332.5 1672.4,1327.6 1672.8,1314.2 1673.1,1323.7 1673.5,1337.6 1673.8,1316.1 1674.2,1325.6 1674.5,1344.5 1674.9,1311.5 1675.2,1319.4 1675.6,1333.5 1675.9,1331.6 1676.3,1320.7 1676.6,1335.3 1677.0,1329.4 1677.3,1325.0 1677.7,1325.9 1678.0,1331.5 1678.4,1327.8 1678.7,1317.4 1679.1,1316.5 1679.4,1326.5 1679.8,1331.9 1680.1,1339.0 1680.5,1316.0 1680.8,1318.3 1681.2,1330.6 1681.5,1338.8 1681.9,1325.6 1682.2,1329.6 1682.6,1330.8 1682.9,1323.9 1683.3,1328.8 1683.6,1323.4 1684.0,1331.7 1684.3,1309.2 1684.7,1336.3 1685.0,1333.6 1685.4,1330.2 1685.7,1324.3 1686.1,1331.4 1686.4,1340.2 1686.8,1326.6 1687.1,1316.6 1687.5,1329.4 1687.8,1329.2 1688.2,1331.1 1688.5,1334.6 1688.9,1326.4 1689.2,1323.8 1689.6,1336.3 1689.9,1338.0 1690.3,1329.0 1690.6,1323.7 1691.0,1339.0 1691.3,1337.0 1691.7,1349.2 1692.0,1329.6 1692.4,1339.9 1692.7,1342.2 1693.1,1341.5 1693.4,1338.3 1693.8,1333.5 1694.1,1344.4 1694.5,1337.4 1694.8,1340.3 1695.2,1329.4 1695.5,1339.0 1695.9,1341.1 1696.2,1346.0 1696.6,1338.5 1696.9,1340.3 1697.3,1351.8 1697.6,1342.7 1698.0,1350.7 1698.3,1355.7 1698.7,1344.7 1699.0,1349.8 1699.4,1342.2 1699.7,1344.1 1700.1,1352.8 1700.4,1347.0 1700.8,1357.3 1701.1,1356.6 1701.5,1349.9 1701.8,1330.6 1702.2,1345.1 1702.5,1333.7 1702.9,1337.6 1703.2,1352.7 1703.6,1344.2 1703.9,1358.3 1704.3,1353.7 1704.6,1351.5 1705.0,1351.6 1705.3,1345.1 1705.7,1355.3 1706.0,1345.8 1706.4,1368.4 1706.7,1358.5 1707.1,1368.0 1707.4,1358.3 1707.8,1365.2 1708.1,1350.8 1708.5,1347.4 1708.8,1367.0 1709.2,1363.7 1709.5,1376.7 1709.9,1377.6 1710.2,1363.1 1710.6,1377.5 1710.9,1365.0 1711.3,1351.9 1711.6,1366.3 1712.0,1357.4 1712.3,1375.3 1712.7,1367.6 1713.0,1362.3 1713.4,1359.1 1713.7,1363.1 1714.1,1365.1 1714.4,1362.1 1714.8,1362.6 1715.1,1371.0 1715.5,1365.8 1715.8,1361.1 1716.2,1378.6 1716.5,1357.8 1716.9,1384.5 1717.2,1383.0 1717.6,1378.5 1717.9,1359.7 1718.3,1368.7 1718.6,1363.2 1719.0,1371.1 1719.3,1378.2 1719.7,1386.4 1720.0,1371.2 1720.4,1375.2 1720.7,1378.1 1721.1,1368.1 1721.4,1365.6 1721.8,1373.9 1722.1,1378.9 1722.5,1374.6 1722.8,1382.6 1723.2,1375.2 1723.5,1383.2 1723.9,1365.9 1724.2,1367.6 1724.6,1371.0 1724.9,1374.5 1725.3,1379.6 1725.6,1380.7 1726.0,1383.5 1726.3,1377.7 1726.7,1372.7 1727.0,1372.4 1727.4,1388.1 1727.7,1384.8 1728.1,1375.8 1728.4,1376.7 1728.8,1367.4 1729.1,1362.8 1729.5,1371.8 1729.8,1384.4 1730.2,1390.5 1730.5,1374.3 1730.9,1383.7 1731.2,1370.7 1731.6,1379.6 1731.9,1370.7 1732.3,1381.0 1732.6,1383.7 1733.0,1377.7 1733.3,1384.1 1733.7,1380.8 1734.0,1376.5 1734.4,1377.9 1734.7,1370.9 1735.1,1356.4 1735.4,1393.8 1735.8,1367.6 1736.1,1371.5 1736.5,1378.9 1736.8,1374.9 1737.2,1375.5 1737.5,1380.7 1737.9,1385.3 1738.2,1368.2 1738.6,1383.7 1738.9,1369.3 1739.3,1386.4 1739.6,1381.9 1740.0,1389.3 1740.3,1362.4 1740.7,1379.9 1741.0,1376.6 1741.4,1386.5 1741.7,1373.7 1742.1,1376.6 1742.4,1376.1 1742.8,1392.0 1743.1,1377.7 1743.5,1365.2 1743.8,1373.7 1744.2,1374.2 1744.5,1384.8 1744.9,1378.6 1745.2,1384.0 1745.6,1380.0 1745.9,1369.5 1746.3,1372.2 1746.6,1368.5 1747.0,1372.0 1747.3,1384.0 1747.7,1374.5 1748.0,1380.3 1748.4,1391.6 1748.7,1372.9 1749.1,1380.1 1749.4,1387.0 1749.8,1385.1 1750.1,1376.5 1750.5,1376.2 1750.8,1383.8 1751.2,1377.3 1751.5,1382.2 1751.9,1380.6 1752.2,1385.2 1752.6,1374.1 1752.9,1373.4 1753.3,1379.0 1753.6,1397.8 1754.0,1399.9 1754.3,1376.7 1754.7,1379.1 1755.0,1394.0 1755.4,1379.8 1755.7,1376.2 1756.1,1366.4 1756.4,1389.7 1756.8,1377.8 1757.1,1377.9 1757.5,1387.5 1757.8,1384.1 1758.2,1391.3 1758.5,1371.5 1758.9,1385.2 1759.2,1377.2 1759.6,1381.3 1759.9,1392.0 1760.3,1361.2 1760.6,1384.0 1761.0,1374.9 1761.3,1371.5 1761.7,1379.7 1762.0,1376.8 1762.4,1394.6 1762.7,1372.1 1763.1,1373.5 1763.4,1374.1 1763.8,1377.3 1764.1,1378.9 1764.5,1373.4 1764.8,1375.9 1765.2,1380.4 1765.5,1367.8 1765.9,1381.6 1766.2,1371.7 1766.6,1367.2 1766.9,1378.6 1767.3,1380.7 1767.6,1377.6 1768.0,1373.5 1768.3,1373.8 1768.7,1386.1 1769.0,1366.8 1769.4,1378.3 1769.7,1387.9 1770.1,1376.9 1770.4,1373.8 1770.8,1377.6 1771.1,1376.5 1771.5,1389.5 1771.8,1379.3 1772.2,1369.4 1772.5,1384.7 1772.9,1389.8 1773.2,1392.2 1773.6,1368.7 1773.9,1388.5 1774.3,1384.5 1774.6,1375.7 1775.0,1382.9 1775.3,1387.9 1775.7,1360.0 1776.0,1376.7 1776.4,1376.3 1776.7,1382.8 1777.1,1386.4 1777.4,1366.0 1777.8,1396.0 1778.1,1374.1 1778.5,1379.3 1778.8,1389.6 1779.2,1382.6 1779.5,1397.0 1779.9,1388.4 1780.2,1378.1 1780.6,1382.3 1780.9,1383.0 1781.3,1394.7 1781.6,1387.7 1782.0,1383.8 1782.3,1392.9 1782.7,1400.4 1783.0,1401.7 1783.4,1391.6 1783.7,1372.1 1784.1,1384.9 1784.4,1390.9 1784.8,1399.1 1785.1,1401.4 1785.5,1382.9 1785.8,1389.4 1786.2,1403.0 1786.5,1380.8 1786.9,1394.4 1787.2,1403.3 1787.6,1392.0 1787.9,1394.0 1788.3,1394.2 1788.6,1402.4 1789.0,1384.2 1789.3,1394.0 1789.7,1392.5 1790.0,1387.3 1790.4,1394.1 1790.7,1379.7 1791.1,1391.5 1791.4,1393.8 1791.8,1390.0 1792.1,1398.3 1792.5,1393.1 1792.8,1392.0 1793.2,1391.3 1793.5,1390.9 1793.9,1392.6 1794.2,1390.8 1794.6,1386.0 1794.9,1399.7 1795.3,1394.5 1795.6,1387.0 1796.0,1392.5 1796.3,1410.5 1796.7,1388.5 1797.0,1386.3 1797.4,1390.0 1797.7,1385.6 1798.1,1378.5 1798.4,1394.0 1798.8,1385.5 1799.1,1404.1 1799.5,1393.2 1799.8,1389.9 1800.2,1376.0 1800.5,1369.7 1800.9,1381.7 1801.2,1379.6 1801.6,1384.6 1801.9,1381.8 1802.3,1380.2 1802.6,1396.8 1803.0,1407.0 1803.3,1400.1 1803.7,1381.3 1804.0,1388.5 1804.4,1391.4 1804.7,1399.9 1805.1,1390.3 1805.4,1381.4 1805.8,1382.5 1806.1,1394.9 1806.5,1397.8 1806.8,1402.4 1807.2,1399.6 1807.5,1391.5 1807.9,1394.5 1808.2,1376.3 1808.6,1392.8 1808.9,1389.9 1809.3,1401.6 1809.6,1387.9 1810.0,1376.4 1810.3,1371.1 1810.7,1398.9 1811.0,1396.5 1811.4,1381.1 1811.7,1396.9 1812.1,1393.5 1812.4,1386.3 1812.8,1386.5 1813.1,1383.8 1813.5,1395.1 1813.8,1388.9 1814.2,1395.6 1814.5,1397.2 1814.9,1382.0 1815.2,1385.1 1815.6,1393.8 1815.9,1392.8 1816.3,1393.2 1816.6,1377.3 1817.0,1392.4 1817.3,1380.4 1817.7,1390.4 1818.0,1381.3 1818.4,1394.7 1818.7,1386.9 1819.1,1397.3 1819.4,1377.6 1819.8,1381.6 1820.1,1383.4 1820.5,1388.5 1820.8,1396.0 1821.2,1395.6 1821.5,1379.8 1821.9,1384.2 1822.2,1382.0 1822.6,1383.7 1822.9,1400.0 1823.3,1390.9 1823.6,1391.6 1824.0,1372.2 1824.3,1383.7 1824.7,1393.5 1825.0,1389.2 1825.4,1382.9 1825.7,1386.0 1826.1,1391.7 1826.4,1380.2 1826.8,1387.7 1827.1,1389.0 1827.5,1387.3 1827.8,1395.6 1828.2,1384.8 1828.5,1391.3 1828.9,1405.3 1829.2,1392.0 1829.6,1383.4 1829.9,1393.2 1830.3,1391.7 1830.6,1394.6 1831.0,1392.6 1831.3,1405.5 1831.7,1402.2 1832.0,1383.6 1832.4,1405.9 1832.7,1381.4 1833.1,1386.3 1833.4,1391.7 1833.8,1403.5 1834.1,1404.9 1834.5,1385.6 1834.8,1401.0 1835.2,1396.3 1835.5,1402.4 1835.9,1402.9 1836.2,1396.6 1836.6,1402.3 1836.9,1401.5 1837.3,1407.4 1837.6,1394.6 1838.0,1394.8 1838.3,1399.8 1838.7,1406.3 1839.0,1403.8 1839.4,1417.4 1839.7,1399.1 1840.1,1396.8 1840.4,1409.0 1840.8,1401.3 1841.1,1410.6 1841.5,1396.2 1841.8,1383.0 1842.2,1400.7 1842.5,1390.5 1842.9,1402.6 1843.2,1393.2 1843.6,1402.8 1843.9,1402.2 1844.3,1406.4 1844.6,1406.3 1845.0,1385.5 1845.3,1406.2 1845.7,1406.3 1846.0,1385.2 1846.4,1403.2 1846.7,1404.4 1847.1,1394.8 1847.4,1399.7 1847.8,1392.3 1848.1,1391.5 1848.5,1400.7 1848.8,1391.8 1849.2,1415.5 1849.5,1405.8 1849.9,1417.7 1850.2,1408.1 1850.6,1400.9 1850.9,1409.6 1851.3,1389.3 1851.6,1415.6 1852.0,1399.6 1852.3,1416.1 1852.7,1407.6 1853.0,1404.2 1853.4,1401.5 1853.7,1404.1 1854.1,1408.8 1854.4,1408.9 1854.8,1418.3 1855.1,1404.3 1855.5,1422.0 1855.8,1405.4 1856.2,1404.3 1856.5,1405.1 1856.9,1400.0 1857.2,1400.8 1857.6,1386.7 1857.9,1393.3 1858.3,1410.0 1858.6,1410.3 1859.0,1393.4 1859.3,1403.7 1859.7,1411.0 1860.0,1419.6 1860.4,1404.6 1860.7,1406.4 1861.1,1412.6 1861.4,1404.9 1861.8,1411.6 1862.1,1413.6 1862.5,1406.1 1862.8,1398.6 1863.2,1403.3 1863.5,1415.6 1863.9,1402.6 1864.2,1396.4 1864.6,1399.6 1864.9,1393.9 1865.3,1414.6 1865.6,1421.0 1866.0,1406.8 1866.3,1396.5 1866.7,1411.3 1867.0,1408.4 1867.4,1397.8 1867.7,1399.1 1868.1,1408.8 1868.4,1417.8 1868.8,1421.7 1869.1,1410.1 1869.5,1406.1 1869.8,1422.0 1870.2,1401.6 1870.5,1403.2 1870.9,1407.2 1871.2,1411.2 1871.6,1412.7 1871.9,1407.9 1872.3,1402.2 1872.6,1405.3 1873.0,1399.3 1873.3,1414.6 1873.7,1409.6 1874.0,1393.3 1874.4,1412.3 1874.7,1407.9 1875.1,1402.4 1875.4,1410.8 1875.8,1415.0 1876.1,1403.6 1876.5,1401.7 1876.8,1400.8 1877.2,1396.0 1877.5,1417.4 1877.9,1398.9 1878.2,1392.9 1878.6,1403.0 1878.9,1404.1 1879.3,1409.3 1879.6,1403.9 1880.0,1406.7 1880.3,1412.5 1880.7,1398.0 1881.0,1397.9 1881.4,1393.4 1881.7,1405.0 1882.1,1409.5 1882.4,1407.3 1882.8,1400.4 1883.1,1416.5 1883.5,1399.6 1883.8,1404.7 1884.2,1403.4 1884.5,1398.3 1884.9,1406.3 1885.2,1400.6 1885.6,1417.7 1885.9,1406.6 1886.3,1414.3 1886.6,1415.9 1887.0,1398.2 1887.3,1399.9 1887.7,1416.8 1888.0,1409.7 1888.4,1414.9 1888.7,1405.9 1889.1,1398.7 1889.4,1413.4 1889.8,1412.4 1890.1,1409.1 1890.5,1402.5 1890.8,1405.6 1891.2,1409.8 1891.5,1405.0 1891.9,1402.9 1892.2,1404.1 1892.6,1408.1 1892.9,1407.4 1893.3,1389.6 1893.6,1395.9 1894.0,1408.4 1894.3,1413.1 1894.7,1408.6 1895.0,1408.9 1895.4,1410.3 1895.7,1414.9 1896.1,1389.3 1896.4,1401.9 1896.8,1404.2 1897.1,1403.2 1897.5,1412.6 1897.8,1403.7 1898.2,1414.9 1898.5,1388.2 1898.9,1393.0 1899.2,1407.8 1899.6,1406.5 1899.9,1403.6 1900.3,1397.0 1900.6,1396.9 1901.0,1407.2 1901.3,1405.0 1901.7,1398.7 1902.0,1404.9 1902.4,1409.3 1902.7,1405.3 1903.1,1402.7 1903.4,1413.6 1903.8,1401.2 1904.1,1405.2 1904.5,1410.7 1904.8,1417.8 1905.2,1412.9 1905.5,1404.2 1905.9,1400.6 1906.2,1403.0 1906.6,1413.1 1906.9,1425.8 1907.3,1393.0 1907.6,1387.8 1908.0,1414.7 1908.3,1403.1 1908.7,1403.6 1909.0,1397.4 1909.4,1409.5 1909.7,1406.8 1910.1,1392.5 1910.4,1405.7 1910.8,1405.5 1911.1,1408.5 1911.5,1399.7 1911.8,1413.7 1912.2,1411.8 1912.5,1406.1 1912.9,1408.2 1913.2,1413.5 1913.6,1410.6 1913.9,1414.5 1914.3,1412.8 1914.6,1400.9 1915.0,1403.5 1915.3,1424.7 1915.7,1403.2 1916.0,1408.7 1916.4,1408.4 1916.7,1403.6 1917.1,1406.5 1917.4,1405.8 1917.8,1396.4 1918.1,1403.5 1918.5,1407.1 1918.8,1414.8 1919.2,1406.5 1919.5,1397.0 1919.9,1410.6 1920.2,1402.3 1920.6,1418.8 1920.9,1407.8 1921.3,1408.5 1921.6,1414.3 1922.0,1412.4 1922.3,1405.3 1922.7,1416.3 1923.0,1397.2 1923.4,1412.2 1923.7,1422.3 1924.1,1413.2 1924.4,1401.6 1924.8,1423.5 1925.1,1414.5 1925.5,1418.6 1925.8,1429.3 1926.2,1425.2 1926.5,1406.6 1926.9,1420.3 1927.2,1428.7 1927.6,1416.4 1927.9,1420.6 1928.3,1430.9 1928.6,1427.1 1929.0,1423.5 1929.3,1433.9 1929.7,1421.7 1930.0,1433.5 1930.4,1428.1 1930.7,1423.1 1931.1,1424.0 1931.4,1425.6 1931.8,1414.3 1932.1,1412.8 1932.5,1434.6 1932.8,1406.4 1933.2,1423.7 1933.5,1425.7 1933.9,1414.4 1934.2,1412.2 1934.6,1428.6 1934.9,1413.0 1935.3,1423.7 1935.6,1427.0 1936.0,1408.3 1936.3,1415.6 1936.7,1428.8 1937.0,1405.3 1937.4,1427.9 1937.7,1413.3 1938.1,1413.3 1938.4,1411.3 1938.8,1415.1 1939.1,1410.1 1939.5,1421.2 1939.8,1412.4 1940.2,1409.2 1940.5,1414.4 1940.9,1404.4 1941.2,1413.8 1941.6,1415.0 1941.9,1423.4 1942.3,1405.2 1942.6,1412.1 1943.0,1406.3 1943.3,1409.4 1943.7,1422.3 1944.0,1421.2 1944.4,1402.4 1944.7,1416.7 1945.1,1413.6 1945.4,1413.2 1945.8,1417.0 1946.1,1421.1 1946.5,1419.2 1946.8,1423.0 1947.2,1414.4 1947.5,1411.3 1947.9,1424.4 1948.2,1412.4 1948.6,1421.6 1948.9,1408.4 1949.3,1424.4 1949.6,1415.1 1950.0,1412.5 1950.3,1431.8 1950.7,1414.5 1951.0,1413.4 1951.4,1422.0 1951.7,1415.2 1952.1,1422.6 1952.4,1429.2 1952.8,1422.6 1953.1,1413.4 1953.5,1430.1 1953.8,1420.9 1954.2,1428.6 1954.5,1415.1 1954.9,1427.6 1955.2,1422.0 1955.6,1427.5 1955.9,1421.4 1956.3,1420.2 1956.6,1418.0 1957.0,1416.7 1957.3,1415.7 1957.7,1441.0 1958.0,1429.6 1958.4,1424.6 1958.7,1430.6 1959.1,1421.7 1959.4,1433.5 1959.8,1423.4 1960.1,1425.9 1960.5,1436.0 1960.8,1406.6 1961.2,1426.8 1961.5,1437.5 1961.9,1439.4 1962.2,1430.1 1962.6,1426.2 1962.9,1425.9 1963.3,1421.6 1963.6,1414.0 1964.0,1411.1 1964.3,1426.5 1964.7,1435.7 1965.0,1420.2 1965.4,1426.6 1965.7,1436.4 1966.1,1434.9 1966.4,1420.5 1966.8,1406.4 1967.1,1405.8 1967.5,1408.6 1967.8,1430.9 1968.2,1425.4 1968.5,1411.6 1968.9,1417.4 1969.2,1425.2 1969.6,1426.6 1969.9,1417.9 1970.3,1427.2 1970.6,1427.1 1971.0,1423.4 1971.3,1421.5 1971.7,1433.2 1972.0,1429.1 1972.4,1421.1 1972.7,1424.6 1973.1,1429.8 1973.4,1428.9 1973.8,1425.2 1974.1,1421.3 1974.5,1424.4 1974.8,1423.8 1975.2,1429.9 1975.5,1422.5 1975.9,1416.8 1976.2,1428.2 1976.6,1419.5 1976.9,1427.7 1977.3,1416.2 1977.6,1426.1 1978.0,1418.1 1978.3,1421.7 1978.7,1428.6 1979.0,1433.5 1979.4,1428.2 1979.7,1425.5 1980.1,1420.4 1980.4,1432.4 1980.8,1440.3 1981.1,1433.4 1981.5,1423.4 1981.8,1417.3 1982.2,1419.4 1982.5,1422.6 1982.9,1440.5 1983.2,1427.7 1983.6,1410.3 1983.9,1424.8 1984.3,1422.1 1984.6,1429.0 1985.0,1415.3 1985.3,1408.7 1985.7,1430.7 1986.0,1433.7 1986.4,1435.0 1986.7,1428.7 1987.1,1419.8 1987.4,1428.5 1987.8,1433.1 1988.1,1422.0 1988.5,1415.4 1988.8,1432.3 1989.2,1430.3 1989.5,1424.7 1989.9,1438.7 1990.2,1442.0 1990.6,1423.1 1990.9,1415.3 1991.3,1444.0 1991.6,1424.5 1992.0,1423.1 1992.3,1424.5 1992.7,1424.8 1993.0,1420.7 1993.4,1422.6 1993.7,1421.3 1994.1,1418.8 1994.4,1429.5 1994.8,1426.9 1995.1,1420.6 1995.5,1427.9 1995.8,1426.8 1996.2,1436.8 1996.5,1433.3 1996.9,1424.6 1997.2,1442.8 1997.6,1418.2 1997.9,1433.1 1998.3,1427.9 1998.6,1439.5 1999.0,1424.4 1999.3,1422.0 1999.7,1430.4 2000.0,1424.6 2000.4,1423.8 2000.7,1429.8 2001.1,1422.8 2001.4,1411.3 2001.8,1432.2 2002.1,1421.8 2002.5,1434.7 2002.8,1430.3 2003.2,1433.3 2003.5,1434.0 2003.9,1442.2 2004.2,1426.9 2004.6,1427.3 2004.9,1429.8" fill="none" stroke="#f00" stroke-width="5.5"/>
</g>
<g stroke="#000" stroke-width="5.5" fill="none" stroke-linecap="butt">
<path d="M284,70.5 V1458.5 M281.5,1456 H2008.5"/>
<path d="M257,73 H286.5 M257,421.5 H284 M257,771 H284 M257,1120.4 H284"/>
<path d="M271,247 H284 M271,596 H284 M271,945.5 H284 M271,1295 H284"/>
<path d="M451,1456 V1483 M905,1456 V1483 M1362,1456 V1483 M1819,1456 V1483"/>
<path d="M678,1456 V1470 M1135,1456 V1470 M1588,1456 V1470"/>
</g>
<text transform="translate(194.701,98.791) scale(0.9539,1.0410)" font-size="62" style="font-family:'Liberation Sans', Arial, sans-serif;font-weight:bold;fill:#000">8</text>
<text transform="translate(195.133,447.595) scale(0.9333,1.0227)" font-size="62" style="font-family:'Liberation Sans', Arial, sans-serif;font-weight:bold;fill:#000">6</text>
<text transform="translate(193.018,797.221) scale(0.9819,1.0410)" font-size="62" style="font-family:'Liberation Sans', Arial, sans-serif;font-weight:bold;fill:#000">4</text>
<text transform="translate(192.708,1147.222) scale(1.0405,1.0227)" font-size="62" style="font-family:'Liberation Sans', Arial, sans-serif;font-weight:bold;fill:#000">2</text>
<text transform="translate(400.841,1545.790) scale(0.9808,1.0269)" font-size="62" style="font-family:'Liberation Sans', Arial, sans-serif;font-weight:bold;fill:#000">950</text>
<text transform="translate(840.822,1545.790) scale(0.9372,1.0269)" font-size="62" style="font-family:'Liberation Sans', Arial, sans-serif;font-weight:bold;fill:#000">1000</text>
<text transform="translate(1298.015,1545.790) scale(0.9496,1.0269)" font-size="62" style="font-family:'Liberation Sans', Arial, sans-serif;font-weight:bold;fill:#000">1050</text>
<text transform="translate(1751.418,1545.790) scale(0.9945,1.0269)" font-size="62" style="font-family:'Liberation Sans', Arial, sans-serif;font-weight:bold;fill:#000">1100</text>
<text transform="translate(1040.121,1625.687) scale(1.2686,0.9779)" font-size="72" style="font-family:'Liberation Serif', 'DejaVu Serif', serif;font-weight:normal;fill:#000;stroke:#000;stroke-width:1.6px;stroke-linejoin:round">λ</text>
<text transform="translate(1098.059,1624.467) scale(0.9851,0.9956)" font-size="72" style="font-family:'Liberation Sans', Arial, sans-serif;font-weight:bold;fill:#000">(nm)</text>
<text transform="translate(343.116,131.505) scale(0.9788,0.9829)" font-size="80" style="font-family:'Liberation Sans', Arial, sans-serif;font-weight:bold;fill:#000">LYSB:Yb (4 at.%)</text>
<text transform="translate(498.079,208.000) scale(0.9470,1.0400)" font-size="56" style="font-family:'Liberation Sans', Arial, sans-serif;font-weight:bold;fill:#000">300K</text>
<text transform="translate(1509.764,77.518) scale(1.2102,0.9320)" font-size="70" style="font-family:'Liberation Serif', 'DejaVu Serif', serif;font-weight:normal;fill:#000;stroke:#000;stroke-width:1.6px;stroke-linejoin:round">λ</text>
<text transform="translate(1557.965,95.022) scale(1.0508,0.9361)" font-size="45" style="font-family:'Liberation Sans', Arial, sans-serif;font-weight:normal;fill:#000;stroke:#000;stroke-width:1.2px;stroke-linejoin:round">ex</text>
<text transform="translate(1608.155,78.042) scale(1.0115,1.0451)" font-size="70" style="font-family:'Liberation Sans', Arial, sans-serif;font-weight:bold;fill:#000">=</text>
<text transform="translate(1664.989,78.599) scale(0.9170,1.0086)" font-size="70" style="font-family:'Liberation Sans', Arial, sans-serif;font-weight:bold;fill:#000">900</text>
<text transform="translate(1786.161,78.599) scale(0.9677,0.9919)" font-size="70" style="font-family:'Liberation Sans', Arial, sans-serif;font-weight:bold;fill:#000">nm</text>
<text transform="translate(972.972,292.115) scale(1.0306,1.0569)" font-size="48" style="font-family:'Liberation Sans', Arial, sans-serif;font-weight:normal;fill:#000">2</text>
<text transform="translate(997.896,317.399) scale(0.9321,1.0164)" font-size="70" style="font-family:'Liberation Sans', Arial, sans-serif;font-weight:bold;fill:#000">F</text>
<text transform="translate(1039.125,333.966) scale(0.9699,0.9141)" font-size="45" style="font-family:'Liberation Sans', Arial, sans-serif;font-weight:normal;fill:#000;stroke:#000;stroke-width:1.6px;stroke-linejoin:round">5/2</text>
<text transform="translate(1189.783,292.000) scale(1.0168,1.0026)" font-size="48" style="font-family:'Liberation Sans', Arial, sans-serif;font-weight:normal;fill:#000">2</text>
<text transform="translate(1213.962,317.399) scale(0.9288,1.0164)" font-size="70" style="font-family:'Liberation Sans', Arial, sans-serif;font-weight:bold;fill:#000">F</text>
<text transform="translate(1255.940,334.083) scale(0.9631,0.9462)" font-size="45" style="font-family:'Liberation Sans', Arial, sans-serif;font-weight:normal;fill:#000;stroke:#000;stroke-width:1.6px;stroke-linejoin:round">7/2</text>
<text transform="translate(1527.509,697.264) scale(1.3732,1.1740)" font-size="62" style="font-family:'DejaVu Serif', 'Liberation Serif', serif;font-weight:normal;fill:#000">σ</text>
<text transform="translate(1532.559,773.565) scale(1.3660,1.1893)" font-size="62" style="font-family:'Liberation Serif', 'DejaVu Serif', serif;font-weight:normal;fill:#f00;stroke:#f00;stroke-width:0.6px;stroke-linejoin:round">π</text>
<text transform="translate(119.217,884.370) rotate(-90) scale(1.4238,0.9997)" font-size="62" style="font-family:'Liberation Serif', 'DejaVu Serif', serif;font-weight:normal;fill:#000;stroke:#000;stroke-width:1.6px;stroke-linejoin:round">σ</text>
<text transform="translate(141.000,836.058) rotate(-90) scale(0.9165,1.0042)" font-size="50" style="font-family:'Liberation Sans', Arial, sans-serif;font-weight:bold;fill:#000">em</text>
<text transform="translate(119.079,767.384) rotate(-90) scale(0.9949,0.9811)" font-size="72" style="font-family:'Liberation Sans', Arial, sans-serif;font-weight:bold;fill:#000">(x10</text>
<text transform="translate(90.628,623.213) rotate(-90) scale(0.8800,1.0918)" font-size="50" style="font-family:'Liberation Sans', Arial, sans-serif;font-weight:bold;fill:#000">-21</text>
<text transform="translate(120.418,551.619) rotate(-90) scale(1.0052,1.0265)" font-size="72" style="font-family:'Liberation Sans', Arial, sans-serif;font-weight:bold;fill:#000">cm</text>
<text transform="translate(90.628,450.265) rotate(-90) scale(1.0194,1.0918)" font-size="50" style="font-family:'Liberation Sans', Arial, sans-serif;font-weight:bold;fill:#000">2</text>
<text transform="translate(119.805,418.710) rotate(-90) scale(0.8460,0.9855)" font-size="72" style="font-family:'Liberation Sans', Arial, sans-serif;font-weight:bold;fill:#000">)</text>
<path d="M1106,299.5 H1190" stroke="#000" stroke-width="3"/>
<path d="M1152,291 L1182,300 L1152,311 Z" fill="#000"/>
</g>
</svg>
</body></html>
